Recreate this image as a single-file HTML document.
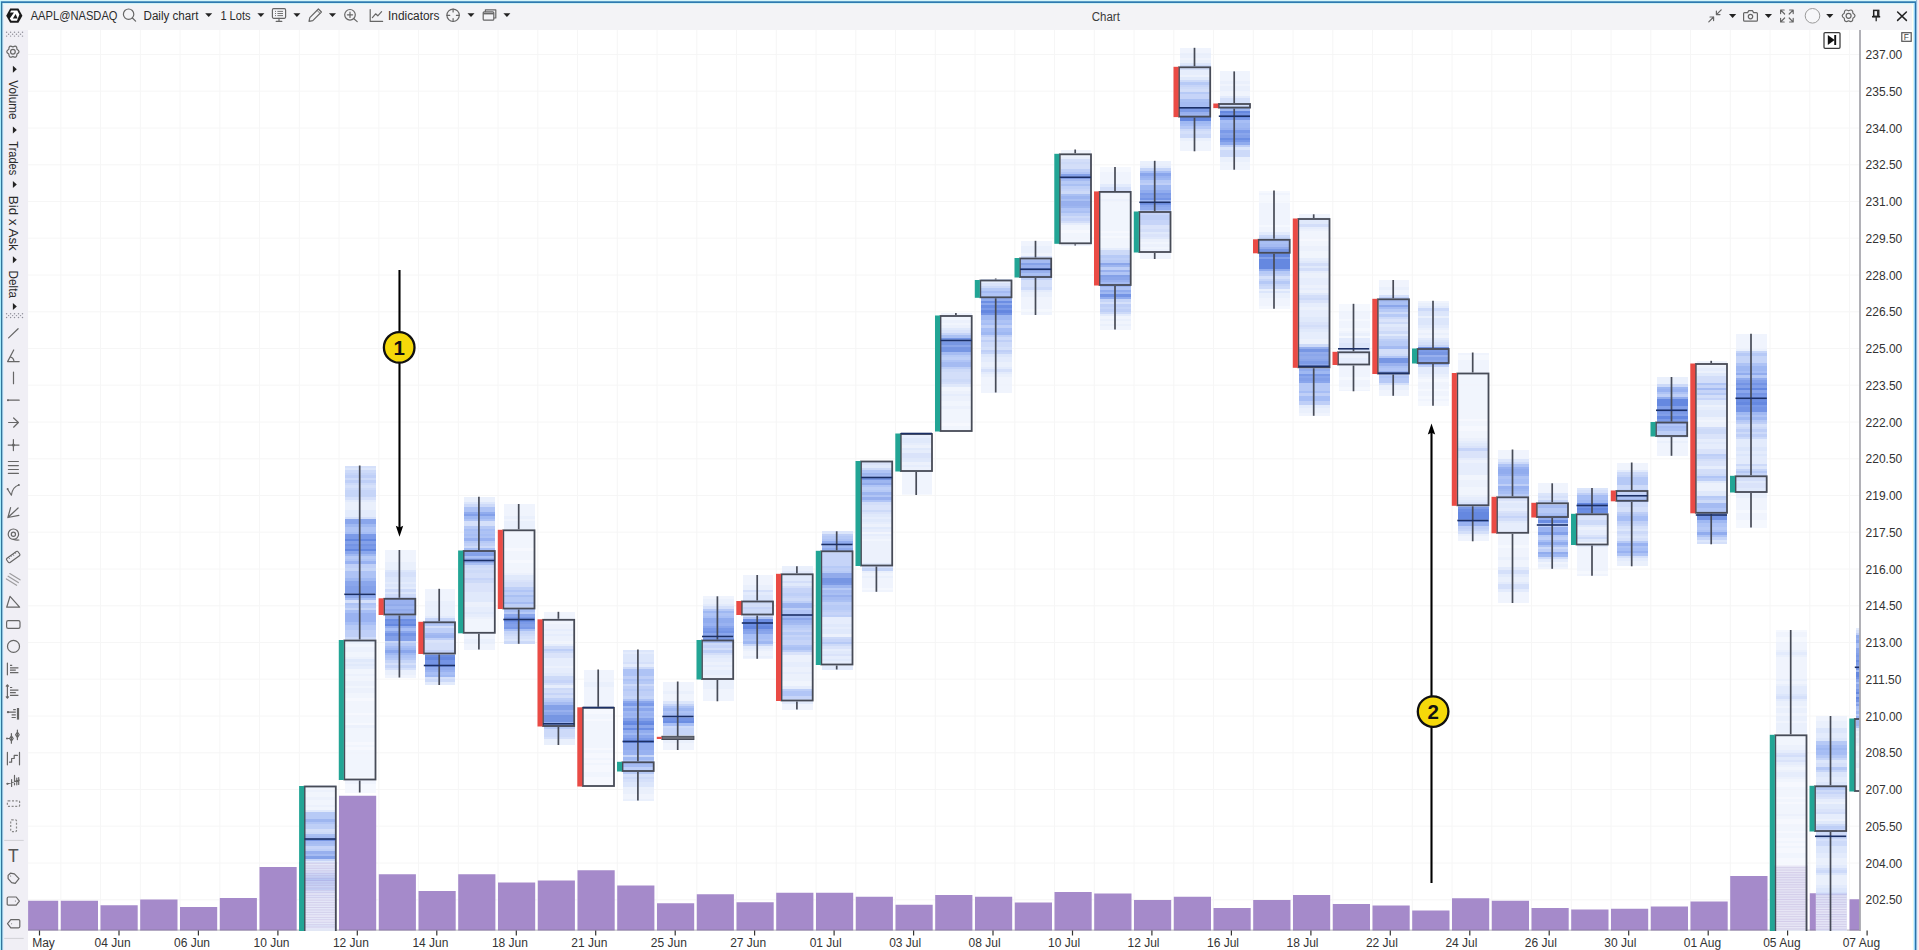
<!DOCTYPE html>
<html lang="en"><head><meta charset="utf-8"><title>Chart</title>
<style>
html,body{margin:0;padding:0;background:#fff;overflow:hidden}
body{width:1919px;height:950px;position:relative;font-family:"Liberation Sans",Arial,sans-serif}
svg{position:absolute;left:0;top:0;display:block}
svg text{font-family:"Liberation Sans",Arial,sans-serif}
</style></head><body>
<svg width="1919" height="950" viewBox="0 0 1919 950">
<g id="bg"><rect x="0" y="0" width="1919" height="950" fill="#fff"/><rect x="0" y="0" width="1919" height="1.3" fill="#d9f7fb"/><rect x="0" y="0" width="1" height="950" fill="#a6ebfb"/><rect x="1916" y="0" width="3" height="950" fill="#fdf6f4"/><rect x="2" y="3" width="1912.5" height="27" fill="#f3f3f6"/><rect x="2" y="30" width="26.1" height="921" fill="#f0eff5"/></g>
<g id="chart">
<path d="M28.1 54.5H1860M28.1 91.2H1860M28.1 128.0H1860M28.1 164.8H1860M28.1 201.5H1860M28.1 238.2H1860M28.1 275.0H1860M28.1 311.8H1860M28.1 348.5H1860M28.1 385.2H1860M28.1 422.0H1860M28.1 458.8H1860M28.1 495.5H1860M28.1 532.2H1860M28.1 569.0H1860M28.1 605.8H1860M28.1 642.5H1860M28.1 679.2H1860M28.1 716.0H1860M28.1 752.8H1860M28.1 789.5H1860M28.1 826.2H1860M28.1 863.0H1860M28.1 899.8H1860M60.9 30V930.5M100.6 30V930.5M140.4 30V930.5M180.1 30V930.5M219.9 30V930.5M259.6 30V930.5M299.4 30V930.5M339.1 30V930.5M378.9 30V930.5M418.6 30V930.5M458.4 30V930.5M498.1 30V930.5M537.8 30V930.5M577.6 30V930.5M617.3 30V930.5M657.1 30V930.5M696.8 30V930.5M736.6 30V930.5M776.3 30V930.5M816.1 30V930.5M855.8 30V930.5M895.6 30V930.5M935.3 30V930.5M975.1 30V930.5M1014.8 30V930.5M1054.6 30V930.5M1094.3 30V930.5M1134.1 30V930.5M1173.8 30V930.5M1213.6 30V930.5M1253.3 30V930.5M1293.1 30V930.5M1332.8 30V930.5M1372.6 30V930.5M1412.3 30V930.5M1452.1 30V930.5M1491.8 30V930.5M1531.6 30V930.5M1571.3 30V930.5M1611.1 30V930.5M1650.8 30V930.5M1690.6 30V930.5M1730.3 30V930.5M1770.1 30V930.5M1809.8 30V930.5M1849.6 30V930.5" stroke="#f6f6f6" stroke-width="1" fill="none"/>
<path d="M28.1 900.8H58.2V930.5H28.1zM60.8 900.8H98.0V930.5H60.8zM100.5 905.3H137.7V930.5H100.5zM140.2 899.5H177.5V930.5H140.2zM180.0 907.0H217.2V930.5H180.0zM219.8 898.0H256.9V930.5H219.8zM259.5 867.0H296.7V930.5H259.5zM299.2 862.0H336.4V930.5H299.2zM339.0 795.8H376.2V930.5H339.0zM378.8 874.3H415.9V930.5H378.8zM418.5 891.0H455.7V930.5H418.5zM458.2 874.3H495.4V930.5H458.2zM498.0 882.5H535.2V930.5H498.0zM537.8 880.5H574.9V930.5H537.8zM577.5 870.3H614.7V930.5H577.5zM617.2 885.5H654.4V930.5H617.2zM657.0 903.3H694.2V930.5H657.0zM696.8 894.3H733.9V930.5H696.8zM736.5 902.3H773.7V930.5H736.5zM776.2 892.8H813.4V930.5H776.2zM816.0 892.8H853.2V930.5H816.0zM855.8 896.8H892.9V930.5H855.8zM895.5 904.8H932.7V930.5H895.5zM935.2 895.0H972.4V930.5H935.2zM975.0 896.8H1012.2V930.5H975.0zM1014.8 902.5H1052.0V930.5H1014.8zM1054.5 892.0H1091.7V930.5H1054.5zM1094.2 893.5H1131.5V930.5H1094.2zM1134.0 900.0H1171.2V930.5H1134.0zM1173.8 896.8H1211.0V930.5H1173.8zM1213.5 908.0H1250.7V930.5H1213.5zM1253.2 900.0H1290.5V930.5H1253.2zM1293.0 895.0H1330.2V930.5H1293.0zM1332.8 904.0H1370.0V930.5H1332.8zM1372.5 905.5H1409.7V930.5H1372.5zM1412.2 910.5H1449.5V930.5H1412.2zM1452.0 898.3H1489.2V930.5H1452.0zM1491.8 900.8H1529.0V930.5H1491.8zM1531.5 908.0H1568.7V930.5H1531.5zM1571.2 909.5H1608.5V930.5H1571.2zM1611.0 908.8H1648.2V930.5H1611.0zM1650.8 906.5H1688.0V930.5H1650.8zM1690.5 901.5H1727.7V930.5H1690.5zM1730.2 876.0H1767.5V930.5H1730.2zM1770.0 865.5H1807.2V930.5H1770.0zM1809.8 893.3H1847.0V930.5H1809.8zM1849.5 899.3H1860.0V930.5H1849.5z" fill="#a58aca"/>
<path d="M28.1 930.1H1860" stroke="#6f6f78" stroke-width="1.1" opacity=".4"/>
<rect x="304.1" y="862" width="32.4" height="68.5" fill="#fff" opacity=".45"/>
<rect x="1815.5" y="893.3" width="31.2" height="37.2" fill="#fff" opacity=".35"/>
<g opacity=".82" shape-rendering="crispEdges"><path d="M305.2 785.00H336.1V787.45H305.2zM305.2 787.45H336.1V789.90H305.2zM305.2 792.35H336.1V794.80H305.2zM305.2 794.80H336.1V797.25H305.2zM305.2 799.70H336.1V802.15H305.2zM305.2 802.15H336.1V804.60H305.2zM305.2 807.05H336.1V809.50H305.2zM305.2 914.85H336.1V917.30H305.2zM305.2 919.75H336.1V922.20H305.2zM305.2 932.00H336.1V934.45H305.2zM305.2 934.45H336.1V936.90H305.2zM305.2 936.90H336.1V939.35H305.2zM305.2 939.35H336.1V940.00H305.2z" fill="rgb(237,242,253)"/><path d="M305.2 789.90H336.1V792.35H305.2zM305.2 797.25H336.1V799.70H305.2zM305.2 804.60H336.1V807.05H305.2zM305.2 863.40H336.1V865.85H305.2zM305.2 892.80H336.1V895.25H305.2zM305.2 897.70H336.1V900.15H305.2zM305.2 900.15H336.1V902.60H305.2zM305.2 902.60H336.1V905.05H305.2zM305.2 905.05H336.1V907.50H305.2zM305.2 907.50H336.1V909.95H305.2zM305.2 909.95H336.1V912.40H305.2zM305.2 912.40H336.1V914.85H305.2zM305.2 917.30H336.1V919.75H305.2zM305.2 922.20H336.1V924.65H305.2zM305.2 927.10H336.1V929.55H305.2zM305.2 929.55H336.1V932.00H305.2z" fill="rgb(230,237,252)"/><path d="M305.2 865.85H336.1V868.30H305.2zM305.2 868.30H336.1V870.75H305.2zM305.2 895.25H336.1V897.70H305.2zM305.2 924.65H336.1V927.10H305.2z" fill="rgb(222,231,252)"/><path d="M305.2 809.50H336.1V811.95H305.2zM305.2 860.95H336.1V863.40H305.2zM305.2 870.75H336.1V873.20H305.2zM305.2 890.35H336.1V892.80H305.2z" fill="rgb(213,225,251)"/><path d="M305.2 829.10H336.1V831.55H305.2zM305.2 873.20H336.1V875.65H305.2zM305.2 885.45H336.1V887.90H305.2z" fill="rgb(195,211,248)"/><path d="M305.2 831.55H336.1V834.00H305.2zM305.2 875.65H336.1V878.10H305.2zM305.2 880.55H336.1V883.00H305.2zM305.2 883.00H336.1V885.45H305.2zM305.2 887.90H336.1V890.35H305.2z" fill="rgb(186,205,247)"/><path d="M305.2 846.25H336.1V848.70H305.2zM305.2 858.50H336.1V860.95H305.2z" fill="rgb(177,197,246)"/><path d="M305.2 824.20H336.1V826.65H305.2zM305.2 826.65H336.1V829.10H305.2zM305.2 848.70H336.1V851.15H305.2zM305.2 878.10H336.1V880.55H305.2z" fill="rgb(167,190,245)"/><path d="M305.2 811.95H336.1V814.40H305.2zM305.2 814.40H336.1V816.85H305.2zM305.2 816.85H336.1V819.30H305.2z" fill="rgb(157,183,244)"/><path d="M305.2 821.75H336.1V824.20H305.2z" fill="rgb(148,176,243)"/><path d="M305.2 834.00H336.1V836.45H305.2zM305.2 843.80H336.1V846.25H305.2z" fill="rgb(139,169,240)"/><path d="M305.2 836.45H336.1V838.90H305.2zM305.2 841.35H336.1V843.80H305.2zM305.2 853.60H336.1V856.05H305.2z" fill="rgb(131,162,238)"/><path d="M305.2 819.30H336.1V821.75H305.2z" fill="rgb(122,154,235)"/><path d="M305.2 851.15H336.1V853.60H305.2z" fill="rgb(113,147,232)"/><path d="M305.2 856.05H336.1V858.50H305.2z" fill="rgb(86,125,224)"/><path d="M305.2 838.90H336.1V841.35H305.2z" fill="rgb(68,110,218)"/></g>
<path d="M305.2 863.40H336.1M305.2 865.85H336.1M305.2 868.30H336.1M305.2 870.75H336.1M305.2 873.20H336.1M305.2 875.65H336.1M305.2 878.10H336.1M305.2 880.55H336.1M305.2 883.00H336.1M305.2 885.45H336.1M305.2 887.90H336.1M305.2 890.35H336.1M305.2 892.80H336.1M305.2 895.25H336.1M305.2 897.70H336.1M305.2 900.15H336.1M305.2 902.60H336.1M305.2 905.05H336.1M305.2 907.50H336.1M305.2 909.95H336.1M305.2 912.40H336.1M305.2 914.85H336.1M305.2 917.30H336.1M305.2 919.75H336.1M305.2 922.20H336.1M305.2 924.65H336.1M305.2 927.10H336.1" stroke="#9a7fc4" stroke-width=".9" opacity=".28"/>
<g opacity=".82" shape-rendering="crispEdges"><path d="M345.0 698.25H375.8V700.70H345.0zM345.0 712.95H375.8V715.40H345.0zM345.0 722.75H375.8V725.20H345.0zM345.0 742.35H375.8V744.80H345.0zM345.0 747.25H375.8V749.70H345.0zM345.0 776.65H375.8V779.10H345.0zM345.0 784.00H375.8V786.45H345.0zM345.0 786.45H375.8V788.90H345.0zM345.0 788.90H375.8V791.35H345.0zM345.0 791.35H375.8V792.50H345.0z" fill="rgb(243,247,254)"/><path d="M345.0 644.35H375.8V646.80H345.0zM345.0 651.70H375.8V654.15H345.0zM345.0 654.15H375.8V656.60H345.0zM345.0 668.85H375.8V671.30H345.0zM345.0 671.30H375.8V673.75H345.0zM345.0 676.20H375.8V678.65H345.0zM345.0 678.65H375.8V681.10H345.0zM345.0 686.00H375.8V688.45H345.0zM345.0 693.35H375.8V695.80H345.0zM345.0 695.80H375.8V698.25H345.0zM345.0 700.70H375.8V703.15H345.0zM345.0 703.15H375.8V705.60H345.0zM345.0 705.60H375.8V708.05H345.0zM345.0 708.05H375.8V710.50H345.0zM345.0 710.50H375.8V712.95H345.0zM345.0 715.40H375.8V717.85H345.0zM345.0 717.85H375.8V720.30H345.0zM345.0 720.30H375.8V722.75H345.0zM345.0 727.65H375.8V730.10H345.0zM345.0 730.10H375.8V732.55H345.0zM345.0 732.55H375.8V735.00H345.0zM345.0 735.00H375.8V737.45H345.0zM345.0 737.45H375.8V739.90H345.0zM345.0 739.90H375.8V742.35H345.0zM345.0 744.80H375.8V747.25H345.0zM345.0 749.70H375.8V752.15H345.0zM345.0 752.15H375.8V754.60H345.0zM345.0 754.60H375.8V757.05H345.0zM345.0 757.05H375.8V759.50H345.0zM345.0 759.50H375.8V761.95H345.0zM345.0 761.95H375.8V764.40H345.0zM345.0 764.40H375.8V766.85H345.0zM345.0 766.85H375.8V769.30H345.0zM345.0 769.30H375.8V771.75H345.0zM345.0 771.75H375.8V774.20H345.0zM345.0 774.20H375.8V776.65H345.0zM345.0 779.10H375.8V781.55H345.0zM345.0 781.55H375.8V784.00H345.0z" fill="rgb(237,242,253)"/><path d="M345.0 502.25H375.8V504.70H345.0zM345.0 504.70H375.8V507.15H345.0zM345.0 507.15H375.8V509.60H345.0zM345.0 641.90H375.8V644.35H345.0zM345.0 646.80H375.8V649.25H345.0zM345.0 649.25H375.8V651.70H345.0zM345.0 656.60H375.8V659.05H345.0zM345.0 673.75H375.8V676.20H345.0zM345.0 681.10H375.8V683.55H345.0zM345.0 683.55H375.8V686.00H345.0zM345.0 688.45H375.8V690.90H345.0zM345.0 690.90H375.8V693.35H345.0zM345.0 725.20H375.8V727.65H345.0z" fill="rgb(230,237,252)"/><path d="M345.0 499.80H375.8V502.25H345.0zM345.0 509.60H375.8V512.05H345.0zM345.0 512.05H375.8V514.50H345.0zM345.0 514.50H375.8V516.95H345.0zM345.0 661.50H375.8V663.95H345.0zM345.0 666.40H375.8V668.85H345.0z" fill="rgb(222,231,252)"/><path d="M345.0 467.95H375.8V470.40H345.0zM345.0 639.45H375.8V641.90H345.0zM345.0 659.05H375.8V661.50H345.0zM345.0 663.95H375.8V666.40H345.0z" fill="rgb(213,225,251)"/><path d="M345.0 465.50H375.8V467.95H345.0zM345.0 485.10H375.8V487.55H345.0zM345.0 497.35H375.8V499.80H345.0zM345.0 516.95H375.8V519.40H345.0zM345.0 600.25H375.8V602.70H345.0z" fill="rgb(204,218,250)"/><path d="M345.0 470.40H375.8V472.85H345.0zM345.0 477.75H375.8V480.20H345.0zM345.0 482.65H375.8V485.10H345.0zM345.0 487.55H375.8V490.00H345.0zM345.0 637.00H375.8V639.45H345.0z" fill="rgb(195,211,248)"/><path d="M345.0 472.85H375.8V475.30H345.0zM345.0 490.00H375.8V492.45H345.0zM345.0 492.45H375.8V494.90H345.0zM345.0 494.90H375.8V497.35H345.0zM345.0 568.40H375.8V570.85H345.0zM345.0 607.60H375.8V610.05H345.0z" fill="rgb(186,205,247)"/><path d="M345.0 475.30H375.8V477.75H345.0zM345.0 480.20H375.8V482.65H345.0zM345.0 563.50H375.8V565.95H345.0zM345.0 565.95H375.8V568.40H345.0zM345.0 629.65H375.8V632.10H345.0zM345.0 632.10H375.8V634.55H345.0zM345.0 634.55H375.8V637.00H345.0z" fill="rgb(177,197,246)"/><path d="M345.0 556.15H375.8V558.60H345.0zM345.0 605.15H375.8V607.60H345.0zM345.0 624.75H375.8V627.20H345.0zM345.0 627.20H375.8V629.65H345.0z" fill="rgb(167,190,245)"/><path d="M345.0 526.75H375.8V529.20H345.0zM345.0 529.20H375.8V531.65H345.0zM345.0 558.60H375.8V561.05H345.0zM345.0 570.85H375.8V573.30H345.0zM345.0 573.30H375.8V575.75H345.0zM345.0 575.75H375.8V578.20H345.0zM345.0 602.70H375.8V605.15H345.0z" fill="rgb(157,183,244)"/><path d="M345.0 531.65H375.8V534.10H345.0zM345.0 592.90H375.8V595.35H345.0zM345.0 597.80H375.8V600.25H345.0zM345.0 610.05H375.8V612.50H345.0zM345.0 622.30H375.8V624.75H345.0z" fill="rgb(148,176,243)"/><path d="M345.0 524.30H375.8V526.75H345.0zM345.0 553.70H375.8V556.15H345.0zM345.0 578.20H375.8V580.65H345.0z" fill="rgb(139,169,240)"/><path d="M345.0 561.05H375.8V563.50H345.0zM345.0 612.50H375.8V614.95H345.0zM345.0 614.95H375.8V617.40H345.0zM345.0 617.40H375.8V619.85H345.0zM345.0 619.85H375.8V622.30H345.0z" fill="rgb(131,162,238)"/><path d="M345.0 595.35H375.8V597.80H345.0z" fill="rgb(122,154,235)"/><path d="M345.0 519.40H375.8V521.85H345.0zM345.0 521.85H375.8V524.30H345.0zM345.0 551.25H375.8V553.70H345.0zM345.0 580.65H375.8V583.10H345.0zM345.0 583.10H375.8V585.55H345.0z" fill="rgb(113,147,232)"/><path d="M345.0 541.45H375.8V543.90H345.0zM345.0 585.55H375.8V588.00H345.0zM345.0 588.00H375.8V590.45H345.0zM345.0 590.45H375.8V592.90H345.0z" fill="rgb(104,140,229)"/><path d="M345.0 534.10H375.8V536.55H345.0zM345.0 536.55H375.8V539.00H345.0zM345.0 546.35H375.8V548.80H345.0z" fill="rgb(95,133,227)"/><path d="M345.0 543.90H375.8V546.35H345.0z" fill="rgb(86,125,224)"/><path d="M345.0 539.00H375.8V541.45H345.0zM345.0 548.80H375.8V551.25H345.0z" fill="rgb(68,110,218)"/></g>
<g opacity=".82" shape-rendering="crispEdges"><path d="M384.8 550.00H415.6V552.45H384.8zM384.8 552.45H415.6V554.90H384.8zM384.8 554.90H415.6V557.35H384.8zM384.8 557.35H415.6V559.80H384.8zM384.8 559.80H415.6V562.25H384.8zM384.8 674.95H415.6V677.40H384.8zM384.8 677.40H415.6V677.50H384.8z" fill="rgb(237,242,253)"/><path d="M384.8 562.25H415.6V564.70H384.8zM384.8 564.70H415.6V567.15H384.8zM384.8 567.15H415.6V569.60H384.8zM384.8 670.05H415.6V672.50H384.8zM384.8 672.50H415.6V674.95H384.8z" fill="rgb(230,237,252)"/><path d="M384.8 581.85H415.6V584.30H384.8zM384.8 586.75H415.6V589.20H384.8z" fill="rgb(222,231,252)"/><path d="M384.8 569.60H415.6V572.05H384.8zM384.8 576.95H415.6V579.40H384.8zM384.8 579.40H415.6V581.85H384.8zM384.8 584.30H415.6V586.75H384.8zM384.8 591.65H415.6V594.10H384.8z" fill="rgb(213,225,251)"/><path d="M384.8 572.05H415.6V574.50H384.8zM384.8 574.50H415.6V576.95H384.8zM384.8 662.70H415.6V665.15H384.8zM384.8 667.60H415.6V670.05H384.8z" fill="rgb(204,218,250)"/><path d="M384.8 589.20H415.6V591.65H384.8zM384.8 594.10H415.6V596.55H384.8z" fill="rgb(195,211,248)"/><path d="M384.8 640.65H415.6V643.10H384.8zM384.8 660.25H415.6V662.70H384.8zM384.8 665.15H415.6V667.60H384.8z" fill="rgb(186,205,247)"/><path d="M384.8 596.55H415.6V599.00H384.8z" fill="rgb(177,197,246)"/><path d="M384.8 643.10H415.6V645.55H384.8zM384.8 657.80H415.6V660.25H384.8z" fill="rgb(167,190,245)"/><path d="M384.8 655.35H415.6V657.80H384.8z" fill="rgb(157,183,244)"/><path d="M384.8 613.70H415.6V616.15H384.8zM384.8 628.40H415.6V630.85H384.8zM384.8 645.55H415.6V648.00H384.8z" fill="rgb(148,176,243)"/><path d="M384.8 648.00H415.6V650.45H384.8zM384.8 652.90H415.6V655.35H384.8z" fill="rgb(139,169,240)"/><path d="M384.8 606.35H415.6V608.80H384.8zM384.8 616.15H415.6V618.60H384.8zM384.8 625.95H415.6V628.40H384.8z" fill="rgb(122,154,235)"/><path d="M384.8 599.00H415.6V601.45H384.8zM384.8 601.45H415.6V603.90H384.8zM384.8 611.25H415.6V613.70H384.8zM384.8 630.85H415.6V633.30H384.8zM384.8 650.45H415.6V652.90H384.8z" fill="rgb(113,147,232)"/><path d="M384.8 603.90H415.6V606.35H384.8zM384.8 608.80H415.6V611.25H384.8zM384.8 635.75H415.6V638.20H384.8zM384.8 638.20H415.6V640.65H384.8z" fill="rgb(104,140,229)"/><path d="M384.8 621.05H415.6V623.50H384.8zM384.8 633.30H415.6V635.75H384.8z" fill="rgb(86,125,224)"/><path d="M384.8 618.60H415.6V621.05H384.8z" fill="rgb(77,118,221)"/><path d="M384.8 623.50H415.6V625.95H384.8z" fill="rgb(68,110,218)"/></g>
<g opacity=".82" shape-rendering="crispEdges"><path d="M424.5 588.80H455.3V591.25H424.5zM424.5 591.25H455.3V593.70H424.5zM424.5 593.70H455.3V596.15H424.5zM424.5 596.15H455.3V598.60H424.5zM424.5 598.60H455.3V601.05H424.5z" fill="rgb(237,242,253)"/><path d="M424.5 601.05H455.3V603.50H424.5zM424.5 603.50H455.3V605.95H424.5zM424.5 605.95H455.3V608.40H424.5zM424.5 608.40H455.3V610.85H424.5zM424.5 610.85H455.3V613.30H424.5zM424.5 613.30H455.3V615.75H424.5z" fill="rgb(230,237,252)"/><path d="M424.5 615.75H455.3V618.20H424.5zM424.5 681.90H455.3V684.35H424.5zM424.5 684.35H455.3V685.00H424.5z" fill="rgb(222,231,252)"/><path d="M424.5 640.25H455.3V642.70H424.5zM424.5 677.00H455.3V679.45H424.5z" fill="rgb(204,218,250)"/><path d="M424.5 625.55H455.3V628.00H424.5zM424.5 642.70H455.3V645.15H424.5zM424.5 645.15H455.3V647.60H424.5zM424.5 647.60H455.3V650.05H424.5zM424.5 679.45H455.3V681.90H424.5z" fill="rgb(195,211,248)"/><path d="M424.5 618.20H455.3V620.65H424.5z" fill="rgb(186,205,247)"/><path d="M424.5 620.65H455.3V623.10H424.5zM424.5 650.05H455.3V652.50H424.5z" fill="rgb(177,197,246)"/><path d="M424.5 628.00H455.3V630.45H424.5zM424.5 630.45H455.3V632.90H424.5zM424.5 637.80H455.3V640.25H424.5zM424.5 652.50H455.3V654.95H424.5z" fill="rgb(167,190,245)"/><path d="M424.5 623.10H455.3V625.55H424.5zM424.5 672.10H455.3V674.55H424.5z" fill="rgb(148,176,243)"/><path d="M424.5 674.55H455.3V677.00H424.5z" fill="rgb(139,169,240)"/><path d="M424.5 632.90H455.3V635.35H424.5zM424.5 669.65H455.3V672.10H424.5z" fill="rgb(131,162,238)"/><path d="M424.5 635.35H455.3V637.80H424.5zM424.5 667.20H455.3V669.65H424.5z" fill="rgb(122,154,235)"/><path d="M424.5 664.75H455.3V667.20H424.5z" fill="rgb(95,133,227)"/><path d="M424.5 659.85H455.3V662.30H424.5zM424.5 662.30H455.3V664.75H424.5z" fill="rgb(86,125,224)"/><path d="M424.5 654.95H455.3V657.40H424.5z" fill="rgb(77,118,221)"/><path d="M424.5 657.40H455.3V659.85H424.5z" fill="rgb(68,110,218)"/></g>
<g opacity=".82" shape-rendering="crispEdges"><path d="M464.2 619.30H495.1V621.75H464.2zM464.2 621.75H495.1V624.20H464.2zM464.2 624.20H495.1V626.65H464.2zM464.2 626.65H495.1V629.10H464.2zM464.2 629.10H495.1V631.55H464.2zM464.2 631.55H495.1V634.00H464.2zM464.2 634.00H495.1V636.45H464.2zM464.2 636.45H495.1V638.90H464.2zM464.2 643.80H495.1V646.25H464.2zM464.2 646.25H495.1V648.70H464.2zM464.2 648.70H495.1V649.50H464.2z" fill="rgb(237,242,253)"/><path d="M464.2 496.80H495.1V499.25H464.2zM464.2 499.25H495.1V501.70H464.2zM464.2 602.15H495.1V604.60H464.2zM464.2 604.60H495.1V607.05H464.2zM464.2 616.85H495.1V619.30H464.2zM464.2 638.90H495.1V641.35H464.2zM464.2 641.35H495.1V643.80H464.2z" fill="rgb(230,237,252)"/><path d="M464.2 607.05H495.1V609.50H464.2zM464.2 609.50H495.1V611.95H464.2zM464.2 614.40H495.1V616.85H464.2z" fill="rgb(222,231,252)"/><path d="M464.2 501.70H495.1V504.15H464.2zM464.2 592.35H495.1V594.80H464.2zM464.2 594.80H495.1V597.25H464.2zM464.2 597.25H495.1V599.70H464.2zM464.2 599.70H495.1V602.15H464.2zM464.2 611.95H495.1V614.40H464.2z" fill="rgb(213,225,251)"/><path d="M464.2 521.30H495.1V523.75H464.2zM464.2 523.75H495.1V526.20H464.2zM464.2 582.55H495.1V585.00H464.2zM464.2 585.00H495.1V587.45H464.2zM464.2 587.45H495.1V589.90H464.2zM464.2 589.90H495.1V592.35H464.2z" fill="rgb(204,218,250)"/><path d="M464.2 504.15H495.1V506.60H464.2zM464.2 545.80H495.1V548.25H464.2zM464.2 567.85H495.1V570.30H464.2zM464.2 572.75H495.1V575.20H464.2zM464.2 575.20H495.1V577.65H464.2z" fill="rgb(195,211,248)"/><path d="M464.2 565.40H495.1V567.85H464.2zM464.2 570.30H495.1V572.75H464.2zM464.2 580.10H495.1V582.55H464.2z" fill="rgb(186,205,247)"/><path d="M464.2 543.35H495.1V545.80H464.2zM464.2 577.65H495.1V580.10H464.2z" fill="rgb(177,197,246)"/><path d="M464.2 526.20H495.1V528.65H464.2zM464.2 540.90H495.1V543.35H464.2z" fill="rgb(167,190,245)"/><path d="M464.2 506.60H495.1V509.05H464.2zM464.2 509.05H495.1V511.50H464.2zM464.2 518.85H495.1V521.30H464.2zM464.2 531.10H495.1V533.55H464.2zM464.2 536.00H495.1V538.45H464.2z" fill="rgb(157,183,244)"/><path d="M464.2 528.65H495.1V531.10H464.2zM464.2 533.55H495.1V536.00H464.2zM464.2 548.25H495.1V550.70H464.2z" fill="rgb(148,176,243)"/><path d="M464.2 516.40H495.1V518.85H464.2zM464.2 555.60H495.1V558.05H464.2zM464.2 562.95H495.1V565.40H464.2z" fill="rgb(139,169,240)"/><path d="M464.2 538.45H495.1V540.90H464.2z" fill="rgb(131,162,238)"/><path d="M464.2 511.50H495.1V513.95H464.2z" fill="rgb(122,154,235)"/><path d="M464.2 558.05H495.1V560.50H464.2z" fill="rgb(113,147,232)"/><path d="M464.2 513.95H495.1V516.40H464.2zM464.2 560.50H495.1V562.95H464.2z" fill="rgb(104,140,229)"/><path d="M464.2 550.70H495.1V553.15H464.2z" fill="rgb(95,133,227)"/><path d="M464.2 553.15H495.1V555.60H464.2z" fill="rgb(86,125,224)"/></g>
<g opacity=".82" shape-rendering="crispEdges"><path d="M504.0 548.10H534.8V550.55H504.0zM504.0 560.35H534.8V562.80H504.0z" fill="rgb(243,247,254)"/><path d="M504.0 504.00H534.8V506.45H504.0zM504.0 506.45H534.8V508.90H504.0zM504.0 508.90H534.8V511.35H504.0zM504.0 511.35H534.8V513.80H504.0zM504.0 513.80H534.8V516.25H504.0zM504.0 518.70H534.8V521.15H504.0zM504.0 528.50H534.8V530.95H504.0zM504.0 530.95H534.8V533.40H504.0zM504.0 533.40H534.8V535.85H504.0zM504.0 535.85H534.8V538.30H504.0zM504.0 538.30H534.8V540.75H504.0zM504.0 540.75H534.8V543.20H504.0zM504.0 543.20H534.8V545.65H504.0zM504.0 545.65H534.8V548.10H504.0zM504.0 550.55H534.8V553.00H504.0zM504.0 553.00H534.8V555.45H504.0zM504.0 555.45H534.8V557.90H504.0zM504.0 557.90H534.8V560.35H504.0zM504.0 562.80H534.8V565.25H504.0zM504.0 565.25H534.8V567.70H504.0zM504.0 567.70H534.8V570.15H504.0zM504.0 570.15H534.8V572.60H504.0z" fill="rgb(237,242,253)"/><path d="M504.0 516.25H534.8V518.70H504.0zM504.0 521.15H534.8V523.60H504.0zM504.0 523.60H534.8V526.05H504.0zM504.0 526.05H534.8V528.50H504.0zM504.0 572.60H534.8V575.05H504.0z" fill="rgb(230,237,252)"/><path d="M504.0 575.05H534.8V577.50H504.0zM504.0 577.50H534.8V579.95H504.0zM504.0 638.75H534.8V641.20H504.0z" fill="rgb(213,225,251)"/><path d="M504.0 579.95H534.8V582.40H504.0zM504.0 606.90H534.8V609.35H504.0zM504.0 636.30H534.8V638.75H504.0zM504.0 643.65H534.8V643.80H504.0z" fill="rgb(204,218,250)"/><path d="M504.0 582.40H534.8V584.85H504.0zM504.0 584.85H534.8V587.30H504.0zM504.0 633.85H534.8V636.30H504.0zM504.0 641.20H534.8V643.65H504.0z" fill="rgb(195,211,248)"/><path d="M504.0 631.40H534.8V633.85H504.0z" fill="rgb(186,205,247)"/><path d="M504.0 587.30H534.8V589.75H504.0zM504.0 592.20H534.8V594.65H504.0zM504.0 604.45H534.8V606.90H504.0zM504.0 611.80H534.8V614.25H504.0z" fill="rgb(167,190,245)"/><path d="M504.0 597.10H534.8V599.55H504.0zM504.0 599.55H534.8V602.00H504.0z" fill="rgb(157,183,244)"/><path d="M504.0 589.75H534.8V592.20H504.0zM504.0 609.35H534.8V611.80H504.0zM504.0 628.95H534.8V631.40H504.0z" fill="rgb(148,176,243)"/><path d="M504.0 594.65H534.8V597.10H504.0z" fill="rgb(139,169,240)"/><path d="M504.0 602.00H534.8V604.45H504.0z" fill="rgb(131,162,238)"/><path d="M504.0 614.25H534.8V616.70H504.0z" fill="rgb(113,147,232)"/><path d="M504.0 624.05H534.8V626.50H504.0z" fill="rgb(104,140,229)"/><path d="M504.0 616.70H534.8V619.15H504.0zM504.0 621.60H534.8V624.05H504.0zM504.0 626.50H534.8V628.95H504.0z" fill="rgb(95,133,227)"/><path d="M504.0 619.15H534.8V621.60H504.0z" fill="rgb(77,118,221)"/></g>
<g opacity=".82" shape-rendering="crispEdges"><path d="M543.8 611.80H574.5V614.25H543.8zM543.8 614.25H574.5V616.70H543.8zM543.8 616.70H574.5V619.15H543.8zM543.8 621.60H574.5V624.05H543.8zM543.8 641.20H574.5V643.65H543.8z" fill="rgb(237,242,253)"/><path d="M543.8 619.15H574.5V621.60H543.8zM543.8 624.05H574.5V626.50H543.8zM543.8 626.50H574.5V628.95H543.8zM543.8 631.40H574.5V633.85H543.8zM543.8 636.30H574.5V638.75H543.8zM543.8 638.75H574.5V641.20H543.8zM543.8 665.70H574.5V668.15H543.8zM543.8 739.20H574.5V741.65H543.8zM543.8 741.65H574.5V744.10H543.8zM543.8 744.10H574.5V745.00H543.8z" fill="rgb(230,237,252)"/><path d="M543.8 628.95H574.5V631.40H543.8zM543.8 633.85H574.5V636.30H543.8zM543.8 643.65H574.5V646.10H543.8zM543.8 658.35H574.5V660.80H543.8zM543.8 660.80H574.5V663.25H543.8zM543.8 663.25H574.5V665.70H543.8zM543.8 668.15H574.5V670.60H543.8zM543.8 670.60H574.5V673.05H543.8zM543.8 685.30H574.5V687.75H543.8z" fill="rgb(222,231,252)"/><path d="M543.8 673.05H574.5V675.50H543.8z" fill="rgb(213,225,251)"/><path d="M543.8 653.45H574.5V655.90H543.8zM543.8 655.90H574.5V658.35H543.8zM543.8 736.75H574.5V739.20H543.8z" fill="rgb(204,218,250)"/><path d="M543.8 646.10H574.5V648.55H543.8zM543.8 682.85H574.5V685.30H543.8zM543.8 690.20H574.5V692.65H543.8zM543.8 695.10H574.5V697.55H543.8zM543.8 729.40H574.5V731.85H543.8zM543.8 731.85H574.5V734.30H543.8zM543.8 734.30H574.5V736.75H543.8z" fill="rgb(195,211,248)"/><path d="M543.8 651.00H574.5V653.45H543.8zM543.8 675.50H574.5V677.95H543.8zM543.8 677.95H574.5V680.40H543.8zM543.8 687.75H574.5V690.20H543.8z" fill="rgb(186,205,247)"/><path d="M543.8 680.40H574.5V682.85H543.8zM543.8 692.65H574.5V695.10H543.8z" fill="rgb(177,197,246)"/><path d="M543.8 648.55H574.5V651.00H543.8zM543.8 697.55H574.5V700.00H543.8zM543.8 726.95H574.5V729.40H543.8z" fill="rgb(167,190,245)"/><path d="M543.8 700.00H574.5V702.45H543.8z" fill="rgb(157,183,244)"/><path d="M543.8 724.50H574.5V726.95H543.8z" fill="rgb(139,169,240)"/><path d="M543.8 702.45H574.5V704.90H543.8z" fill="rgb(131,162,238)"/><path d="M543.8 709.80H574.5V712.25H543.8zM543.8 722.05H574.5V724.50H543.8z" fill="rgb(113,147,232)"/><path d="M543.8 712.25H574.5V714.70H543.8z" fill="rgb(95,133,227)"/><path d="M543.8 704.90H574.5V707.35H543.8zM543.8 707.35H574.5V709.80H543.8z" fill="rgb(86,125,224)"/><path d="M543.8 714.70H574.5V717.15H543.8zM543.8 717.15H574.5V719.60H543.8zM543.8 719.60H574.5V722.05H543.8z" fill="rgb(68,110,218)"/></g>
<g opacity=".82" shape-rendering="crispEdges"><path d="M583.5 706.25H614.3V708.70H583.5zM583.5 708.70H614.3V711.15H583.5zM583.5 711.15H614.3V713.60H583.5zM583.5 718.50H614.3V720.95H583.5zM583.5 747.90H614.3V750.35H583.5zM583.5 752.80H614.3V755.25H583.5zM583.5 755.25H614.3V757.70H583.5zM583.5 760.15H614.3V762.60H583.5zM583.5 765.05H614.3V767.50H583.5zM583.5 767.50H614.3V769.95H583.5zM583.5 769.95H614.3V772.40H583.5zM583.5 777.30H614.3V779.75H583.5zM583.5 779.75H614.3V782.20H583.5zM583.5 782.20H614.3V784.65H583.5zM583.5 784.65H614.3V787.00H583.5z" fill="rgb(243,247,254)"/><path d="M583.5 669.50H614.3V671.95H583.5zM583.5 671.95H614.3V674.40H583.5zM583.5 674.40H614.3V676.85H583.5zM583.5 676.85H614.3V679.30H583.5zM583.5 679.30H614.3V681.75H583.5zM583.5 686.65H614.3V689.10H583.5zM583.5 689.10H614.3V691.55H583.5zM583.5 691.55H614.3V694.00H583.5zM583.5 694.00H614.3V696.45H583.5zM583.5 696.45H614.3V698.90H583.5zM583.5 698.90H614.3V701.35H583.5zM583.5 701.35H614.3V703.80H583.5zM583.5 703.80H614.3V706.25H583.5zM583.5 713.60H614.3V716.05H583.5zM583.5 716.05H614.3V718.50H583.5zM583.5 720.95H614.3V723.40H583.5zM583.5 723.40H614.3V725.85H583.5zM583.5 725.85H614.3V728.30H583.5zM583.5 728.30H614.3V730.75H583.5zM583.5 730.75H614.3V733.20H583.5zM583.5 733.20H614.3V735.65H583.5zM583.5 735.65H614.3V738.10H583.5zM583.5 738.10H614.3V740.55H583.5zM583.5 740.55H614.3V743.00H583.5zM583.5 743.00H614.3V745.45H583.5zM583.5 745.45H614.3V747.90H583.5zM583.5 750.35H614.3V752.80H583.5zM583.5 757.70H614.3V760.15H583.5zM583.5 762.60H614.3V765.05H583.5zM583.5 772.40H614.3V774.85H583.5zM583.5 774.85H614.3V777.30H583.5z" fill="rgb(237,242,253)"/><path d="M583.5 681.75H614.3V684.20H583.5zM583.5 684.20H614.3V686.65H583.5z" fill="rgb(230,237,252)"/></g>
<g opacity=".82" shape-rendering="crispEdges"><path d="M623.2 794.05H654.0V796.50H623.2zM623.2 796.50H654.0V798.95H623.2z" fill="rgb(237,242,253)"/><path d="M623.2 786.70H654.0V789.15H623.2zM623.2 789.15H654.0V791.60H623.2zM623.2 791.60H654.0V794.05H623.2zM623.2 798.95H654.0V800.50H623.2z" fill="rgb(230,237,252)"/><path d="M623.2 651.95H654.0V654.40H623.2zM623.2 664.20H654.0V666.65H623.2z" fill="rgb(222,231,252)"/><path d="M623.2 649.50H654.0V651.95H623.2zM623.2 654.40H654.0V656.85H623.2zM623.2 656.85H654.0V659.30H623.2zM623.2 659.30H654.0V661.75H623.2zM623.2 781.80H654.0V784.25H623.2zM623.2 784.25H654.0V786.70H623.2z" fill="rgb(213,225,251)"/><path d="M623.2 661.75H654.0V664.20H623.2zM623.2 774.45H654.0V776.90H623.2zM623.2 779.35H654.0V781.80H623.2z" fill="rgb(204,218,250)"/><path d="M623.2 666.65H654.0V669.10H623.2zM623.2 683.80H654.0V686.25H623.2zM623.2 776.90H654.0V779.35H623.2z" fill="rgb(195,211,248)"/><path d="M623.2 696.05H654.0V698.50H623.2zM623.2 754.85H654.0V757.30H623.2z" fill="rgb(186,205,247)"/><path d="M623.2 676.45H654.0V678.90H623.2zM623.2 686.25H654.0V688.70H623.2zM623.2 691.15H654.0V693.60H623.2zM623.2 693.60H654.0V696.05H623.2z" fill="rgb(177,197,246)"/><path d="M623.2 681.35H654.0V683.80H623.2zM623.2 688.70H654.0V691.15H623.2zM623.2 767.10H654.0V769.55H623.2zM623.2 772.00H654.0V774.45H623.2z" fill="rgb(167,190,245)"/><path d="M623.2 669.10H654.0V671.55H623.2zM623.2 671.55H654.0V674.00H623.2zM623.2 674.00H654.0V676.45H623.2zM623.2 678.90H654.0V681.35H623.2zM623.2 698.50H654.0V700.95H623.2zM623.2 759.75H654.0V762.20H623.2z" fill="rgb(157,183,244)"/><path d="M623.2 769.55H654.0V772.00H623.2z" fill="rgb(148,176,243)"/><path d="M623.2 705.85H654.0V708.30H623.2zM623.2 710.75H654.0V713.20H623.2zM623.2 715.65H654.0V718.10H623.2zM623.2 732.80H654.0V735.25H623.2zM623.2 757.30H654.0V759.75H623.2z" fill="rgb(139,169,240)"/><path d="M623.2 713.20H654.0V715.65H623.2zM623.2 749.95H654.0V752.40H623.2zM623.2 752.40H654.0V754.85H623.2zM623.2 762.20H654.0V764.65H623.2zM623.2 764.65H654.0V767.10H623.2z" fill="rgb(131,162,238)"/><path d="M623.2 730.35H654.0V732.80H623.2zM623.2 742.60H654.0V745.05H623.2zM623.2 745.05H654.0V747.50H623.2zM623.2 747.50H654.0V749.95H623.2z" fill="rgb(122,154,235)"/><path d="M623.2 700.95H654.0V703.40H623.2zM623.2 708.30H654.0V710.75H623.2zM623.2 725.45H654.0V727.90H623.2zM623.2 735.25H654.0V737.70H623.2z" fill="rgb(113,147,232)"/><path d="M623.2 718.10H654.0V720.55H623.2z" fill="rgb(104,140,229)"/><path d="M623.2 703.40H654.0V705.85H623.2zM623.2 737.70H654.0V740.15H623.2z" fill="rgb(95,133,227)"/><path d="M623.2 720.55H654.0V723.00H623.2zM623.2 727.90H654.0V730.35H623.2zM623.2 740.15H654.0V742.60H623.2z" fill="rgb(77,118,221)"/><path d="M623.2 723.00H654.0V725.45H623.2z" fill="rgb(68,110,218)"/></g>
<g opacity=".82" shape-rendering="crispEdges"><path d="M663.0 681.50H693.8V683.95H663.0zM663.0 683.95H693.8V686.40H663.0zM663.0 686.40H693.8V688.85H663.0zM663.0 688.85H693.8V691.30H663.0zM663.0 693.75H693.8V696.20H663.0zM663.0 696.20H693.8V698.65H663.0zM663.0 698.65H693.8V701.10H663.0zM663.0 742.75H693.8V745.20H663.0zM663.0 745.20H693.8V747.65H663.0zM663.0 747.65H693.8V750.00H663.0z" fill="rgb(237,242,253)"/><path d="M663.0 691.30H693.8V693.75H663.0zM663.0 737.85H693.8V740.30H663.0zM663.0 740.30H693.8V742.75H663.0z" fill="rgb(230,237,252)"/><path d="M663.0 735.40H693.8V737.85H663.0z" fill="rgb(222,231,252)"/><path d="M663.0 701.10H693.8V703.55H663.0z" fill="rgb(213,225,251)"/><path d="M663.0 725.60H693.8V728.05H663.0z" fill="rgb(195,211,248)"/><path d="M663.0 703.55H693.8V706.00H663.0zM663.0 728.05H693.8V730.50H663.0zM663.0 730.50H693.8V732.95H663.0zM663.0 732.95H693.8V735.40H663.0z" fill="rgb(186,205,247)"/><path d="M663.0 706.00H693.8V708.45H663.0zM663.0 710.90H693.8V713.35H663.0z" fill="rgb(157,183,244)"/><path d="M663.0 713.35H693.8V715.80H663.0zM663.0 723.15H693.8V725.60H663.0z" fill="rgb(148,176,243)"/><path d="M663.0 708.45H693.8V710.90H663.0zM663.0 715.80H693.8V718.25H663.0z" fill="rgb(139,169,240)"/><path d="M663.0 718.25H693.8V720.70H663.0z" fill="rgb(86,125,224)"/><path d="M663.0 720.70H693.8V723.15H663.0z" fill="rgb(77,118,221)"/></g>
<g opacity=".82" shape-rendering="crispEdges"><path d="M702.8 596.30H733.5V598.75H702.8zM702.8 689.40H733.5V691.85H702.8zM702.8 691.85H733.5V694.30H702.8zM702.8 694.30H733.5V696.75H702.8zM702.8 696.75H733.5V699.20H702.8zM702.8 699.20H733.5V701.30H702.8z" fill="rgb(237,242,253)"/><path d="M702.8 598.75H733.5V601.20H702.8zM702.8 601.20H733.5V603.65H702.8zM702.8 662.45H733.5V664.90H702.8zM702.8 667.35H733.5V669.80H702.8zM702.8 674.70H733.5V677.15H702.8zM702.8 677.15H733.5V679.60H702.8zM702.8 679.60H733.5V682.05H702.8zM702.8 682.05H733.5V684.50H702.8zM702.8 684.50H733.5V686.95H702.8zM702.8 686.95H733.5V689.40H702.8z" fill="rgb(230,237,252)"/><path d="M702.8 603.65H733.5V606.10H702.8zM702.8 657.55H733.5V660.00H702.8zM702.8 660.00H733.5V662.45H702.8zM702.8 664.90H733.5V667.35H702.8zM702.8 669.80H733.5V672.25H702.8zM702.8 672.25H733.5V674.70H702.8z" fill="rgb(222,231,252)"/><path d="M702.8 655.10H733.5V657.55H702.8z" fill="rgb(213,225,251)"/><path d="M702.8 606.10H733.5V608.55H702.8z" fill="rgb(204,218,250)"/><path d="M702.8 647.75H733.5V650.20H702.8zM702.8 652.65H733.5V655.10H702.8z" fill="rgb(195,211,248)"/><path d="M702.8 642.85H733.5V645.30H702.8z" fill="rgb(186,205,247)"/><path d="M702.8 645.30H733.5V647.75H702.8z" fill="rgb(177,197,246)"/><path d="M702.8 608.55H733.5V611.00H702.8zM702.8 650.20H733.5V652.65H702.8z" fill="rgb(167,190,245)"/><path d="M702.8 613.45H733.5V615.90H702.8z" fill="rgb(157,183,244)"/><path d="M702.8 615.90H733.5V618.35H702.8z" fill="rgb(148,176,243)"/><path d="M702.8 611.00H733.5V613.45H702.8zM702.8 640.40H733.5V642.85H702.8z" fill="rgb(139,169,240)"/><path d="M702.8 623.25H733.5V625.70H702.8zM702.8 635.50H733.5V637.95H702.8z" fill="rgb(131,162,238)"/><path d="M702.8 618.35H733.5V620.80H702.8zM702.8 620.80H733.5V623.25H702.8z" fill="rgb(122,154,235)"/><path d="M702.8 625.70H733.5V628.15H702.8zM702.8 633.05H733.5V635.50H702.8z" fill="rgb(113,147,232)"/><path d="M702.8 628.15H733.5V630.60H702.8zM702.8 637.95H733.5V640.40H702.8z" fill="rgb(95,133,227)"/><path d="M702.8 630.60H733.5V633.05H702.8z" fill="rgb(86,125,224)"/></g>
<g opacity=".82" shape-rendering="crispEdges"><path d="M742.5 575.00H773.3V577.45H742.5zM742.5 577.45H773.3V579.90H742.5zM742.5 579.90H773.3V582.35H742.5zM742.5 582.35H773.3V584.80H742.5zM742.5 650.95H773.3V653.40H742.5zM742.5 653.40H773.3V655.85H742.5zM742.5 658.30H773.3V658.80H742.5z" fill="rgb(237,242,253)"/><path d="M742.5 584.80H773.3V587.25H742.5zM742.5 587.25H773.3V589.70H742.5zM742.5 648.50H773.3V650.95H742.5zM742.5 655.85H773.3V658.30H742.5z" fill="rgb(230,237,252)"/><path d="M742.5 592.15H773.3V594.60H742.5zM742.5 646.05H773.3V648.50H742.5z" fill="rgb(222,231,252)"/><path d="M742.5 594.60H773.3V597.05H742.5zM742.5 597.05H773.3V599.50H742.5z" fill="rgb(213,225,251)"/><path d="M742.5 589.70H773.3V592.15H742.5z" fill="rgb(204,218,250)"/><path d="M742.5 599.50H773.3V601.95H742.5zM742.5 604.40H773.3V606.85H742.5zM742.5 614.20H773.3V616.65H742.5z" fill="rgb(195,211,248)"/><path d="M742.5 601.95H773.3V604.40H742.5zM742.5 609.30H773.3V611.75H742.5zM742.5 611.75H773.3V614.20H742.5zM742.5 643.60H773.3V646.05H742.5z" fill="rgb(186,205,247)"/><path d="M742.5 606.85H773.3V609.30H742.5z" fill="rgb(177,197,246)"/><path d="M742.5 616.65H773.3V619.10H742.5zM742.5 638.70H773.3V641.15H742.5z" fill="rgb(157,183,244)"/><path d="M742.5 633.80H773.3V636.25H742.5zM742.5 636.25H773.3V638.70H742.5z" fill="rgb(148,176,243)"/><path d="M742.5 641.15H773.3V643.60H742.5z" fill="rgb(139,169,240)"/><path d="M742.5 631.35H773.3V633.80H742.5z" fill="rgb(113,147,232)"/><path d="M742.5 628.90H773.3V631.35H742.5z" fill="rgb(104,140,229)"/><path d="M742.5 619.10H773.3V621.55H742.5zM742.5 624.00H773.3V626.45H742.5z" fill="rgb(77,118,221)"/><path d="M742.5 621.55H773.3V624.00H742.5zM742.5 626.45H773.3V628.90H742.5z" fill="rgb(68,110,218)"/></g>
<g opacity=".82" shape-rendering="crispEdges"><path d="M782.2 681.45H813.0V683.90H782.2zM782.2 683.90H813.0V686.35H782.2zM782.2 703.50H813.0V705.95H782.2zM782.2 705.95H813.0V708.40H782.2zM782.2 708.40H813.0V709.50H782.2z" fill="rgb(237,242,253)"/><path d="M782.2 566.30H813.0V568.75H782.2zM782.2 568.75H813.0V571.20H782.2zM782.2 654.50H813.0V656.95H782.2zM782.2 656.95H813.0V659.40H782.2zM782.2 659.40H813.0V661.85H782.2zM782.2 666.75H813.0V669.20H782.2zM782.2 669.20H813.0V671.65H782.2zM782.2 674.10H813.0V676.55H782.2zM782.2 676.55H813.0V679.00H782.2zM782.2 679.00H813.0V681.45H782.2z" fill="rgb(230,237,252)"/><path d="M782.2 571.20H813.0V573.65H782.2zM782.2 661.85H813.0V664.30H782.2zM782.2 664.30H813.0V666.75H782.2zM782.2 671.65H813.0V674.10H782.2zM782.2 686.35H813.0V688.80H782.2zM782.2 701.05H813.0V703.50H782.2z" fill="rgb(222,231,252)"/><path d="M782.2 573.65H813.0V576.10H782.2zM782.2 576.10H813.0V578.55H782.2zM782.2 578.55H813.0V581.00H782.2zM782.2 583.45H813.0V585.90H782.2z" fill="rgb(213,225,251)"/><path d="M782.2 652.05H813.0V654.50H782.2z" fill="rgb(204,218,250)"/><path d="M782.2 581.00H813.0V583.45H782.2zM782.2 585.90H813.0V588.35H782.2zM782.2 698.60H813.0V701.05H782.2z" fill="rgb(195,211,248)"/><path d="M782.2 598.15H813.0V600.60H782.2z" fill="rgb(186,205,247)"/><path d="M782.2 588.35H813.0V590.80H782.2zM782.2 590.80H813.0V593.25H782.2zM782.2 595.70H813.0V598.15H782.2zM782.2 630.00H813.0V632.45H782.2zM782.2 634.90H813.0V637.35H782.2zM782.2 639.80H813.0V642.25H782.2zM782.2 642.25H813.0V644.70H782.2zM782.2 696.15H813.0V698.60H782.2z" fill="rgb(177,197,246)"/><path d="M782.2 593.25H813.0V595.70H782.2zM782.2 600.60H813.0V603.05H782.2zM782.2 607.95H813.0V610.40H782.2zM782.2 627.55H813.0V630.00H782.2zM782.2 637.35H813.0V639.80H782.2zM782.2 649.60H813.0V652.05H782.2zM782.2 688.80H813.0V691.25H782.2z" fill="rgb(167,190,245)"/><path d="M782.2 625.10H813.0V627.55H782.2zM782.2 632.45H813.0V634.90H782.2z" fill="rgb(157,183,244)"/><path d="M782.2 610.40H813.0V612.85H782.2zM782.2 612.85H813.0V615.30H782.2zM782.2 644.70H813.0V647.15H782.2zM782.2 691.25H813.0V693.70H782.2zM782.2 693.70H813.0V696.15H782.2z" fill="rgb(148,176,243)"/><path d="M782.2 647.15H813.0V649.60H782.2z" fill="rgb(139,169,240)"/><path d="M782.2 622.65H813.0V625.10H782.2z" fill="rgb(131,162,238)"/><path d="M782.2 603.05H813.0V605.50H782.2zM782.2 605.50H813.0V607.95H782.2zM782.2 615.30H813.0V617.75H782.2zM782.2 620.20H813.0V622.65H782.2z" fill="rgb(122,154,235)"/><path d="M782.2 617.75H813.0V620.20H782.2z" fill="rgb(95,133,227)"/></g>
<g opacity=".82" shape-rendering="crispEdges"><path d="M822.0 634.20H852.8V636.65H822.0zM822.0 663.60H852.8V666.05H822.0z" fill="rgb(230,237,252)"/><path d="M822.0 617.05H852.8V619.50H822.0zM822.0 619.50H852.8V621.95H822.0zM822.0 621.95H852.8V624.40H822.0zM822.0 626.85H852.8V629.30H822.0zM822.0 648.90H852.8V651.35H822.0zM822.0 656.25H852.8V658.70H822.0zM822.0 661.15H852.8V663.60H822.0zM822.0 666.05H852.8V668.50H822.0zM822.0 668.50H852.8V669.50H822.0z" fill="rgb(222,231,252)"/><path d="M822.0 531.30H852.8V533.75H822.0zM822.0 624.40H852.8V626.85H822.0zM822.0 629.30H852.8V631.75H822.0zM822.0 631.75H852.8V634.20H822.0zM822.0 651.35H852.8V653.80H822.0zM822.0 658.70H852.8V661.15H822.0z" fill="rgb(213,225,251)"/><path d="M822.0 646.45H852.8V648.90H822.0zM822.0 653.80H852.8V656.25H822.0z" fill="rgb(204,218,250)"/><path d="M822.0 550.90H852.8V553.35H822.0zM822.0 636.65H852.8V639.10H822.0zM822.0 644.00H852.8V646.45H822.0z" fill="rgb(186,205,247)"/><path d="M822.0 533.75H852.8V536.20H822.0zM822.0 553.35H852.8V555.80H822.0zM822.0 555.80H852.8V558.25H822.0zM822.0 558.25H852.8V560.70H822.0zM822.0 560.70H852.8V563.15H822.0zM822.0 563.15H852.8V565.60H822.0zM822.0 612.15H852.8V614.60H822.0zM822.0 639.10H852.8V641.55H822.0z" fill="rgb(177,197,246)"/><path d="M822.0 536.20H852.8V538.65H822.0zM822.0 568.05H852.8V570.50H822.0zM822.0 602.35H852.8V604.80H822.0zM822.0 609.70H852.8V612.15H822.0zM822.0 614.60H852.8V617.05H822.0z" fill="rgb(167,190,245)"/><path d="M822.0 538.65H852.8V541.10H822.0zM822.0 543.55H852.8V546.00H822.0zM822.0 565.60H852.8V568.05H822.0zM822.0 570.50H852.8V572.95H822.0zM822.0 587.65H852.8V590.10H822.0zM822.0 604.80H852.8V607.25H822.0zM822.0 607.25H852.8V609.70H822.0zM822.0 641.55H852.8V644.00H822.0z" fill="rgb(157,183,244)"/><path d="M822.0 546.00H852.8V548.45H822.0zM822.0 592.55H852.8V595.00H822.0zM822.0 599.90H852.8V602.35H822.0z" fill="rgb(139,169,240)"/><path d="M822.0 590.10H852.8V592.55H822.0zM822.0 597.45H852.8V599.90H822.0z" fill="rgb(131,162,238)"/><path d="M822.0 541.10H852.8V543.55H822.0zM822.0 548.45H852.8V550.90H822.0zM822.0 585.20H852.8V587.65H822.0z" fill="rgb(122,154,235)"/><path d="M822.0 595.00H852.8V597.45H822.0z" fill="rgb(113,147,232)"/><path d="M822.0 572.95H852.8V575.40H822.0zM822.0 575.40H852.8V577.85H822.0z" fill="rgb(104,140,229)"/><path d="M822.0 582.75H852.8V585.20H822.0z" fill="rgb(77,118,221)"/><path d="M822.0 577.85H852.8V580.30H822.0zM822.0 580.30H852.8V582.75H822.0z" fill="rgb(68,110,218)"/></g>
<g opacity=".82" shape-rendering="crispEdges"><path d="M861.8 587.90H892.5V590.35H861.8z" fill="rgb(243,247,254)"/><path d="M861.8 531.55H892.5V534.00H861.8zM861.8 538.90H892.5V541.35H861.8zM861.8 573.20H892.5V575.65H861.8zM861.8 578.10H892.5V580.55H861.8zM861.8 580.55H892.5V583.00H861.8zM861.8 583.00H892.5V585.45H861.8zM861.8 585.45H892.5V587.90H861.8zM861.8 590.35H892.5V591.80H861.8z" fill="rgb(237,242,253)"/><path d="M861.8 524.20H892.5V526.65H861.8zM861.8 536.45H892.5V538.90H861.8zM861.8 541.35H892.5V543.80H861.8zM861.8 543.80H892.5V546.25H861.8zM861.8 546.25H892.5V548.70H861.8zM861.8 548.70H892.5V551.15H861.8zM861.8 551.15H892.5V553.60H861.8zM861.8 553.60H892.5V556.05H861.8zM861.8 556.05H892.5V558.50H861.8zM861.8 558.50H892.5V560.95H861.8zM861.8 560.95H892.5V563.40H861.8zM861.8 570.75H892.5V573.20H861.8zM861.8 575.65H892.5V578.10H861.8z" fill="rgb(230,237,252)"/><path d="M861.8 516.85H892.5V519.30H861.8zM861.8 521.75H892.5V524.20H861.8zM861.8 529.10H892.5V531.55H861.8zM861.8 534.00H892.5V536.45H861.8z" fill="rgb(222,231,252)"/><path d="M861.8 465.40H892.5V467.85H861.8zM861.8 514.40H892.5V516.85H861.8zM861.8 519.30H892.5V521.75H861.8zM861.8 526.65H892.5V529.10H861.8zM861.8 563.40H892.5V565.85H861.8z" fill="rgb(213,225,251)"/><path d="M861.8 460.50H892.5V462.95H861.8zM861.8 462.95H892.5V465.40H861.8zM861.8 504.60H892.5V507.05H861.8zM861.8 507.05H892.5V509.50H861.8zM861.8 511.95H892.5V514.40H861.8zM861.8 565.85H892.5V568.30H861.8z" fill="rgb(204,218,250)"/><path d="M861.8 502.15H892.5V504.60H861.8z" fill="rgb(195,211,248)"/><path d="M861.8 467.85H892.5V470.30H861.8zM861.8 509.50H892.5V511.95H861.8zM861.8 568.30H892.5V570.75H861.8z" fill="rgb(186,205,247)"/><path d="M861.8 487.45H892.5V489.90H861.8z" fill="rgb(167,190,245)"/><path d="M861.8 489.90H892.5V492.35H861.8z" fill="rgb(157,183,244)"/><path d="M861.8 470.30H892.5V472.75H861.8zM861.8 485.00H892.5V487.45H861.8zM861.8 494.80H892.5V497.25H861.8zM861.8 499.70H892.5V502.15H861.8z" fill="rgb(148,176,243)"/><path d="M861.8 475.20H892.5V477.65H861.8z" fill="rgb(131,162,238)"/><path d="M861.8 472.75H892.5V475.20H861.8zM861.8 480.10H892.5V482.55H861.8zM861.8 492.35H892.5V494.80H861.8z" fill="rgb(122,154,235)"/><path d="M861.8 497.25H892.5V499.70H861.8z" fill="rgb(113,147,232)"/><path d="M861.8 482.55H892.5V485.00H861.8z" fill="rgb(104,140,229)"/><path d="M861.8 477.65H892.5V480.10H861.8z" fill="rgb(68,110,218)"/></g>
<g opacity=".82" shape-rendering="crispEdges"><path d="M901.5 494.25H932.3V495.00H901.5z" fill="rgb(243,247,254)"/><path d="M901.5 472.20H932.3V474.65H901.5zM901.5 474.65H932.3V477.10H901.5zM901.5 477.10H932.3V479.55H901.5zM901.5 479.55H932.3V482.00H901.5zM901.5 482.00H932.3V484.45H901.5zM901.5 484.45H932.3V486.90H901.5zM901.5 486.90H932.3V489.35H901.5zM901.5 489.35H932.3V491.80H901.5zM901.5 491.80H932.3V494.25H901.5z" fill="rgb(237,242,253)"/><path d="M901.5 433.00H932.3V435.45H901.5zM901.5 445.25H932.3V447.70H901.5zM901.5 462.40H932.3V464.85H901.5zM901.5 467.30H932.3V469.75H901.5zM901.5 469.75H932.3V472.20H901.5z" fill="rgb(230,237,252)"/><path d="M901.5 435.45H932.3V437.90H901.5zM901.5 442.80H932.3V445.25H901.5zM901.5 450.15H932.3V452.60H901.5zM901.5 464.85H932.3V467.30H901.5z" fill="rgb(222,231,252)"/><path d="M901.5 437.90H932.3V440.35H901.5zM901.5 440.35H932.3V442.80H901.5zM901.5 447.70H932.3V450.15H901.5zM901.5 457.50H932.3V459.95H901.5zM901.5 459.95H932.3V462.40H901.5z" fill="rgb(213,225,251)"/><path d="M901.5 452.60H932.3V455.05H901.5zM901.5 455.05H932.3V457.50H901.5z" fill="rgb(204,218,250)"/></g>
<g opacity=".82" shape-rendering="crispEdges"><path d="M941.2 423.25H972.0V425.70H941.2zM941.2 430.60H972.0V432.00H941.2z" fill="rgb(243,247,254)"/><path d="M941.2 313.00H972.0V315.45H941.2zM941.2 315.45H972.0V317.90H941.2zM941.2 317.90H972.0V320.35H941.2zM941.2 322.80H972.0V325.25H941.2zM941.2 386.50H972.0V388.95H941.2zM941.2 388.95H972.0V391.40H941.2zM941.2 401.20H972.0V403.65H941.2zM941.2 403.65H972.0V406.10H941.2zM941.2 408.55H972.0V411.00H941.2zM941.2 411.00H972.0V413.45H941.2zM941.2 413.45H972.0V415.90H941.2zM941.2 415.90H972.0V418.35H941.2zM941.2 418.35H972.0V420.80H941.2zM941.2 420.80H972.0V423.25H941.2zM941.2 425.70H972.0V428.15H941.2zM941.2 428.15H972.0V430.60H941.2z" fill="rgb(237,242,253)"/><path d="M941.2 320.35H972.0V322.80H941.2zM941.2 325.25H972.0V327.70H941.2zM941.2 391.40H972.0V393.85H941.2zM941.2 396.30H972.0V398.75H941.2zM941.2 398.75H972.0V401.20H941.2zM941.2 406.10H972.0V408.55H941.2z" fill="rgb(230,237,252)"/><path d="M941.2 393.85H972.0V396.30H941.2z" fill="rgb(222,231,252)"/><path d="M941.2 327.70H972.0V330.15H941.2zM941.2 384.05H972.0V386.50H941.2z" fill="rgb(213,225,251)"/><path d="M941.2 330.15H972.0V332.60H941.2z" fill="rgb(204,218,250)"/><path d="M941.2 371.80H972.0V374.25H941.2zM941.2 374.25H972.0V376.70H941.2zM941.2 376.70H972.0V379.15H941.2zM941.2 381.60H972.0V384.05H941.2z" fill="rgb(195,211,248)"/><path d="M941.2 369.35H972.0V371.80H941.2zM941.2 379.15H972.0V381.60H941.2z" fill="rgb(186,205,247)"/><path d="M941.2 332.60H972.0V335.05H941.2z" fill="rgb(177,197,246)"/><path d="M941.2 357.10H972.0V359.55H941.2zM941.2 366.90H972.0V369.35H941.2z" fill="rgb(167,190,245)"/><path d="M941.2 354.65H972.0V357.10H941.2z" fill="rgb(157,183,244)"/><path d="M941.2 359.55H972.0V362.00H941.2z" fill="rgb(148,176,243)"/><path d="M941.2 335.05H972.0V337.50H941.2z" fill="rgb(139,169,240)"/><path d="M941.2 352.20H972.0V354.65H941.2zM941.2 362.00H972.0V364.45H941.2zM941.2 364.45H972.0V366.90H941.2z" fill="rgb(131,162,238)"/><path d="M941.2 339.95H972.0V342.40H941.2zM941.2 344.85H972.0V347.30H941.2z" fill="rgb(95,133,227)"/><path d="M941.2 337.50H972.0V339.95H941.2zM941.2 342.40H972.0V344.85H941.2zM941.2 347.30H972.0V349.75H941.2zM941.2 349.75H972.0V352.20H941.2z" fill="rgb(68,110,218)"/></g>
<g opacity=".82" shape-rendering="crispEdges"><path d="M981.0 376.50H1011.8V378.95H981.0zM981.0 378.95H1011.8V381.40H981.0zM981.0 381.40H1011.8V383.85H981.0zM981.0 383.85H1011.8V386.30H981.0zM981.0 386.30H1011.8V388.75H981.0zM981.0 388.75H1011.8V391.20H981.0zM981.0 391.20H1011.8V392.50H981.0z" fill="rgb(237,242,253)"/><path d="M981.0 361.80H1011.8V364.25H981.0zM981.0 364.25H1011.8V366.70H981.0zM981.0 374.05H1011.8V376.50H981.0z" fill="rgb(230,237,252)"/><path d="M981.0 280.95H1011.8V283.40H981.0zM981.0 356.90H1011.8V359.35H981.0zM981.0 359.35H1011.8V361.80H981.0zM981.0 366.70H1011.8V369.15H981.0zM981.0 371.60H1011.8V374.05H981.0z" fill="rgb(222,231,252)"/><path d="M981.0 278.50H1011.8V280.95H981.0zM981.0 354.45H1011.8V356.90H981.0z" fill="rgb(213,225,251)"/><path d="M981.0 283.40H1011.8V285.85H981.0zM981.0 347.10H1011.8V349.55H981.0zM981.0 369.15H1011.8V371.60H981.0z" fill="rgb(204,218,250)"/><path d="M981.0 337.30H1011.8V339.75H981.0zM981.0 342.20H1011.8V344.65H981.0zM981.0 344.65H1011.8V347.10H981.0z" fill="rgb(195,211,248)"/><path d="M981.0 285.85H1011.8V288.30H981.0zM981.0 352.00H1011.8V354.45H981.0z" fill="rgb(186,205,247)"/><path d="M981.0 325.05H1011.8V327.50H981.0zM981.0 334.85H1011.8V337.30H981.0zM981.0 339.75H1011.8V342.20H981.0zM981.0 349.55H1011.8V352.00H981.0z" fill="rgb(177,197,246)"/><path d="M981.0 288.30H1011.8V290.75H981.0zM981.0 295.65H1011.8V298.10H981.0zM981.0 320.15H1011.8V322.60H981.0z" fill="rgb(157,183,244)"/><path d="M981.0 293.20H1011.8V295.65H981.0zM981.0 322.60H1011.8V325.05H981.0zM981.0 327.50H1011.8V329.95H981.0zM981.0 329.95H1011.8V332.40H981.0z" fill="rgb(148,176,243)"/><path d="M981.0 315.25H1011.8V317.70H981.0zM981.0 317.70H1011.8V320.15H981.0zM981.0 332.40H1011.8V334.85H981.0z" fill="rgb(139,169,240)"/><path d="M981.0 290.75H1011.8V293.20H981.0z" fill="rgb(131,162,238)"/><path d="M981.0 298.10H1011.8V300.55H981.0z" fill="rgb(122,154,235)"/><path d="M981.0 303.00H1011.8V305.45H981.0z" fill="rgb(113,147,232)"/><path d="M981.0 307.90H1011.8V310.35H981.0z" fill="rgb(95,133,227)"/><path d="M981.0 312.80H1011.8V315.25H981.0z" fill="rgb(86,125,224)"/><path d="M981.0 300.55H1011.8V303.00H981.0zM981.0 305.45H1011.8V307.90H981.0z" fill="rgb(77,118,221)"/><path d="M981.0 310.35H1011.8V312.80H981.0z" fill="rgb(68,110,218)"/></g>
<g opacity=".82" shape-rendering="crispEdges"><path d="M1020.8 309.40H1051.5V311.85H1020.8z" fill="rgb(243,247,254)"/><path d="M1020.8 240.80H1051.5V243.25H1020.8zM1020.8 243.25H1051.5V245.70H1020.8zM1020.8 253.05H1051.5V255.50H1020.8zM1020.8 297.15H1051.5V299.60H1020.8zM1020.8 299.60H1051.5V302.05H1020.8zM1020.8 302.05H1051.5V304.50H1020.8zM1020.8 304.50H1051.5V306.95H1020.8zM1020.8 306.95H1051.5V309.40H1020.8zM1020.8 311.85H1051.5V314.30H1020.8zM1020.8 314.30H1051.5V315.00H1020.8z" fill="rgb(237,242,253)"/><path d="M1020.8 245.70H1051.5V248.15H1020.8zM1020.8 248.15H1051.5V250.60H1020.8zM1020.8 250.60H1051.5V253.05H1020.8zM1020.8 292.25H1051.5V294.70H1020.8zM1020.8 294.70H1051.5V297.15H1020.8z" fill="rgb(230,237,252)"/><path d="M1020.8 289.80H1051.5V292.25H1020.8z" fill="rgb(222,231,252)"/><path d="M1020.8 255.50H1051.5V257.95H1020.8zM1020.8 280.00H1051.5V282.45H1020.8zM1020.8 282.45H1051.5V284.90H1020.8zM1020.8 284.90H1051.5V287.35H1020.8z" fill="rgb(204,218,250)"/><path d="M1020.8 287.35H1051.5V289.80H1020.8z" fill="rgb(195,211,248)"/><path d="M1020.8 277.55H1051.5V280.00H1020.8z" fill="rgb(177,197,246)"/><path d="M1020.8 257.95H1051.5V260.40H1020.8z" fill="rgb(157,183,244)"/><path d="M1020.8 272.65H1051.5V275.10H1020.8z" fill="rgb(139,169,240)"/><path d="M1020.8 260.40H1051.5V262.85H1020.8zM1020.8 275.10H1051.5V277.55H1020.8z" fill="rgb(131,162,238)"/><path d="M1020.8 265.30H1051.5V267.75H1020.8zM1020.8 270.20H1051.5V272.65H1020.8z" fill="rgb(113,147,232)"/><path d="M1020.8 262.85H1051.5V265.30H1020.8z" fill="rgb(86,125,224)"/><path d="M1020.8 267.75H1051.5V270.20H1020.8z" fill="rgb(68,110,218)"/></g>
<g opacity=".82" shape-rendering="crispEdges"><path d="M1060.5 230.35H1091.3V232.80H1060.5z" fill="rgb(243,247,254)"/><path d="M1060.5 149.50H1091.3V151.95H1060.5zM1060.5 151.95H1091.3V154.40H1060.5zM1060.5 225.45H1091.3V227.90H1060.5zM1060.5 227.90H1091.3V230.35H1060.5zM1060.5 232.80H1091.3V235.25H1060.5zM1060.5 235.25H1091.3V237.70H1060.5zM1060.5 237.70H1091.3V240.15H1060.5zM1060.5 240.15H1091.3V242.60H1060.5zM1060.5 242.60H1091.3V245.05H1060.5zM1060.5 245.05H1091.3V245.50H1060.5z" fill="rgb(237,242,253)"/><path d="M1060.5 154.40H1091.3V156.85H1060.5z" fill="rgb(230,237,252)"/><path d="M1060.5 156.85H1091.3V159.30H1060.5zM1060.5 223.00H1091.3V225.45H1060.5z" fill="rgb(222,231,252)"/><path d="M1060.5 159.30H1091.3V161.75H1060.5zM1060.5 164.20H1091.3V166.65H1060.5zM1060.5 166.65H1091.3V169.10H1060.5zM1060.5 220.55H1091.3V223.00H1060.5z" fill="rgb(195,211,248)"/><path d="M1060.5 161.75H1091.3V164.20H1060.5zM1060.5 191.15H1091.3V193.60H1060.5zM1060.5 215.65H1091.3V218.10H1060.5z" fill="rgb(186,205,247)"/><path d="M1060.5 188.70H1091.3V191.15H1060.5zM1060.5 218.10H1091.3V220.55H1060.5z" fill="rgb(177,197,246)"/><path d="M1060.5 169.10H1091.3V171.55H1060.5zM1060.5 186.25H1091.3V188.70H1060.5zM1060.5 213.20H1091.3V215.65H1060.5z" fill="rgb(167,190,245)"/><path d="M1060.5 181.35H1091.3V183.80H1060.5z" fill="rgb(157,183,244)"/><path d="M1060.5 171.55H1091.3V174.00H1060.5zM1060.5 208.30H1091.3V210.75H1060.5z" fill="rgb(148,176,243)"/><path d="M1060.5 183.80H1091.3V186.25H1060.5zM1060.5 193.60H1091.3V196.05H1060.5zM1060.5 198.50H1091.3V200.95H1060.5zM1060.5 210.75H1091.3V213.20H1060.5z" fill="rgb(139,169,240)"/><path d="M1060.5 178.90H1091.3V181.35H1060.5z" fill="rgb(131,162,238)"/><path d="M1060.5 196.05H1091.3V198.50H1060.5zM1060.5 205.85H1091.3V208.30H1060.5z" fill="rgb(122,154,235)"/><path d="M1060.5 200.95H1091.3V203.40H1060.5zM1060.5 203.40H1091.3V205.85H1060.5z" fill="rgb(113,147,232)"/><path d="M1060.5 176.45H1091.3V178.90H1060.5z" fill="rgb(95,133,227)"/><path d="M1060.5 174.00H1091.3V176.45H1060.5z" fill="rgb(86,125,224)"/></g>
<g opacity=".82" shape-rendering="crispEdges"><path d="M1100.2 167.00H1131.0V169.45H1100.2zM1100.2 169.45H1131.0V171.90H1100.2zM1100.2 230.70H1131.0V233.15H1100.2zM1100.2 235.60H1131.0V238.05H1100.2z" fill="rgb(243,247,254)"/><path d="M1100.2 171.90H1131.0V174.35H1100.2zM1100.2 174.35H1131.0V176.80H1100.2zM1100.2 176.80H1131.0V179.25H1100.2zM1100.2 179.25H1131.0V181.70H1100.2zM1100.2 181.70H1131.0V184.15H1100.2zM1100.2 193.95H1131.0V196.40H1100.2zM1100.2 196.40H1131.0V198.85H1100.2zM1100.2 201.30H1131.0V203.75H1100.2zM1100.2 203.75H1131.0V206.20H1100.2zM1100.2 206.20H1131.0V208.65H1100.2zM1100.2 208.65H1131.0V211.10H1100.2zM1100.2 211.10H1131.0V213.55H1100.2zM1100.2 213.55H1131.0V216.00H1100.2zM1100.2 216.00H1131.0V218.45H1100.2zM1100.2 218.45H1131.0V220.90H1100.2zM1100.2 220.90H1131.0V223.35H1100.2zM1100.2 223.35H1131.0V225.80H1100.2zM1100.2 225.80H1131.0V228.25H1100.2zM1100.2 228.25H1131.0V230.70H1100.2zM1100.2 233.15H1131.0V235.60H1100.2zM1100.2 238.05H1131.0V240.50H1100.2zM1100.2 240.50H1131.0V242.95H1100.2zM1100.2 242.95H1131.0V245.40H1100.2zM1100.2 245.40H1131.0V247.85H1100.2zM1100.2 316.45H1131.0V318.90H1100.2zM1100.2 321.35H1131.0V323.80H1100.2zM1100.2 326.25H1131.0V328.70H1100.2zM1100.2 328.70H1131.0V329.50H1100.2z" fill="rgb(237,242,253)"/><path d="M1100.2 191.50H1131.0V193.95H1100.2zM1100.2 198.85H1131.0V201.30H1100.2zM1100.2 318.90H1131.0V321.35H1100.2zM1100.2 323.80H1131.0V326.25H1100.2z" fill="rgb(230,237,252)"/><path d="M1100.2 184.15H1131.0V186.60H1100.2zM1100.2 247.85H1131.0V250.30H1100.2zM1100.2 314.00H1131.0V316.45H1100.2z" fill="rgb(222,231,252)"/><path d="M1100.2 186.60H1131.0V189.05H1100.2zM1100.2 189.05H1131.0V191.50H1100.2zM1100.2 301.75H1131.0V304.20H1100.2z" fill="rgb(204,218,250)"/><path d="M1100.2 311.55H1131.0V314.00H1100.2z" fill="rgb(195,211,248)"/><path d="M1100.2 250.30H1131.0V252.75H1100.2zM1100.2 252.75H1131.0V255.20H1100.2zM1100.2 299.30H1131.0V301.75H1100.2zM1100.2 306.65H1131.0V309.10H1100.2z" fill="rgb(186,205,247)"/><path d="M1100.2 304.20H1131.0V306.65H1100.2zM1100.2 309.10H1131.0V311.55H1100.2z" fill="rgb(177,197,246)"/><path d="M1100.2 257.65H1131.0V260.10H1100.2zM1100.2 267.45H1131.0V269.90H1100.2z" fill="rgb(167,190,245)"/><path d="M1100.2 255.20H1131.0V257.65H1100.2zM1100.2 260.10H1131.0V262.55H1100.2zM1100.2 287.05H1131.0V289.50H1100.2z" fill="rgb(157,183,244)"/><path d="M1100.2 272.35H1131.0V274.80H1100.2z" fill="rgb(148,176,243)"/><path d="M1100.2 291.95H1131.0V294.40H1100.2z" fill="rgb(139,169,240)"/><path d="M1100.2 282.15H1131.0V284.60H1100.2zM1100.2 284.60H1131.0V287.05H1100.2z" fill="rgb(131,162,238)"/><path d="M1100.2 265.00H1131.0V267.45H1100.2zM1100.2 289.50H1131.0V291.95H1100.2zM1100.2 296.85H1131.0V299.30H1100.2z" fill="rgb(122,154,235)"/><path d="M1100.2 269.90H1131.0V272.35H1100.2zM1100.2 279.70H1131.0V282.15H1100.2z" fill="rgb(113,147,232)"/><path d="M1100.2 262.55H1131.0V265.00H1100.2zM1100.2 277.25H1131.0V279.70H1100.2z" fill="rgb(95,133,227)"/><path d="M1100.2 274.80H1131.0V277.25H1100.2zM1100.2 294.40H1131.0V296.85H1100.2z" fill="rgb(86,125,224)"/></g>
<g opacity=".82" shape-rendering="crispEdges"><path d="M1140.0 241.65H1170.8V244.10H1140.0zM1140.0 246.55H1170.8V249.00H1140.0zM1140.0 251.45H1170.8V253.90H1140.0zM1140.0 253.90H1170.8V256.35H1140.0zM1140.0 256.35H1170.8V258.80H1140.0zM1140.0 258.80H1170.8V259.00H1140.0z" fill="rgb(237,242,253)"/><path d="M1140.0 160.80H1170.8V163.25H1140.0zM1140.0 163.25H1170.8V165.70H1140.0zM1140.0 239.20H1170.8V241.65H1140.0zM1140.0 244.10H1170.8V246.55H1140.0zM1140.0 249.00H1170.8V251.45H1140.0z" fill="rgb(230,237,252)"/><path d="M1140.0 165.70H1170.8V168.15H1140.0z" fill="rgb(222,231,252)"/><path d="M1140.0 231.85H1170.8V234.30H1140.0zM1140.0 236.75H1170.8V239.20H1140.0z" fill="rgb(213,225,251)"/><path d="M1140.0 224.50H1170.8V226.95H1140.0zM1140.0 226.95H1170.8V229.40H1140.0zM1140.0 234.30H1170.8V236.75H1140.0z" fill="rgb(204,218,250)"/><path d="M1140.0 229.40H1170.8V231.85H1140.0z" fill="rgb(195,211,248)"/><path d="M1140.0 168.15H1170.8V170.60H1140.0z" fill="rgb(186,205,247)"/><path d="M1140.0 182.85H1170.8V185.30H1140.0zM1140.0 212.25H1170.8V214.70H1140.0zM1140.0 219.60H1170.8V222.05H1140.0zM1140.0 222.05H1170.8V224.50H1140.0z" fill="rgb(177,197,246)"/><path d="M1140.0 180.40H1170.8V182.85H1140.0zM1140.0 214.70H1170.8V217.15H1140.0zM1140.0 217.15H1170.8V219.60H1140.0z" fill="rgb(167,190,245)"/><path d="M1140.0 209.80H1170.8V212.25H1140.0z" fill="rgb(157,183,244)"/><path d="M1140.0 170.60H1170.8V173.05H1140.0z" fill="rgb(148,176,243)"/><path d="M1140.0 177.95H1170.8V180.40H1140.0zM1140.0 185.30H1170.8V187.75H1140.0zM1140.0 187.75H1170.8V190.20H1140.0zM1140.0 200.00H1170.8V202.45H1140.0z" fill="rgb(139,169,240)"/><path d="M1140.0 175.50H1170.8V177.95H1140.0z" fill="rgb(131,162,238)"/><path d="M1140.0 190.20H1170.8V192.65H1140.0zM1140.0 207.35H1170.8V209.80H1140.0z" fill="rgb(122,154,235)"/><path d="M1140.0 173.05H1170.8V175.50H1140.0zM1140.0 204.90H1170.8V207.35H1140.0z" fill="rgb(113,147,232)"/><path d="M1140.0 195.10H1170.8V197.55H1140.0z" fill="rgb(104,140,229)"/><path d="M1140.0 192.65H1170.8V195.10H1140.0z" fill="rgb(95,133,227)"/><path d="M1140.0 197.55H1170.8V200.00H1140.0zM1140.0 202.45H1170.8V204.90H1140.0z" fill="rgb(86,125,224)"/></g>
<g opacity=".82" shape-rendering="crispEdges"><path d="M1179.8 47.80H1210.5V50.25H1179.8zM1179.8 50.25H1210.5V52.70H1179.8zM1179.8 57.60H1210.5V60.05H1179.8zM1179.8 140.90H1210.5V143.35H1179.8zM1179.8 143.35H1210.5V145.80H1179.8zM1179.8 145.80H1210.5V148.25H1179.8zM1179.8 148.25H1210.5V150.70H1179.8zM1179.8 150.70H1210.5V151.30H1179.8z" fill="rgb(237,242,253)"/><path d="M1179.8 52.70H1210.5V55.15H1179.8zM1179.8 55.15H1210.5V57.60H1179.8zM1179.8 60.05H1210.5V62.50H1179.8zM1179.8 74.75H1210.5V77.20H1179.8zM1179.8 138.45H1210.5V140.90H1179.8z" fill="rgb(230,237,252)"/><path d="M1179.8 69.85H1210.5V72.30H1179.8zM1179.8 72.30H1210.5V74.75H1179.8z" fill="rgb(222,231,252)"/><path d="M1179.8 62.50H1210.5V64.95H1179.8zM1179.8 77.20H1210.5V79.65H1179.8z" fill="rgb(213,225,251)"/><path d="M1179.8 131.10H1210.5V133.55H1179.8z" fill="rgb(204,218,250)"/><path d="M1179.8 64.95H1210.5V67.40H1179.8zM1179.8 67.40H1210.5V69.85H1179.8zM1179.8 89.45H1210.5V91.90H1179.8zM1179.8 128.65H1210.5V131.10H1179.8zM1179.8 133.55H1210.5V136.00H1179.8zM1179.8 136.00H1210.5V138.45H1179.8z" fill="rgb(195,211,248)"/><path d="M1179.8 79.65H1210.5V82.10H1179.8zM1179.8 87.00H1210.5V89.45H1179.8z" fill="rgb(186,205,247)"/><path d="M1179.8 84.55H1210.5V87.00H1179.8zM1179.8 94.35H1210.5V96.80H1179.8zM1179.8 96.80H1210.5V99.25H1179.8z" fill="rgb(177,197,246)"/><path d="M1179.8 126.20H1210.5V128.65H1179.8z" fill="rgb(167,190,245)"/><path d="M1179.8 82.10H1210.5V84.55H1179.8zM1179.8 91.90H1210.5V94.35H1179.8z" fill="rgb(157,183,244)"/><path d="M1179.8 123.75H1210.5V126.20H1179.8z" fill="rgb(148,176,243)"/><path d="M1179.8 99.25H1210.5V101.70H1179.8zM1179.8 121.30H1210.5V123.75H1179.8z" fill="rgb(139,169,240)"/><path d="M1179.8 101.70H1210.5V104.15H1179.8zM1179.8 104.15H1210.5V106.60H1179.8z" fill="rgb(131,162,238)"/><path d="M1179.8 113.95H1210.5V116.40H1179.8z" fill="rgb(122,154,235)"/><path d="M1179.8 111.50H1210.5V113.95H1179.8z" fill="rgb(113,147,232)"/><path d="M1179.8 106.60H1210.5V109.05H1179.8zM1179.8 109.05H1210.5V111.50H1179.8z" fill="rgb(77,118,221)"/><path d="M1179.8 116.40H1210.5V118.85H1179.8zM1179.8 118.85H1210.5V121.30H1179.8z" fill="rgb(68,110,218)"/></g>
<g opacity=".82" shape-rendering="crispEdges"><path d="M1219.5 71.40H1250.3V73.85H1219.5zM1219.5 73.85H1250.3V76.30H1219.5zM1219.5 76.30H1250.3V78.75H1219.5zM1219.5 78.75H1250.3V81.20H1219.5zM1219.5 83.65H1250.3V86.10H1219.5zM1219.5 91.00H1250.3V93.45H1219.5zM1219.5 93.45H1250.3V95.90H1219.5zM1219.5 162.05H1250.3V164.50H1219.5zM1219.5 164.50H1250.3V166.95H1219.5zM1219.5 166.95H1250.3V169.40H1219.5zM1219.5 169.40H1250.3V169.70H1219.5z" fill="rgb(237,242,253)"/><path d="M1219.5 81.20H1250.3V83.65H1219.5zM1219.5 86.10H1250.3V88.55H1219.5zM1219.5 88.55H1250.3V91.00H1219.5zM1219.5 157.15H1250.3V159.60H1219.5zM1219.5 159.60H1250.3V162.05H1219.5z" fill="rgb(230,237,252)"/><path d="M1219.5 95.90H1250.3V98.35H1219.5z" fill="rgb(222,231,252)"/><path d="M1219.5 147.35H1250.3V149.80H1219.5z" fill="rgb(213,225,251)"/><path d="M1219.5 98.35H1250.3V100.80H1219.5zM1219.5 100.80H1250.3V103.25H1219.5z" fill="rgb(204,218,250)"/><path d="M1219.5 103.25H1250.3V105.70H1219.5zM1219.5 149.80H1250.3V152.25H1219.5zM1219.5 152.25H1250.3V154.70H1219.5zM1219.5 154.70H1250.3V157.15H1219.5z" fill="rgb(195,211,248)"/><path d="M1219.5 144.90H1250.3V147.35H1219.5z" fill="rgb(177,197,246)"/><path d="M1219.5 105.70H1250.3V108.15H1219.5z" fill="rgb(167,190,245)"/><path d="M1219.5 120.40H1250.3V122.85H1219.5z" fill="rgb(148,176,243)"/><path d="M1219.5 108.15H1250.3V110.60H1219.5zM1219.5 122.85H1250.3V125.30H1219.5zM1219.5 125.30H1250.3V127.75H1219.5z" fill="rgb(139,169,240)"/><path d="M1219.5 127.75H1250.3V130.20H1219.5z" fill="rgb(131,162,238)"/><path d="M1219.5 142.45H1250.3V144.90H1219.5z" fill="rgb(122,154,235)"/><path d="M1219.5 132.65H1250.3V135.10H1219.5z" fill="rgb(113,147,232)"/><path d="M1219.5 135.10H1250.3V137.55H1219.5z" fill="rgb(104,140,229)"/><path d="M1219.5 117.95H1250.3V120.40H1219.5zM1219.5 130.20H1250.3V132.65H1219.5zM1219.5 140.00H1250.3V142.45H1219.5z" fill="rgb(95,133,227)"/><path d="M1219.5 113.05H1250.3V115.50H1219.5z" fill="rgb(86,125,224)"/><path d="M1219.5 115.50H1250.3V117.95H1219.5zM1219.5 137.55H1250.3V140.00H1219.5z" fill="rgb(77,118,221)"/><path d="M1219.5 110.60H1250.3V113.05H1219.5z" fill="rgb(68,110,218)"/></g>
<g opacity=".82" shape-rendering="crispEdges"><path d="M1259.2 190.50H1290.0V192.95H1259.2zM1259.2 195.40H1290.0V197.85H1259.2zM1259.2 197.85H1290.0V200.30H1259.2zM1259.2 200.30H1290.0V202.75H1259.2zM1259.2 224.80H1290.0V227.25H1259.2zM1259.2 305.65H1290.0V308.10H1259.2zM1259.2 308.10H1290.0V308.80H1259.2z" fill="rgb(243,247,254)"/><path d="M1259.2 192.95H1290.0V195.40H1259.2zM1259.2 202.75H1290.0V205.20H1259.2zM1259.2 205.20H1290.0V207.65H1259.2zM1259.2 207.65H1290.0V210.10H1259.2zM1259.2 210.10H1290.0V212.55H1259.2zM1259.2 212.55H1290.0V215.00H1259.2zM1259.2 215.00H1290.0V217.45H1259.2zM1259.2 217.45H1290.0V219.90H1259.2zM1259.2 219.90H1290.0V222.35H1259.2zM1259.2 222.35H1290.0V224.80H1259.2zM1259.2 227.25H1290.0V229.70H1259.2zM1259.2 229.70H1290.0V232.15H1259.2zM1259.2 298.30H1290.0V300.75H1259.2zM1259.2 300.75H1290.0V303.20H1259.2zM1259.2 303.20H1290.0V305.65H1259.2z" fill="rgb(237,242,253)"/><path d="M1259.2 288.50H1290.0V290.95H1259.2zM1259.2 293.40H1290.0V295.85H1259.2zM1259.2 295.85H1290.0V298.30H1259.2z" fill="rgb(230,237,252)"/><path d="M1259.2 232.15H1290.0V234.60H1259.2z" fill="rgb(222,231,252)"/><path d="M1259.2 290.95H1290.0V293.40H1259.2z" fill="rgb(213,225,251)"/><path d="M1259.2 276.25H1290.0V278.70H1259.2z" fill="rgb(204,218,250)"/><path d="M1259.2 234.60H1290.0V237.05H1259.2zM1259.2 286.05H1290.0V288.50H1259.2z" fill="rgb(195,211,248)"/><path d="M1259.2 237.05H1290.0V239.50H1259.2zM1259.2 278.70H1290.0V281.15H1259.2zM1259.2 283.60H1290.0V286.05H1259.2z" fill="rgb(186,205,247)"/><path d="M1259.2 273.80H1290.0V276.25H1259.2z" fill="rgb(177,197,246)"/><path d="M1259.2 271.35H1290.0V273.80H1259.2zM1259.2 281.15H1290.0V283.60H1259.2z" fill="rgb(167,190,245)"/><path d="M1259.2 241.95H1290.0V244.40H1259.2z" fill="rgb(139,169,240)"/><path d="M1259.2 239.50H1290.0V241.95H1259.2zM1259.2 244.40H1290.0V246.85H1259.2z" fill="rgb(131,162,238)"/><path d="M1259.2 268.90H1290.0V271.35H1259.2z" fill="rgb(122,154,235)"/><path d="M1259.2 246.85H1290.0V249.30H1259.2zM1259.2 256.65H1290.0V259.10H1259.2z" fill="rgb(104,140,229)"/><path d="M1259.2 251.75H1290.0V254.20H1259.2z" fill="rgb(95,133,227)"/><path d="M1259.2 249.30H1290.0V251.75H1259.2zM1259.2 254.20H1290.0V256.65H1259.2zM1259.2 259.10H1290.0V261.55H1259.2zM1259.2 261.55H1290.0V264.00H1259.2zM1259.2 264.00H1290.0V266.45H1259.2zM1259.2 266.45H1290.0V268.90H1259.2z" fill="rgb(68,110,218)"/></g>
<g opacity=".82" shape-rendering="crispEdges"><path d="M1299.0 238.80H1329.8V241.25H1299.0z" fill="rgb(243,247,254)"/><path d="M1299.0 214.30H1329.8V216.75H1299.0zM1299.0 231.45H1329.8V233.90H1299.0zM1299.0 233.90H1329.8V236.35H1299.0zM1299.0 236.35H1329.8V238.80H1299.0zM1299.0 241.25H1329.8V243.70H1299.0zM1299.0 243.70H1329.8V246.15H1299.0zM1299.0 251.05H1329.8V253.50H1299.0zM1299.0 253.50H1329.8V255.95H1299.0zM1299.0 255.95H1329.8V258.40H1299.0zM1299.0 412.75H1329.8V415.20H1299.0zM1299.0 415.20H1329.8V415.80H1299.0z" fill="rgb(237,242,253)"/><path d="M1299.0 216.75H1329.8V219.20H1299.0zM1299.0 229.00H1329.8V231.45H1299.0zM1299.0 246.15H1329.8V248.60H1299.0zM1299.0 248.60H1329.8V251.05H1299.0zM1299.0 273.10H1329.8V275.55H1299.0zM1299.0 275.55H1329.8V278.00H1299.0zM1299.0 285.35H1329.8V287.80H1299.0zM1299.0 290.25H1329.8V292.70H1299.0zM1299.0 307.40H1329.8V309.85H1299.0zM1299.0 339.25H1329.8V341.70H1299.0zM1299.0 341.70H1329.8V344.15H1299.0zM1299.0 407.85H1329.8V410.30H1299.0zM1299.0 410.30H1329.8V412.75H1299.0z" fill="rgb(230,237,252)"/><path d="M1299.0 226.55H1329.8V229.00H1299.0zM1299.0 258.40H1329.8V260.85H1299.0zM1299.0 270.65H1329.8V273.10H1299.0zM1299.0 278.00H1329.8V280.45H1299.0zM1299.0 280.45H1329.8V282.90H1299.0zM1299.0 282.90H1329.8V285.35H1299.0zM1299.0 287.80H1329.8V290.25H1299.0zM1299.0 302.50H1329.8V304.95H1299.0zM1299.0 304.95H1329.8V307.40H1299.0zM1299.0 309.85H1329.8V312.30H1299.0zM1299.0 312.30H1329.8V314.75H1299.0zM1299.0 314.75H1329.8V317.20H1299.0zM1299.0 331.90H1329.8V334.35H1299.0zM1299.0 334.35H1329.8V336.80H1299.0zM1299.0 336.80H1329.8V339.25H1299.0zM1299.0 405.40H1329.8V407.85H1299.0z" fill="rgb(222,231,252)"/><path d="M1299.0 219.20H1329.8V221.65H1299.0zM1299.0 221.65H1329.8V224.10H1299.0zM1299.0 260.85H1329.8V263.30H1299.0zM1299.0 265.75H1329.8V268.20H1299.0zM1299.0 292.70H1329.8V295.15H1299.0zM1299.0 317.20H1329.8V319.65H1299.0zM1299.0 319.65H1329.8V322.10H1299.0zM1299.0 329.45H1329.8V331.90H1299.0z" fill="rgb(213,225,251)"/><path d="M1299.0 300.05H1329.8V302.50H1299.0zM1299.0 322.10H1329.8V324.55H1299.0zM1299.0 327.00H1329.8V329.45H1299.0z" fill="rgb(204,218,250)"/><path d="M1299.0 224.10H1329.8V226.55H1299.0zM1299.0 263.30H1329.8V265.75H1299.0zM1299.0 268.20H1329.8V270.65H1299.0zM1299.0 295.15H1329.8V297.60H1299.0zM1299.0 324.55H1329.8V327.00H1299.0z" fill="rgb(195,211,248)"/><path d="M1299.0 297.60H1329.8V300.05H1299.0zM1299.0 344.15H1329.8V346.60H1299.0z" fill="rgb(186,205,247)"/><path d="M1299.0 393.15H1329.8V395.60H1299.0zM1299.0 400.50H1329.8V402.95H1299.0zM1299.0 402.95H1329.8V405.40H1299.0z" fill="rgb(177,197,246)"/><path d="M1299.0 383.35H1329.8V385.80H1299.0zM1299.0 385.80H1329.8V388.25H1299.0zM1299.0 388.25H1329.8V390.70H1299.0z" fill="rgb(167,190,245)"/><path d="M1299.0 366.20H1329.8V368.65H1299.0z" fill="rgb(157,183,244)"/><path d="M1299.0 390.70H1329.8V393.15H1299.0zM1299.0 395.60H1329.8V398.05H1299.0zM1299.0 398.05H1329.8V400.50H1299.0z" fill="rgb(148,176,243)"/><path d="M1299.0 371.10H1329.8V373.55H1299.0z" fill="rgb(139,169,240)"/><path d="M1299.0 368.65H1329.8V371.10H1299.0z" fill="rgb(122,154,235)"/><path d="M1299.0 346.60H1329.8V349.05H1299.0zM1299.0 376.00H1329.8V378.45H1299.0zM1299.0 380.90H1329.8V383.35H1299.0z" fill="rgb(113,147,232)"/><path d="M1299.0 351.50H1329.8V353.95H1299.0zM1299.0 356.40H1329.8V358.85H1299.0zM1299.0 378.45H1329.8V380.90H1299.0z" fill="rgb(104,140,229)"/><path d="M1299.0 353.95H1329.8V356.40H1299.0zM1299.0 358.85H1329.8V361.30H1299.0zM1299.0 363.75H1329.8V366.20H1299.0zM1299.0 373.55H1329.8V376.00H1299.0z" fill="rgb(95,133,227)"/><path d="M1299.0 361.30H1329.8V363.75H1299.0z" fill="rgb(77,118,221)"/><path d="M1299.0 349.05H1329.8V351.50H1299.0z" fill="rgb(68,110,218)"/></g>
<g opacity=".82" shape-rendering="crispEdges"><path d="M1338.8 303.80H1369.5V306.25H1338.8zM1338.8 306.25H1369.5V308.70H1338.8zM1338.8 308.70H1369.5V311.15H1338.8zM1338.8 318.50H1369.5V320.95H1338.8zM1338.8 328.30H1369.5V330.75H1338.8zM1338.8 335.65H1369.5V338.10H1338.8zM1338.8 377.30H1369.5V379.75H1338.8zM1338.8 387.10H1369.5V389.55H1338.8z" fill="rgb(243,247,254)"/><path d="M1338.8 311.15H1369.5V313.60H1338.8zM1338.8 313.60H1369.5V316.05H1338.8zM1338.8 316.05H1369.5V318.50H1338.8zM1338.8 320.95H1369.5V323.40H1338.8zM1338.8 323.40H1369.5V325.85H1338.8zM1338.8 325.85H1369.5V328.30H1338.8zM1338.8 330.75H1369.5V333.20H1338.8zM1338.8 365.05H1369.5V367.50H1338.8zM1338.8 367.50H1369.5V369.95H1338.8zM1338.8 369.95H1369.5V372.40H1338.8zM1338.8 372.40H1369.5V374.85H1338.8zM1338.8 374.85H1369.5V377.30H1338.8zM1338.8 379.75H1369.5V382.20H1338.8zM1338.8 382.20H1369.5V384.65H1338.8zM1338.8 384.65H1369.5V387.10H1338.8zM1338.8 389.55H1369.5V391.30H1338.8z" fill="rgb(237,242,253)"/><path d="M1338.8 333.20H1369.5V335.65H1338.8zM1338.8 355.25H1369.5V357.70H1338.8z" fill="rgb(230,237,252)"/><path d="M1338.8 338.10H1369.5V340.55H1338.8zM1338.8 340.55H1369.5V343.00H1338.8zM1338.8 352.80H1369.5V355.25H1338.8zM1338.8 357.70H1369.5V360.15H1338.8zM1338.8 360.15H1369.5V362.60H1338.8zM1338.8 362.60H1369.5V365.05H1338.8z" fill="rgb(222,231,252)"/><path d="M1338.8 343.00H1369.5V345.45H1338.8zM1338.8 345.45H1369.5V347.90H1338.8zM1338.8 347.90H1369.5V350.35H1338.8zM1338.8 350.35H1369.5V352.80H1338.8z" fill="rgb(213,225,251)"/></g>
<g opacity=".82" shape-rendering="crispEdges"><path d="M1378.5 280.00H1409.3V282.45H1378.5zM1378.5 282.45H1409.3V284.90H1378.5zM1378.5 284.90H1409.3V287.35H1378.5zM1378.5 289.80H1409.3V292.25H1378.5zM1378.5 292.25H1409.3V294.70H1378.5zM1378.5 390.25H1409.3V392.70H1378.5zM1378.5 392.70H1409.3V395.15H1378.5zM1378.5 395.15H1409.3V395.80H1378.5z" fill="rgb(237,242,253)"/><path d="M1378.5 287.35H1409.3V289.80H1378.5zM1378.5 385.35H1409.3V387.80H1378.5zM1378.5 387.80H1409.3V390.25H1378.5z" fill="rgb(230,237,252)"/><path d="M1378.5 324.10H1409.3V326.55H1378.5zM1378.5 333.90H1409.3V336.35H1378.5z" fill="rgb(213,225,251)"/><path d="M1378.5 294.70H1409.3V297.15H1378.5zM1378.5 319.20H1409.3V321.65H1378.5zM1378.5 326.55H1409.3V329.00H1378.5zM1378.5 329.00H1409.3V331.45H1378.5zM1378.5 382.90H1409.3V385.35H1378.5z" fill="rgb(204,218,250)"/><path d="M1378.5 348.60H1409.3V351.05H1378.5zM1378.5 351.05H1409.3V353.50H1378.5z" fill="rgb(195,211,248)"/><path d="M1378.5 311.85H1409.3V314.30H1378.5zM1378.5 316.75H1409.3V319.20H1378.5zM1378.5 321.65H1409.3V324.10H1378.5zM1378.5 331.45H1409.3V333.90H1378.5zM1378.5 336.35H1409.3V338.80H1378.5zM1378.5 353.50H1409.3V355.95H1378.5z" fill="rgb(186,205,247)"/><path d="M1378.5 297.15H1409.3V299.60H1378.5z" fill="rgb(177,197,246)"/><path d="M1378.5 338.80H1409.3V341.25H1378.5zM1378.5 373.10H1409.3V375.55H1378.5zM1378.5 378.00H1409.3V380.45H1378.5zM1378.5 380.45H1409.3V382.90H1378.5z" fill="rgb(167,190,245)"/><path d="M1378.5 309.40H1409.3V311.85H1378.5zM1378.5 314.30H1409.3V316.75H1378.5zM1378.5 341.25H1409.3V343.70H1378.5zM1378.5 343.70H1409.3V346.15H1378.5zM1378.5 375.55H1409.3V378.00H1378.5z" fill="rgb(157,183,244)"/><path d="M1378.5 355.95H1409.3V358.40H1378.5zM1378.5 368.20H1409.3V370.65H1378.5z" fill="rgb(148,176,243)"/><path d="M1378.5 302.05H1409.3V304.50H1378.5zM1378.5 365.75H1409.3V368.20H1378.5z" fill="rgb(139,169,240)"/><path d="M1378.5 299.60H1409.3V302.05H1378.5zM1378.5 306.95H1409.3V309.40H1378.5zM1378.5 346.15H1409.3V348.60H1378.5z" fill="rgb(131,162,238)"/><path d="M1378.5 363.30H1409.3V365.75H1378.5zM1378.5 370.65H1409.3V373.10H1378.5z" fill="rgb(113,147,232)"/><path d="M1378.5 304.50H1409.3V306.95H1378.5z" fill="rgb(95,133,227)"/><path d="M1378.5 358.40H1409.3V360.85H1378.5zM1378.5 360.85H1409.3V363.30H1378.5z" fill="rgb(68,110,218)"/></g>
<g opacity=".82" shape-rendering="crispEdges"><path d="M1418.2 379.20H1449.0V381.65H1418.2zM1418.2 389.00H1449.0V391.45H1418.2zM1418.2 396.35H1449.0V398.80H1418.2zM1418.2 401.25H1449.0V403.70H1418.2zM1418.2 403.70H1449.0V405.80H1418.2z" fill="rgb(243,247,254)"/><path d="M1418.2 300.80H1449.0V303.25H1418.2zM1418.2 330.20H1449.0V332.65H1418.2zM1418.2 335.10H1449.0V337.55H1418.2zM1418.2 376.75H1449.0V379.20H1418.2zM1418.2 381.65H1449.0V384.10H1418.2zM1418.2 384.10H1449.0V386.55H1418.2zM1418.2 386.55H1449.0V389.00H1418.2zM1418.2 391.45H1449.0V393.90H1418.2zM1418.2 393.90H1449.0V396.35H1418.2zM1418.2 398.80H1449.0V401.25H1418.2z" fill="rgb(237,242,253)"/><path d="M1418.2 303.25H1449.0V305.70H1418.2zM1418.2 315.50H1449.0V317.95H1418.2zM1418.2 327.75H1449.0V330.20H1418.2zM1418.2 332.65H1449.0V335.10H1418.2zM1418.2 374.30H1449.0V376.75H1418.2z" fill="rgb(230,237,252)"/><path d="M1418.2 305.70H1449.0V308.15H1418.2zM1418.2 325.30H1449.0V327.75H1418.2zM1418.2 337.55H1449.0V340.00H1418.2zM1418.2 366.95H1449.0V369.40H1418.2zM1418.2 369.40H1449.0V371.85H1418.2zM1418.2 371.85H1449.0V374.30H1418.2z" fill="rgb(222,231,252)"/><path d="M1418.2 310.60H1449.0V313.05H1418.2zM1418.2 313.05H1449.0V315.50H1418.2zM1418.2 317.95H1449.0V320.40H1418.2zM1418.2 320.40H1449.0V322.85H1418.2zM1418.2 322.85H1449.0V325.30H1418.2zM1418.2 340.00H1449.0V342.45H1418.2z" fill="rgb(213,225,251)"/><path d="M1418.2 342.45H1449.0V344.90H1418.2z" fill="rgb(204,218,250)"/><path d="M1418.2 308.15H1449.0V310.60H1418.2z" fill="rgb(195,211,248)"/><path d="M1418.2 344.90H1449.0V347.35H1418.2z" fill="rgb(186,205,247)"/><path d="M1418.2 364.50H1449.0V366.95H1418.2z" fill="rgb(177,197,246)"/><path d="M1418.2 362.05H1449.0V364.50H1418.2z" fill="rgb(122,154,235)"/><path d="M1418.2 354.70H1449.0V357.15H1418.2z" fill="rgb(113,147,232)"/><path d="M1418.2 359.60H1449.0V362.05H1418.2z" fill="rgb(95,133,227)"/><path d="M1418.2 347.35H1449.0V349.80H1418.2zM1418.2 357.15H1449.0V359.60H1418.2z" fill="rgb(86,125,224)"/><path d="M1418.2 349.80H1449.0V352.25H1418.2z" fill="rgb(77,118,221)"/><path d="M1418.2 352.25H1449.0V354.70H1418.2z" fill="rgb(68,110,218)"/></g>
<g opacity=".82" shape-rendering="crispEdges"><path d="M1458.0 354.95H1488.8V357.40H1458.0zM1458.0 357.40H1488.8V359.85H1458.0zM1458.0 418.65H1488.8V421.10H1458.0zM1458.0 426.00H1488.8V428.45H1458.0zM1458.0 428.45H1488.8V430.90H1458.0z" fill="rgb(243,247,254)"/><path d="M1458.0 352.50H1488.8V354.95H1458.0zM1458.0 359.85H1488.8V362.30H1458.0zM1458.0 362.30H1488.8V364.75H1458.0zM1458.0 364.75H1488.8V367.20H1458.0zM1458.0 367.20H1488.8V369.65H1458.0zM1458.0 369.65H1488.8V372.10H1458.0zM1458.0 372.10H1488.8V374.55H1458.0zM1458.0 374.55H1488.8V377.00H1458.0zM1458.0 377.00H1488.8V379.45H1458.0zM1458.0 379.45H1488.8V381.90H1458.0zM1458.0 381.90H1488.8V384.35H1458.0zM1458.0 384.35H1488.8V386.80H1458.0zM1458.0 386.80H1488.8V389.25H1458.0zM1458.0 389.25H1488.8V391.70H1458.0zM1458.0 391.70H1488.8V394.15H1458.0zM1458.0 394.15H1488.8V396.60H1458.0zM1458.0 396.60H1488.8V399.05H1458.0zM1458.0 399.05H1488.8V401.50H1458.0zM1458.0 401.50H1488.8V403.95H1458.0zM1458.0 403.95H1488.8V406.40H1458.0zM1458.0 406.40H1488.8V408.85H1458.0zM1458.0 408.85H1488.8V411.30H1458.0zM1458.0 411.30H1488.8V413.75H1458.0zM1458.0 413.75H1488.8V416.20H1458.0zM1458.0 416.20H1488.8V418.65H1458.0zM1458.0 421.10H1488.8V423.55H1458.0zM1458.0 423.55H1488.8V426.00H1458.0zM1458.0 430.90H1488.8V433.35H1458.0zM1458.0 433.35H1488.8V435.80H1458.0zM1458.0 435.80H1488.8V438.25H1458.0zM1458.0 475.00H1488.8V477.45H1458.0zM1458.0 477.45H1488.8V479.90H1458.0zM1458.0 487.25H1488.8V489.70H1458.0zM1458.0 489.70H1488.8V492.15H1458.0zM1458.0 492.15H1488.8V494.60H1458.0zM1458.0 536.25H1488.8V538.70H1458.0zM1458.0 538.70H1488.8V541.15H1458.0zM1458.0 541.15H1488.8V541.30H1458.0z" fill="rgb(237,242,253)"/><path d="M1458.0 438.25H1488.8V440.70H1458.0zM1458.0 460.30H1488.8V462.75H1458.0zM1458.0 479.90H1488.8V482.35H1458.0zM1458.0 482.35H1488.8V484.80H1458.0zM1458.0 484.80H1488.8V487.25H1458.0zM1458.0 494.60H1488.8V497.05H1458.0zM1458.0 533.80H1488.8V536.25H1458.0z" fill="rgb(230,237,252)"/><path d="M1458.0 440.70H1488.8V443.15H1458.0zM1458.0 457.85H1488.8V460.30H1458.0zM1458.0 462.75H1488.8V465.20H1458.0zM1458.0 465.20H1488.8V467.65H1458.0zM1458.0 467.65H1488.8V470.10H1458.0zM1458.0 470.10H1488.8V472.55H1458.0zM1458.0 472.55H1488.8V475.00H1458.0zM1458.0 497.05H1488.8V499.50H1458.0z" fill="rgb(222,231,252)"/><path d="M1458.0 443.15H1488.8V445.60H1458.0zM1458.0 499.50H1488.8V501.95H1458.0z" fill="rgb(213,225,251)"/><path d="M1458.0 445.60H1488.8V448.05H1458.0zM1458.0 450.50H1488.8V452.95H1458.0zM1458.0 452.95H1488.8V455.40H1458.0zM1458.0 455.40H1488.8V457.85H1458.0zM1458.0 501.95H1488.8V504.40H1458.0zM1458.0 531.35H1488.8V533.80H1458.0z" fill="rgb(204,218,250)"/><path d="M1458.0 528.90H1488.8V531.35H1458.0z" fill="rgb(186,205,247)"/><path d="M1458.0 448.05H1488.8V450.50H1458.0zM1458.0 526.45H1488.8V528.90H1458.0z" fill="rgb(177,197,246)"/><path d="M1458.0 504.40H1488.8V506.85H1458.0z" fill="rgb(157,183,244)"/><path d="M1458.0 521.55H1488.8V524.00H1458.0zM1458.0 524.00H1488.8V526.45H1458.0z" fill="rgb(131,162,238)"/><path d="M1458.0 506.85H1488.8V509.30H1458.0zM1458.0 519.10H1488.8V521.55H1458.0z" fill="rgb(95,133,227)"/><path d="M1458.0 509.30H1488.8V511.75H1458.0z" fill="rgb(77,118,221)"/><path d="M1458.0 511.75H1488.8V514.20H1458.0zM1458.0 514.20H1488.8V516.65H1458.0zM1458.0 516.65H1488.8V519.10H1458.0z" fill="rgb(68,110,218)"/></g>
<g opacity=".82" shape-rendering="crispEdges"><path d="M1497.8 545.05H1528.5V547.50H1497.8z" fill="rgb(243,247,254)"/><path d="M1497.8 449.50H1528.5V451.95H1497.8zM1497.8 451.95H1528.5V454.40H1497.8zM1497.8 454.40H1528.5V456.85H1497.8zM1497.8 456.85H1528.5V459.30H1497.8zM1497.8 532.80H1528.5V535.25H1497.8zM1497.8 535.25H1528.5V537.70H1497.8zM1497.8 537.70H1528.5V540.15H1497.8zM1497.8 540.15H1528.5V542.60H1497.8zM1497.8 542.60H1528.5V545.05H1497.8zM1497.8 547.50H1528.5V549.95H1497.8zM1497.8 549.95H1528.5V552.40H1497.8zM1497.8 552.40H1528.5V554.85H1497.8zM1497.8 554.85H1528.5V557.30H1497.8zM1497.8 559.75H1528.5V562.20H1497.8zM1497.8 562.20H1528.5V564.65H1497.8zM1497.8 564.65H1528.5V567.10H1497.8zM1497.8 591.60H1528.5V594.05H1497.8zM1497.8 594.05H1528.5V596.50H1497.8zM1497.8 596.50H1528.5V598.95H1497.8zM1497.8 598.95H1528.5V601.40H1497.8zM1497.8 601.40H1528.5V603.00H1497.8z" fill="rgb(237,242,253)"/><path d="M1497.8 557.30H1528.5V559.75H1497.8zM1497.8 576.90H1528.5V579.35H1497.8zM1497.8 579.35H1528.5V581.80H1497.8z" fill="rgb(230,237,252)"/><path d="M1497.8 500.95H1528.5V503.40H1497.8zM1497.8 508.30H1528.5V510.75H1497.8zM1497.8 523.00H1528.5V525.45H1497.8zM1497.8 525.45H1528.5V527.90H1497.8zM1497.8 527.90H1528.5V530.35H1497.8zM1497.8 530.35H1528.5V532.80H1497.8zM1497.8 567.10H1528.5V569.55H1497.8zM1497.8 574.45H1528.5V576.90H1497.8zM1497.8 581.80H1528.5V584.25H1497.8zM1497.8 589.15H1528.5V591.60H1497.8z" fill="rgb(222,231,252)"/><path d="M1497.8 459.30H1528.5V461.75H1497.8zM1497.8 503.40H1528.5V505.85H1497.8zM1497.8 505.85H1528.5V508.30H1497.8zM1497.8 520.55H1528.5V523.00H1497.8z" fill="rgb(213,225,251)"/><path d="M1497.8 498.50H1528.5V500.95H1497.8zM1497.8 510.75H1528.5V513.20H1497.8zM1497.8 569.55H1528.5V572.00H1497.8zM1497.8 572.00H1528.5V574.45H1497.8zM1497.8 584.25H1528.5V586.70H1497.8zM1497.8 586.70H1528.5V589.15H1497.8z" fill="rgb(204,218,250)"/><path d="M1497.8 461.75H1528.5V464.20H1497.8zM1497.8 496.05H1528.5V498.50H1497.8zM1497.8 513.20H1528.5V515.65H1497.8zM1497.8 518.10H1528.5V520.55H1497.8z" fill="rgb(195,211,248)"/><path d="M1497.8 483.80H1528.5V486.25H1497.8zM1497.8 515.65H1528.5V518.10H1497.8z" fill="rgb(177,197,246)"/><path d="M1497.8 493.60H1528.5V496.05H1497.8z" fill="rgb(167,190,245)"/><path d="M1497.8 464.20H1528.5V466.65H1497.8zM1497.8 476.45H1528.5V478.90H1497.8z" fill="rgb(157,183,244)"/><path d="M1497.8 478.90H1528.5V481.35H1497.8zM1497.8 481.35H1528.5V483.80H1497.8zM1497.8 491.15H1528.5V493.60H1497.8z" fill="rgb(148,176,243)"/><path d="M1497.8 488.70H1528.5V491.15H1497.8z" fill="rgb(139,169,240)"/><path d="M1497.8 466.65H1528.5V469.10H1497.8zM1497.8 474.00H1528.5V476.45H1497.8zM1497.8 486.25H1528.5V488.70H1497.8z" fill="rgb(131,162,238)"/><path d="M1497.8 469.10H1528.5V471.55H1497.8zM1497.8 471.55H1528.5V474.00H1497.8z" fill="rgb(122,154,235)"/></g>
<g opacity=".82" shape-rendering="crispEdges"><path d="M1537.5 483.30H1568.3V485.75H1537.5zM1537.5 485.75H1568.3V488.20H1537.5zM1537.5 488.20H1568.3V490.65H1537.5zM1537.5 490.65H1568.3V493.10H1537.5zM1537.5 561.70H1568.3V564.15H1537.5zM1537.5 566.60H1568.3V568.80H1537.5z" fill="rgb(237,242,253)"/><path d="M1537.5 564.15H1568.3V566.60H1537.5z" fill="rgb(230,237,252)"/><path d="M1537.5 559.25H1568.3V561.70H1537.5z" fill="rgb(222,231,252)"/><path d="M1537.5 493.10H1568.3V495.55H1537.5zM1537.5 498.00H1568.3V500.45H1537.5z" fill="rgb(213,225,251)"/><path d="M1537.5 495.55H1568.3V498.00H1537.5z" fill="rgb(204,218,250)"/><path d="M1537.5 547.00H1568.3V549.45H1537.5zM1537.5 556.80H1568.3V559.25H1537.5z" fill="rgb(195,211,248)"/><path d="M1537.5 500.45H1568.3V502.90H1537.5z" fill="rgb(186,205,247)"/><path d="M1537.5 502.90H1568.3V505.35H1537.5zM1537.5 524.95H1568.3V527.40H1537.5zM1537.5 537.20H1568.3V539.65H1537.5zM1537.5 549.45H1568.3V551.90H1537.5z" fill="rgb(177,197,246)"/><path d="M1537.5 534.75H1568.3V537.20H1537.5z" fill="rgb(167,190,245)"/><path d="M1537.5 507.80H1568.3V510.25H1537.5zM1537.5 510.25H1568.3V512.70H1537.5zM1537.5 522.50H1568.3V524.95H1537.5zM1537.5 544.55H1568.3V547.00H1537.5z" fill="rgb(157,183,244)"/><path d="M1537.5 539.65H1568.3V542.10H1537.5z" fill="rgb(148,176,243)"/><path d="M1537.5 512.70H1568.3V515.15H1537.5zM1537.5 554.35H1568.3V556.80H1537.5z" fill="rgb(139,169,240)"/><path d="M1537.5 505.35H1568.3V507.80H1537.5zM1537.5 527.40H1568.3V529.85H1537.5zM1537.5 529.85H1568.3V532.30H1537.5z" fill="rgb(131,162,238)"/><path d="M1537.5 515.15H1568.3V517.60H1537.5zM1537.5 517.60H1568.3V520.05H1537.5zM1537.5 542.10H1568.3V544.55H1537.5zM1537.5 551.90H1568.3V554.35H1537.5z" fill="rgb(122,154,235)"/><path d="M1537.5 532.30H1568.3V534.75H1537.5z" fill="rgb(104,140,229)"/><path d="M1537.5 520.05H1568.3V522.50H1537.5z" fill="rgb(77,118,221)"/></g>
<g opacity=".82" shape-rendering="crispEdges"><path d="M1577.2 571.30H1608.0V573.75H1577.2z" fill="rgb(243,247,254)"/><path d="M1577.2 546.80H1608.0V549.25H1577.2zM1577.2 549.25H1608.0V551.70H1577.2zM1577.2 551.70H1608.0V554.15H1577.2zM1577.2 554.15H1608.0V556.60H1577.2zM1577.2 556.60H1608.0V559.05H1577.2zM1577.2 559.05H1608.0V561.50H1577.2zM1577.2 561.50H1608.0V563.95H1577.2zM1577.2 563.95H1608.0V566.40H1577.2zM1577.2 566.40H1608.0V568.85H1577.2zM1577.2 568.85H1608.0V571.30H1577.2zM1577.2 573.75H1608.0V575.80H1577.2z" fill="rgb(237,242,253)"/><path d="M1577.2 527.20H1608.0V529.65H1577.2zM1577.2 541.90H1608.0V544.35H1577.2z" fill="rgb(230,237,252)"/><path d="M1577.2 529.65H1608.0V532.10H1577.2zM1577.2 532.10H1608.0V534.55H1577.2zM1577.2 544.35H1608.0V546.80H1577.2z" fill="rgb(222,231,252)"/><path d="M1577.2 488.00H1608.0V490.45H1577.2zM1577.2 524.75H1608.0V527.20H1577.2zM1577.2 539.45H1608.0V541.90H1577.2z" fill="rgb(213,225,251)"/><path d="M1577.2 490.45H1608.0V492.90H1577.2zM1577.2 514.95H1608.0V517.40H1577.2zM1577.2 517.40H1608.0V519.85H1577.2zM1577.2 534.55H1608.0V537.00H1577.2z" fill="rgb(204,218,250)"/><path d="M1577.2 519.85H1608.0V522.30H1577.2zM1577.2 522.30H1608.0V524.75H1577.2zM1577.2 537.00H1608.0V539.45H1577.2z" fill="rgb(186,205,247)"/><path d="M1577.2 492.90H1608.0V495.35H1577.2z" fill="rgb(177,197,246)"/><path d="M1577.2 495.35H1608.0V497.80H1577.2zM1577.2 497.80H1608.0V500.25H1577.2zM1577.2 512.50H1608.0V514.95H1577.2z" fill="rgb(148,176,243)"/><path d="M1577.2 500.25H1608.0V502.70H1577.2z" fill="rgb(139,169,240)"/><path d="M1577.2 505.15H1608.0V507.60H1577.2z" fill="rgb(86,125,224)"/><path d="M1577.2 510.05H1608.0V512.50H1577.2z" fill="rgb(77,118,221)"/><path d="M1577.2 502.70H1608.0V505.15H1577.2zM1577.2 507.60H1608.0V510.05H1577.2z" fill="rgb(68,110,218)"/></g>
<g opacity=".82" shape-rendering="crispEdges"><path d="M1617.0 462.50H1647.8V464.95H1617.0zM1617.0 464.95H1647.8V467.40H1617.0zM1617.0 467.40H1647.8V469.85H1617.0z" fill="rgb(237,242,253)"/><path d="M1617.0 560.50H1647.8V562.95H1617.0zM1617.0 562.95H1647.8V565.40H1617.0zM1617.0 565.40H1647.8V566.30H1617.0z" fill="rgb(230,237,252)"/><path d="M1617.0 469.85H1647.8V472.30H1617.0zM1617.0 558.05H1647.8V560.50H1617.0z" fill="rgb(222,231,252)"/><path d="M1617.0 528.65H1647.8V531.10H1617.0zM1617.0 536.00H1647.8V538.45H1617.0z" fill="rgb(213,225,251)"/><path d="M1617.0 506.60H1647.8V509.05H1617.0zM1617.0 509.05H1647.8V511.50H1617.0zM1617.0 526.20H1647.8V528.65H1617.0zM1617.0 533.55H1647.8V536.00H1617.0zM1617.0 538.45H1647.8V540.90H1617.0zM1617.0 555.60H1647.8V558.05H1617.0z" fill="rgb(204,218,250)"/><path d="M1617.0 472.30H1647.8V474.75H1617.0zM1617.0 484.55H1647.8V487.00H1617.0zM1617.0 487.00H1647.8V489.45H1617.0zM1617.0 501.70H1647.8V504.15H1617.0zM1617.0 504.15H1647.8V506.60H1617.0zM1617.0 531.10H1647.8V533.55H1617.0z" fill="rgb(195,211,248)"/><path d="M1617.0 474.75H1647.8V477.20H1617.0zM1617.0 489.45H1647.8V491.90H1617.0zM1617.0 523.75H1647.8V526.20H1617.0z" fill="rgb(186,205,247)"/><path d="M1617.0 491.90H1647.8V494.35H1617.0zM1617.0 511.50H1647.8V513.95H1617.0zM1617.0 521.30H1647.8V523.75H1617.0z" fill="rgb(177,197,246)"/><path d="M1617.0 477.20H1647.8V479.65H1617.0zM1617.0 479.65H1647.8V482.10H1617.0zM1617.0 482.10H1647.8V484.55H1617.0zM1617.0 494.35H1647.8V496.80H1617.0zM1617.0 513.95H1647.8V516.40H1617.0zM1617.0 540.90H1647.8V543.35H1617.0z" fill="rgb(167,190,245)"/><path d="M1617.0 545.80H1647.8V548.25H1617.0zM1617.0 553.15H1647.8V555.60H1617.0z" fill="rgb(157,183,244)"/><path d="M1617.0 516.40H1647.8V518.85H1617.0zM1617.0 518.85H1647.8V521.30H1617.0zM1617.0 548.25H1647.8V550.70H1617.0z" fill="rgb(148,176,243)"/><path d="M1617.0 496.80H1647.8V499.25H1617.0z" fill="rgb(139,169,240)"/><path d="M1617.0 499.25H1647.8V501.70H1617.0zM1617.0 543.35H1647.8V545.80H1617.0zM1617.0 550.70H1647.8V553.15H1617.0z" fill="rgb(131,162,238)"/></g>
<g opacity=".82" shape-rendering="crispEdges"><path d="M1656.8 438.25H1687.5V440.70H1656.8zM1656.8 443.15H1687.5V445.60H1656.8zM1656.8 445.60H1687.5V448.05H1656.8zM1656.8 448.05H1687.5V450.50H1656.8zM1656.8 450.50H1687.5V452.95H1656.8zM1656.8 452.95H1687.5V455.40H1656.8zM1656.8 455.40H1687.5V455.80H1656.8z" fill="rgb(237,242,253)"/><path d="M1656.8 377.00H1687.5V379.45H1656.8zM1656.8 379.45H1687.5V381.90H1656.8zM1656.8 381.90H1687.5V384.35H1656.8zM1656.8 440.70H1687.5V443.15H1656.8z" fill="rgb(230,237,252)"/><path d="M1656.8 435.80H1687.5V438.25H1656.8z" fill="rgb(213,225,251)"/><path d="M1656.8 384.35H1687.5V386.80H1656.8z" fill="rgb(195,211,248)"/><path d="M1656.8 394.15H1687.5V396.60H1656.8z" fill="rgb(177,197,246)"/><path d="M1656.8 430.90H1687.5V433.35H1656.8zM1656.8 433.35H1687.5V435.80H1656.8z" fill="rgb(167,190,245)"/><path d="M1656.8 391.70H1687.5V394.15H1656.8z" fill="rgb(157,183,244)"/><path d="M1656.8 423.55H1687.5V426.00H1656.8z" fill="rgb(148,176,243)"/><path d="M1656.8 386.80H1687.5V389.25H1656.8zM1656.8 428.45H1687.5V430.90H1656.8z" fill="rgb(139,169,240)"/><path d="M1656.8 389.25H1687.5V391.70H1656.8zM1656.8 426.00H1687.5V428.45H1656.8z" fill="rgb(131,162,238)"/><path d="M1656.8 396.60H1687.5V399.05H1656.8z" fill="rgb(122,154,235)"/><path d="M1656.8 421.10H1687.5V423.55H1656.8z" fill="rgb(113,147,232)"/><path d="M1656.8 406.40H1687.5V408.85H1656.8zM1656.8 413.75H1687.5V416.20H1656.8z" fill="rgb(104,140,229)"/><path d="M1656.8 411.30H1687.5V413.75H1656.8zM1656.8 418.65H1687.5V421.10H1656.8z" fill="rgb(95,133,227)"/><path d="M1656.8 408.85H1687.5V411.30H1656.8z" fill="rgb(86,125,224)"/><path d="M1656.8 399.05H1687.5V401.50H1656.8zM1656.8 401.50H1687.5V403.95H1656.8zM1656.8 403.95H1687.5V406.40H1656.8zM1656.8 416.20H1687.5V418.65H1656.8z" fill="rgb(68,110,218)"/></g>
<g opacity=".82" shape-rendering="crispEdges"><path d="M1696.5 360.80H1727.3V363.25H1696.5zM1696.5 363.25H1727.3V365.70H1696.5zM1696.5 419.60H1727.3V422.05H1696.5z" fill="rgb(237,242,253)"/><path d="M1696.5 365.70H1727.3V368.15H1696.5zM1696.5 370.60H1727.3V373.05H1696.5zM1696.5 404.90H1727.3V407.35H1696.5zM1696.5 417.15H1727.3V419.60H1696.5zM1696.5 422.05H1727.3V424.50H1696.5zM1696.5 424.50H1727.3V426.95H1696.5zM1696.5 483.30H1727.3V485.75H1696.5zM1696.5 485.75H1727.3V488.20H1696.5zM1696.5 488.20H1727.3V490.65H1696.5z" fill="rgb(230,237,252)"/><path d="M1696.5 368.15H1727.3V370.60H1696.5zM1696.5 407.35H1727.3V409.80H1696.5zM1696.5 439.20H1727.3V441.65H1696.5zM1696.5 444.10H1727.3V446.55H1696.5zM1696.5 446.55H1727.3V449.00H1696.5zM1696.5 466.15H1727.3V468.60H1696.5z" fill="rgb(222,231,252)"/><path d="M1696.5 373.05H1727.3V375.50H1696.5zM1696.5 400.00H1727.3V402.45H1696.5zM1696.5 402.45H1727.3V404.90H1696.5zM1696.5 409.80H1727.3V412.25H1696.5zM1696.5 412.25H1727.3V414.70H1696.5zM1696.5 414.70H1727.3V417.15H1696.5zM1696.5 441.65H1727.3V444.10H1696.5zM1696.5 480.85H1727.3V483.30H1696.5zM1696.5 490.65H1727.3V493.10H1696.5zM1696.5 493.10H1727.3V495.55H1696.5zM1696.5 539.65H1727.3V542.10H1696.5z" fill="rgb(213,225,251)"/><path d="M1696.5 434.30H1727.3V436.75H1696.5zM1696.5 436.75H1727.3V439.20H1696.5zM1696.5 449.00H1727.3V451.45H1696.5zM1696.5 451.45H1727.3V453.90H1696.5zM1696.5 461.25H1727.3V463.70H1696.5zM1696.5 463.70H1727.3V466.15H1696.5zM1696.5 542.10H1727.3V544.30H1696.5z" fill="rgb(204,218,250)"/><path d="M1696.5 375.50H1727.3V377.95H1696.5zM1696.5 377.95H1727.3V380.40H1696.5zM1696.5 380.40H1727.3V382.85H1696.5zM1696.5 395.10H1727.3V397.55H1696.5zM1696.5 426.95H1727.3V429.40H1696.5zM1696.5 458.80H1727.3V461.25H1696.5zM1696.5 468.60H1727.3V471.05H1696.5zM1696.5 471.05H1727.3V473.50H1696.5z" fill="rgb(195,211,248)"/><path d="M1696.5 429.40H1727.3V431.85H1696.5zM1696.5 431.85H1727.3V434.30H1696.5zM1696.5 473.50H1727.3V475.95H1696.5zM1696.5 500.45H1727.3V502.90H1696.5zM1696.5 537.20H1727.3V539.65H1696.5z" fill="rgb(186,205,247)"/><path d="M1696.5 385.30H1727.3V387.75H1696.5zM1696.5 390.20H1727.3V392.65H1696.5zM1696.5 397.55H1727.3V400.00H1696.5zM1696.5 456.35H1727.3V458.80H1696.5z" fill="rgb(177,197,246)"/><path d="M1696.5 453.90H1727.3V456.35H1696.5zM1696.5 478.40H1727.3V480.85H1696.5zM1696.5 498.00H1727.3V500.45H1696.5zM1696.5 527.40H1727.3V529.85H1696.5z" fill="rgb(167,190,245)"/><path d="M1696.5 392.65H1727.3V395.10H1696.5zM1696.5 495.55H1727.3V498.00H1696.5zM1696.5 522.50H1727.3V524.95H1696.5zM1696.5 524.95H1727.3V527.40H1696.5zM1696.5 529.85H1727.3V532.30H1696.5zM1696.5 534.75H1727.3V537.20H1696.5z" fill="rgb(157,183,244)"/><path d="M1696.5 382.85H1727.3V385.30H1696.5zM1696.5 475.95H1727.3V478.40H1696.5zM1696.5 507.80H1727.3V510.25H1696.5zM1696.5 510.25H1727.3V512.70H1696.5z" fill="rgb(148,176,243)"/><path d="M1696.5 520.05H1727.3V522.50H1696.5z" fill="rgb(139,169,240)"/><path d="M1696.5 387.75H1727.3V390.20H1696.5zM1696.5 502.90H1727.3V505.35H1696.5zM1696.5 505.35H1727.3V507.80H1696.5z" fill="rgb(131,162,238)"/><path d="M1696.5 512.70H1727.3V515.15H1696.5zM1696.5 532.30H1727.3V534.75H1696.5z" fill="rgb(122,154,235)"/><path d="M1696.5 515.15H1727.3V517.60H1696.5zM1696.5 517.60H1727.3V520.05H1696.5z" fill="rgb(86,125,224)"/></g>
<g opacity=".82" shape-rendering="crispEdges"><path d="M1736.2 510.20H1767.0V512.65H1736.2zM1736.2 520.00H1767.0V522.45H1736.2zM1736.2 522.45H1767.0V524.90H1736.2zM1736.2 524.90H1767.0V527.35H1736.2zM1736.2 527.35H1767.0V527.50H1736.2z" fill="rgb(243,247,254)"/><path d="M1736.2 333.80H1767.0V336.25H1736.2zM1736.2 336.25H1767.0V338.70H1736.2zM1736.2 338.70H1767.0V341.15H1736.2zM1736.2 341.15H1767.0V343.60H1736.2zM1736.2 343.60H1767.0V346.05H1736.2zM1736.2 346.05H1767.0V348.50H1736.2zM1736.2 497.95H1767.0V500.40H1736.2zM1736.2 500.40H1767.0V502.85H1736.2zM1736.2 502.85H1767.0V505.30H1736.2zM1736.2 505.30H1767.0V507.75H1736.2zM1736.2 507.75H1767.0V510.20H1736.2zM1736.2 512.65H1767.0V515.10H1736.2zM1736.2 515.10H1767.0V517.55H1736.2zM1736.2 517.55H1767.0V520.00H1736.2z" fill="rgb(237,242,253)"/><path d="M1736.2 348.50H1767.0V350.95H1736.2zM1736.2 493.05H1767.0V495.50H1736.2zM1736.2 495.50H1767.0V497.95H1736.2z" fill="rgb(230,237,252)"/><path d="M1736.2 439.15H1767.0V441.60H1736.2zM1736.2 441.60H1767.0V444.05H1736.2zM1736.2 444.05H1767.0V446.50H1736.2zM1736.2 451.40H1767.0V453.85H1736.2zM1736.2 456.30H1767.0V458.75H1736.2zM1736.2 458.75H1767.0V461.20H1736.2zM1736.2 461.20H1767.0V463.65H1736.2z" fill="rgb(222,231,252)"/><path d="M1736.2 446.50H1767.0V448.95H1736.2zM1736.2 448.95H1767.0V451.40H1736.2zM1736.2 453.85H1767.0V456.30H1736.2zM1736.2 466.10H1767.0V468.55H1736.2zM1736.2 480.80H1767.0V483.25H1736.2zM1736.2 488.15H1767.0V490.60H1736.2z" fill="rgb(213,225,251)"/><path d="M1736.2 424.45H1767.0V426.90H1736.2zM1736.2 475.90H1767.0V478.35H1736.2zM1736.2 483.25H1767.0V485.70H1736.2zM1736.2 485.70H1767.0V488.15H1736.2zM1736.2 490.60H1767.0V493.05H1736.2z" fill="rgb(204,218,250)"/><path d="M1736.2 426.90H1767.0V429.35H1736.2zM1736.2 431.80H1767.0V434.25H1736.2zM1736.2 436.70H1767.0V439.15H1736.2zM1736.2 463.65H1767.0V466.10H1736.2zM1736.2 478.35H1767.0V480.80H1736.2z" fill="rgb(195,211,248)"/><path d="M1736.2 350.95H1767.0V353.40H1736.2zM1736.2 355.85H1767.0V358.30H1736.2zM1736.2 358.30H1767.0V360.75H1736.2zM1736.2 360.75H1767.0V363.20H1736.2zM1736.2 468.55H1767.0V471.00H1736.2zM1736.2 473.45H1767.0V475.90H1736.2z" fill="rgb(186,205,247)"/><path d="M1736.2 422.00H1767.0V424.45H1736.2zM1736.2 429.35H1767.0V431.80H1736.2zM1736.2 434.25H1767.0V436.70H1736.2z" fill="rgb(177,197,246)"/><path d="M1736.2 353.40H1767.0V355.85H1736.2zM1736.2 375.45H1767.0V377.90H1736.2zM1736.2 419.55H1767.0V422.00H1736.2zM1736.2 471.00H1767.0V473.45H1736.2z" fill="rgb(167,190,245)"/><path d="M1736.2 363.20H1767.0V365.65H1736.2zM1736.2 414.65H1767.0V417.10H1736.2z" fill="rgb(157,183,244)"/><path d="M1736.2 370.55H1767.0V373.00H1736.2z" fill="rgb(148,176,243)"/><path d="M1736.2 365.65H1767.0V368.10H1736.2zM1736.2 368.10H1767.0V370.55H1736.2zM1736.2 412.20H1767.0V414.65H1736.2zM1736.2 417.10H1767.0V419.55H1736.2z" fill="rgb(139,169,240)"/><path d="M1736.2 373.00H1767.0V375.45H1736.2zM1736.2 377.90H1767.0V380.35H1736.2z" fill="rgb(122,154,235)"/><path d="M1736.2 390.15H1767.0V392.60H1736.2z" fill="rgb(113,147,232)"/><path d="M1736.2 380.35H1767.0V382.80H1736.2zM1736.2 385.25H1767.0V387.70H1736.2z" fill="rgb(104,140,229)"/><path d="M1736.2 395.05H1767.0V397.50H1736.2zM1736.2 404.85H1767.0V407.30H1736.2z" fill="rgb(95,133,227)"/><path d="M1736.2 382.80H1767.0V385.25H1736.2zM1736.2 392.60H1767.0V395.05H1736.2zM1736.2 397.50H1767.0V399.95H1736.2zM1736.2 407.30H1767.0V409.75H1736.2zM1736.2 409.75H1767.0V412.20H1736.2z" fill="rgb(86,125,224)"/><path d="M1736.2 399.95H1767.0V402.40H1736.2z" fill="rgb(77,118,221)"/><path d="M1736.2 387.70H1767.0V390.15H1736.2zM1736.2 402.40H1767.0V404.85H1736.2z" fill="rgb(68,110,218)"/></g>
<g opacity=".82" shape-rendering="crispEdges"><path d="M1776.0 630.00H1806.8V632.45H1776.0zM1776.0 637.35H1806.8V639.80H1776.0zM1776.0 639.80H1806.8V642.25H1776.0zM1776.0 781.90H1806.8V784.35H1776.0zM1776.0 784.35H1806.8V786.80H1776.0zM1776.0 796.60H1806.8V799.05H1776.0zM1776.0 801.50H1806.8V803.95H1776.0zM1776.0 818.65H1806.8V821.10H1776.0zM1776.0 821.10H1806.8V823.55H1776.0zM1776.0 830.90H1806.8V833.35H1776.0zM1776.0 838.25H1806.8V840.70H1776.0zM1776.0 843.15H1806.8V845.60H1776.0zM1776.0 848.05H1806.8V850.50H1776.0zM1776.0 850.50H1806.8V852.95H1776.0zM1776.0 857.85H1806.8V860.30H1776.0zM1776.0 860.30H1806.8V862.75H1776.0zM1776.0 862.75H1806.8V865.20H1776.0zM1776.0 865.20H1806.8V867.65H1776.0zM1776.0 867.65H1806.8V870.10H1776.0zM1776.0 870.10H1806.8V872.55H1776.0zM1776.0 887.25H1806.8V889.70H1776.0zM1776.0 909.30H1806.8V911.75H1776.0zM1776.0 911.75H1806.8V914.20H1776.0zM1776.0 914.20H1806.8V916.65H1776.0zM1776.0 916.65H1806.8V919.10H1776.0zM1776.0 921.55H1806.8V924.00H1776.0zM1776.0 924.00H1806.8V926.45H1776.0zM1776.0 926.45H1806.8V928.90H1776.0zM1776.0 933.80H1806.8V936.25H1776.0zM1776.0 938.70H1806.8V940.00H1776.0z" fill="rgb(243,247,254)"/><path d="M1776.0 632.45H1806.8V634.90H1776.0zM1776.0 634.90H1806.8V637.35H1776.0zM1776.0 642.25H1806.8V644.70H1776.0zM1776.0 644.70H1806.8V647.15H1776.0zM1776.0 647.15H1806.8V649.60H1776.0zM1776.0 656.95H1806.8V659.40H1776.0zM1776.0 659.40H1806.8V661.85H1776.0zM1776.0 661.85H1806.8V664.30H1776.0zM1776.0 664.30H1806.8V666.75H1776.0zM1776.0 666.75H1806.8V669.20H1776.0zM1776.0 669.20H1806.8V671.65H1776.0zM1776.0 671.65H1806.8V674.10H1776.0zM1776.0 674.10H1806.8V676.55H1776.0zM1776.0 676.55H1806.8V679.00H1776.0zM1776.0 681.45H1806.8V683.90H1776.0zM1776.0 705.95H1806.8V708.40H1776.0zM1776.0 713.30H1806.8V715.75H1776.0zM1776.0 720.65H1806.8V723.10H1776.0zM1776.0 732.90H1806.8V735.35H1776.0zM1776.0 735.35H1806.8V737.80H1776.0zM1776.0 737.80H1806.8V740.25H1776.0zM1776.0 740.25H1806.8V742.70H1776.0zM1776.0 742.70H1806.8V745.15H1776.0zM1776.0 767.20H1806.8V769.65H1776.0zM1776.0 779.45H1806.8V781.90H1776.0zM1776.0 786.80H1806.8V789.25H1776.0zM1776.0 789.25H1806.8V791.70H1776.0zM1776.0 791.70H1806.8V794.15H1776.0zM1776.0 794.15H1806.8V796.60H1776.0zM1776.0 799.05H1806.8V801.50H1776.0zM1776.0 803.95H1806.8V806.40H1776.0zM1776.0 806.40H1806.8V808.85H1776.0zM1776.0 808.85H1806.8V811.30H1776.0zM1776.0 811.30H1806.8V813.75H1776.0zM1776.0 816.20H1806.8V818.65H1776.0zM1776.0 823.55H1806.8V826.00H1776.0zM1776.0 826.00H1806.8V828.45H1776.0zM1776.0 828.45H1806.8V830.90H1776.0zM1776.0 833.35H1806.8V835.80H1776.0zM1776.0 835.80H1806.8V838.25H1776.0zM1776.0 840.70H1806.8V843.15H1776.0zM1776.0 845.60H1806.8V848.05H1776.0zM1776.0 852.95H1806.8V855.40H1776.0zM1776.0 855.40H1806.8V857.85H1776.0zM1776.0 872.55H1806.8V875.00H1776.0zM1776.0 875.00H1806.8V877.45H1776.0zM1776.0 877.45H1806.8V879.90H1776.0zM1776.0 879.90H1806.8V882.35H1776.0zM1776.0 882.35H1806.8V884.80H1776.0zM1776.0 884.80H1806.8V887.25H1776.0zM1776.0 889.70H1806.8V892.15H1776.0zM1776.0 892.15H1806.8V894.60H1776.0zM1776.0 894.60H1806.8V897.05H1776.0zM1776.0 897.05H1806.8V899.50H1776.0zM1776.0 899.50H1806.8V901.95H1776.0zM1776.0 901.95H1806.8V904.40H1776.0zM1776.0 904.40H1806.8V906.85H1776.0zM1776.0 906.85H1806.8V909.30H1776.0zM1776.0 919.10H1806.8V921.55H1776.0zM1776.0 928.90H1806.8V931.35H1776.0zM1776.0 931.35H1806.8V933.80H1776.0zM1776.0 936.25H1806.8V938.70H1776.0z" fill="rgb(237,242,253)"/><path d="M1776.0 649.60H1806.8V652.05H1776.0zM1776.0 654.50H1806.8V656.95H1776.0zM1776.0 679.00H1806.8V681.45H1776.0zM1776.0 683.90H1806.8V686.35H1776.0zM1776.0 701.05H1806.8V703.50H1776.0zM1776.0 703.50H1806.8V705.95H1776.0zM1776.0 708.40H1806.8V710.85H1776.0zM1776.0 710.85H1806.8V713.30H1776.0zM1776.0 715.75H1806.8V718.20H1776.0zM1776.0 718.20H1806.8V720.65H1776.0zM1776.0 723.10H1806.8V725.55H1776.0zM1776.0 725.55H1806.8V728.00H1776.0zM1776.0 728.00H1806.8V730.45H1776.0zM1776.0 730.45H1806.8V732.90H1776.0zM1776.0 745.15H1806.8V747.60H1776.0zM1776.0 747.60H1806.8V750.05H1776.0zM1776.0 764.75H1806.8V767.20H1776.0zM1776.0 769.65H1806.8V772.10H1776.0zM1776.0 777.00H1806.8V779.45H1776.0zM1776.0 813.75H1806.8V816.20H1776.0z" fill="rgb(230,237,252)"/><path d="M1776.0 652.05H1806.8V654.50H1776.0zM1776.0 686.35H1806.8V688.80H1776.0zM1776.0 688.80H1806.8V691.25H1776.0zM1776.0 691.25H1806.8V693.70H1776.0zM1776.0 698.60H1806.8V701.05H1776.0zM1776.0 750.05H1806.8V752.50H1776.0zM1776.0 762.30H1806.8V764.75H1776.0zM1776.0 772.10H1806.8V774.55H1776.0zM1776.0 774.55H1806.8V777.00H1776.0z" fill="rgb(222,231,252)"/><path d="M1776.0 693.70H1806.8V696.15H1776.0zM1776.0 757.40H1806.8V759.85H1776.0z" fill="rgb(213,225,251)"/><path d="M1776.0 696.15H1806.8V698.60H1776.0zM1776.0 752.50H1806.8V754.95H1776.0zM1776.0 759.85H1806.8V762.30H1776.0z" fill="rgb(204,218,250)"/><path d="M1776.0 754.95H1806.8V757.40H1776.0z" fill="rgb(195,211,248)"/></g>
<path d="M1776.0 867.65H1806.8M1776.0 870.10H1806.8M1776.0 872.55H1806.8M1776.0 875.00H1806.8M1776.0 877.45H1806.8M1776.0 879.90H1806.8M1776.0 882.35H1806.8M1776.0 884.80H1806.8M1776.0 887.25H1806.8M1776.0 889.70H1806.8M1776.0 892.15H1806.8M1776.0 894.60H1806.8M1776.0 897.05H1806.8M1776.0 899.50H1806.8M1776.0 901.95H1806.8M1776.0 904.40H1806.8M1776.0 906.85H1806.8M1776.0 909.30H1806.8M1776.0 911.75H1806.8M1776.0 914.20H1806.8M1776.0 916.65H1806.8M1776.0 919.10H1806.8M1776.0 921.55H1806.8M1776.0 924.00H1806.8M1776.0 926.45H1806.8M1776.0 928.90H1806.8" stroke="#9a7fc4" stroke-width=".9" opacity=".28"/>
<g opacity=".82" shape-rendering="crispEdges"><path d="M1815.8 716.00H1846.5V718.45H1815.8zM1815.8 718.45H1846.5V720.90H1815.8zM1815.8 907.10H1846.5V909.55H1815.8zM1815.8 909.55H1846.5V912.00H1815.8zM1815.8 912.00H1846.5V914.45H1815.8zM1815.8 916.90H1846.5V919.35H1815.8zM1815.8 919.35H1846.5V921.80H1815.8zM1815.8 921.80H1846.5V924.25H1815.8zM1815.8 924.25H1846.5V926.70H1815.8zM1815.8 926.70H1846.5V929.15H1815.8zM1815.8 931.60H1846.5V934.05H1815.8zM1815.8 934.05H1846.5V936.50H1815.8zM1815.8 936.50H1846.5V938.95H1815.8zM1815.8 938.95H1846.5V940.00H1815.8z" fill="rgb(237,242,253)"/><path d="M1815.8 720.90H1846.5V723.35H1815.8zM1815.8 723.35H1846.5V725.80H1815.8zM1815.8 725.80H1846.5V728.25H1815.8zM1815.8 801.75H1846.5V804.20H1815.8zM1815.8 818.90H1846.5V821.35H1815.8zM1815.8 858.10H1846.5V860.55H1815.8zM1815.8 860.55H1846.5V863.00H1815.8zM1815.8 863.00H1846.5V865.45H1815.8zM1815.8 875.25H1846.5V877.70H1815.8zM1815.8 877.70H1846.5V880.15H1815.8zM1815.8 880.15H1846.5V882.60H1815.8zM1815.8 882.60H1846.5V885.05H1815.8zM1815.8 894.85H1846.5V897.30H1815.8zM1815.8 897.30H1846.5V899.75H1815.8zM1815.8 899.75H1846.5V902.20H1815.8zM1815.8 902.20H1846.5V904.65H1815.8zM1815.8 904.65H1846.5V907.10H1815.8zM1815.8 914.45H1846.5V916.90H1815.8zM1815.8 929.15H1846.5V931.60H1815.8z" fill="rgb(230,237,252)"/><path d="M1815.8 733.15H1846.5V735.60H1815.8zM1815.8 735.60H1846.5V738.05H1815.8zM1815.8 777.25H1846.5V779.70H1815.8zM1815.8 779.70H1846.5V782.15H1815.8zM1815.8 799.30H1846.5V801.75H1815.8zM1815.8 814.00H1846.5V816.45H1815.8zM1815.8 816.45H1846.5V818.90H1815.8zM1815.8 853.20H1846.5V855.65H1815.8zM1815.8 855.65H1846.5V858.10H1815.8zM1815.8 865.45H1846.5V867.90H1815.8zM1815.8 885.05H1846.5V887.50H1815.8z" fill="rgb(222,231,252)"/><path d="M1815.8 728.25H1846.5V730.70H1815.8zM1815.8 730.70H1846.5V733.15H1815.8zM1815.8 738.05H1846.5V740.50H1815.8zM1815.8 760.10H1846.5V762.55H1815.8zM1815.8 772.35H1846.5V774.80H1815.8zM1815.8 774.80H1846.5V777.25H1815.8zM1815.8 782.15H1846.5V784.60H1815.8zM1815.8 804.20H1846.5V806.65H1815.8zM1815.8 806.65H1846.5V809.10H1815.8zM1815.8 821.35H1846.5V823.80H1815.8zM1815.8 845.85H1846.5V848.30H1815.8zM1815.8 848.30H1846.5V850.75H1815.8zM1815.8 850.75H1846.5V853.20H1815.8zM1815.8 872.80H1846.5V875.25H1815.8zM1815.8 887.50H1846.5V889.95H1815.8zM1815.8 889.95H1846.5V892.40H1815.8z" fill="rgb(213,225,251)"/><path d="M1815.8 762.55H1846.5V765.00H1815.8zM1815.8 765.00H1846.5V767.45H1815.8zM1815.8 796.85H1846.5V799.30H1815.8zM1815.8 809.10H1846.5V811.55H1815.8zM1815.8 838.50H1846.5V840.95H1815.8zM1815.8 867.90H1846.5V870.35H1815.8zM1815.8 892.40H1846.5V894.85H1815.8z" fill="rgb(204,218,250)"/><path d="M1815.8 794.40H1846.5V796.85H1815.8zM1815.8 811.55H1846.5V814.00H1815.8zM1815.8 831.15H1846.5V833.60H1815.8zM1815.8 833.60H1846.5V836.05H1815.8zM1815.8 840.95H1846.5V843.40H1815.8zM1815.8 843.40H1846.5V845.85H1815.8zM1815.8 870.35H1846.5V872.80H1815.8z" fill="rgb(195,211,248)"/><path d="M1815.8 757.65H1846.5V760.10H1815.8zM1815.8 769.90H1846.5V772.35H1815.8zM1815.8 784.60H1846.5V787.05H1815.8zM1815.8 789.50H1846.5V791.95H1815.8zM1815.8 823.80H1846.5V826.25H1815.8zM1815.8 836.05H1846.5V838.50H1815.8z" fill="rgb(186,205,247)"/><path d="M1815.8 791.95H1846.5V794.40H1815.8zM1815.8 828.70H1846.5V831.15H1815.8z" fill="rgb(177,197,246)"/><path d="M1815.8 740.50H1846.5V742.95H1815.8zM1815.8 742.95H1846.5V745.40H1815.8zM1815.8 755.20H1846.5V757.65H1815.8zM1815.8 767.45H1846.5V769.90H1815.8zM1815.8 826.25H1846.5V828.70H1815.8z" fill="rgb(167,190,245)"/><path d="M1815.8 787.05H1846.5V789.50H1815.8z" fill="rgb(157,183,244)"/><path d="M1815.8 745.40H1846.5V747.85H1815.8zM1815.8 750.30H1846.5V752.75H1815.8zM1815.8 752.75H1846.5V755.20H1815.8z" fill="rgb(148,176,243)"/><path d="M1815.8 747.85H1846.5V750.30H1815.8z" fill="rgb(139,169,240)"/></g>
<path d="M1815.8 894.85H1846.5M1815.8 897.30H1846.5M1815.8 899.75H1846.5M1815.8 902.20H1846.5M1815.8 904.65H1846.5M1815.8 907.10H1846.5M1815.8 909.55H1846.5M1815.8 912.00H1846.5M1815.8 914.45H1846.5M1815.8 916.90H1846.5M1815.8 919.35H1846.5M1815.8 921.80H1846.5M1815.8 924.25H1846.5M1815.8 926.70H1846.5M1815.8 929.15H1846.5" stroke="#9a7fc4" stroke-width=".9" opacity=".28"/>
<g opacity=".82" shape-rendering="crispEdges"><path d="M1855.5 745.60H1860.0V748.05H1855.5zM1855.5 748.05H1860.0V750.50H1855.5zM1855.5 757.85H1860.0V760.30H1855.5zM1855.5 767.65H1860.0V770.10H1855.5zM1855.5 770.10H1860.0V772.55H1855.5zM1855.5 787.25H1860.0V789.70H1855.5zM1855.5 789.70H1860.0V792.00H1855.5z" fill="rgb(237,242,253)"/><path d="M1855.5 730.90H1860.0V733.35H1855.5zM1855.5 735.80H1860.0V738.25H1855.5zM1855.5 743.15H1860.0V745.60H1855.5zM1855.5 750.50H1860.0V752.95H1855.5zM1855.5 752.95H1860.0V755.40H1855.5zM1855.5 755.40H1860.0V757.85H1855.5zM1855.5 760.30H1860.0V762.75H1855.5zM1855.5 772.55H1860.0V775.00H1855.5zM1855.5 775.00H1860.0V777.45H1855.5zM1855.5 777.45H1860.0V779.90H1855.5zM1855.5 779.90H1860.0V782.35H1855.5zM1855.5 782.35H1860.0V784.80H1855.5zM1855.5 784.80H1860.0V787.25H1855.5z" fill="rgb(230,237,252)"/><path d="M1855.5 628.00H1860.0V630.45H1855.5zM1855.5 733.35H1860.0V735.80H1855.5zM1855.5 738.25H1860.0V740.70H1855.5zM1855.5 740.70H1860.0V743.15H1855.5zM1855.5 762.75H1860.0V765.20H1855.5zM1855.5 765.20H1860.0V767.65H1855.5z" fill="rgb(222,231,252)"/><path d="M1855.5 728.45H1860.0V730.90H1855.5z" fill="rgb(213,225,251)"/><path d="M1855.5 630.45H1860.0V632.90H1855.5z" fill="rgb(204,218,250)"/><path d="M1855.5 632.90H1860.0V635.35H1855.5z" fill="rgb(177,197,246)"/><path d="M1855.5 713.75H1860.0V716.20H1855.5z" fill="rgb(167,190,245)"/><path d="M1855.5 708.85H1860.0V711.30H1855.5z" fill="rgb(157,183,244)"/><path d="M1855.5 642.70H1860.0V645.15H1855.5zM1855.5 645.15H1860.0V647.60H1855.5zM1855.5 681.90H1860.0V684.35H1855.5zM1855.5 706.40H1860.0V708.85H1855.5zM1855.5 726.00H1860.0V728.45H1855.5z" fill="rgb(148,176,243)"/><path d="M1855.5 669.65H1860.0V672.10H1855.5z" fill="rgb(139,169,240)"/><path d="M1855.5 637.80H1860.0V640.25H1855.5zM1855.5 701.50H1860.0V703.95H1855.5zM1855.5 711.30H1860.0V713.75H1855.5zM1855.5 716.20H1860.0V718.65H1855.5zM1855.5 718.65H1860.0V721.10H1855.5z" fill="rgb(131,162,238)"/><path d="M1855.5 635.35H1860.0V637.80H1855.5zM1855.5 686.80H1860.0V689.25H1855.5zM1855.5 694.15H1860.0V696.60H1855.5zM1855.5 721.10H1860.0V723.55H1855.5zM1855.5 723.55H1860.0V726.00H1855.5z" fill="rgb(122,154,235)"/><path d="M1855.5 640.25H1860.0V642.70H1855.5zM1855.5 647.60H1860.0V650.05H1855.5zM1855.5 650.05H1860.0V652.50H1855.5zM1855.5 664.75H1860.0V667.20H1855.5zM1855.5 679.45H1860.0V681.90H1855.5zM1855.5 684.35H1860.0V686.80H1855.5z" fill="rgb(113,147,232)"/><path d="M1855.5 652.50H1860.0V654.95H1855.5zM1855.5 657.40H1860.0V659.85H1855.5zM1855.5 703.95H1860.0V706.40H1855.5z" fill="rgb(104,140,229)"/><path d="M1855.5 654.95H1860.0V657.40H1855.5zM1855.5 662.30H1860.0V664.75H1855.5zM1855.5 689.25H1860.0V691.70H1855.5z" fill="rgb(95,133,227)"/><path d="M1855.5 667.20H1860.0V669.65H1855.5zM1855.5 677.00H1860.0V679.45H1855.5zM1855.5 699.05H1860.0V701.50H1855.5z" fill="rgb(86,125,224)"/><path d="M1855.5 659.85H1860.0V662.30H1855.5z" fill="rgb(77,118,221)"/><path d="M1855.5 672.10H1860.0V674.55H1855.5zM1855.5 674.55H1860.0V677.00H1855.5zM1855.5 691.70H1860.0V694.15H1855.5zM1855.5 696.60H1860.0V699.05H1855.5z" fill="rgb(68,110,218)"/></g>
<rect x="304.6" y="786.5" width="31.2" height="152.5" fill="#fff" fill-opacity=".12" stroke="#474b57" stroke-width="1.8"/><rect x="299.1" y="786.0" width="5" height="153.5" fill="#22a595"/><path d="M304.6 839.0H335.8" stroke="#1b2f66" stroke-width="1.6"/>
<path d="M359.7 465.5V639.5" stroke="#474b57" stroke-width="1.7"/><path d="M359.7 780.5V792.5" stroke="#474b57" stroke-width="1.7"/><rect x="344.3" y="640.5" width="31.2" height="139.0" fill="#fff" fill-opacity=".12" stroke="#474b57" stroke-width="1.8"/><rect x="338.8" y="640.0" width="5" height="140.0" fill="#22a595"/><path d="M344.3 594.3H375.5" stroke="#1b2f66" stroke-width="1.6"/>
<path d="M399.4 550.0V597.8" stroke="#474b57" stroke-width="1.7"/><path d="M399.4 615.5V677.5" stroke="#474b57" stroke-width="1.7"/><rect x="384.1" y="598.8" width="31.2" height="15.7" fill="#fff" fill-opacity=".12" stroke="#474b57" stroke-width="1.8"/><rect x="378.6" y="598.3" width="5" height="16.7" fill="#ea4b45"/>
<path d="M439.2 588.8V621.3" stroke="#474b57" stroke-width="1.7"/><path d="M439.2 654.5V685.0" stroke="#474b57" stroke-width="1.7"/><rect x="423.8" y="622.3" width="31.2" height="31.2" fill="#fff" fill-opacity=".12" stroke="#474b57" stroke-width="1.8"/><rect x="418.3" y="621.8" width="5" height="32.2" fill="#ea4b45"/><path d="M423.8 665.5H455.0" stroke="#1b2f66" stroke-width="1.6"/>
<path d="M478.9 496.8V550.0" stroke="#474b57" stroke-width="1.7"/><path d="M478.9 633.8V649.5" stroke="#474b57" stroke-width="1.7"/><rect x="463.6" y="551.0" width="31.2" height="81.8" fill="#fff" fill-opacity=".12" stroke="#474b57" stroke-width="1.8"/><rect x="458.1" y="550.5" width="5" height="82.8" fill="#22a595"/><path d="M463.6 560.5H494.8" stroke="#1b2f66" stroke-width="1.6"/>
<path d="M518.7 504.0V529.3" stroke="#474b57" stroke-width="1.7"/><path d="M518.7 609.5V643.8" stroke="#474b57" stroke-width="1.7"/><rect x="503.3" y="530.3" width="31.2" height="78.2" fill="#fff" fill-opacity=".12" stroke="#474b57" stroke-width="1.8"/><rect x="497.8" y="529.8" width="5" height="79.2" fill="#ea4b45"/><path d="M503.3 619.5H534.5" stroke="#1b2f66" stroke-width="1.6"/>
<path d="M558.4 611.8V618.8" stroke="#474b57" stroke-width="1.7"/><path d="M558.4 727.0V745.0" stroke="#474b57" stroke-width="1.7"/><rect x="543.0" y="619.8" width="31.2" height="106.2" fill="#fff" fill-opacity=".12" stroke="#474b57" stroke-width="1.8"/><rect x="537.5" y="619.3" width="5" height="107.2" fill="#ea4b45"/><path d="M543.0 723.8H574.2" stroke="#1b2f66" stroke-width="1.6"/>
<path d="M598.2 669.5V706.8" stroke="#474b57" stroke-width="1.7"/><rect x="582.8" y="707.8" width="31.2" height="78.2" fill="#fff" fill-opacity=".12" stroke="#474b57" stroke-width="1.8"/><rect x="577.3" y="707.3" width="5" height="79.2" fill="#ea4b45"/><path d="M582.8 707.5H614.0" stroke="#1b2f66" stroke-width="1.6"/>
<path d="M637.9 649.5V761.3" stroke="#474b57" stroke-width="1.7"/><path d="M637.9 772.0V800.5" stroke="#474b57" stroke-width="1.7"/><rect x="622.5" y="762.3" width="31.2" height="8.7" fill="#fff" fill-opacity=".12" stroke="#474b57" stroke-width="1.8"/><rect x="617.0" y="761.8" width="5" height="9.7" fill="#22a595"/><path d="M622.5 741.5H653.8" stroke="#1b2f66" stroke-width="1.6"/>
<path d="M677.7 681.5V736.3" stroke="#474b57" stroke-width="1.7"/><path d="M677.7 739.5V750.0" stroke="#474b57" stroke-width="1.7"/><rect x="661.9" y="736.3" width="32.0" height="3.2" fill="#6d6f78" stroke="#474b57" stroke-width="1"/><rect x="656.8" y="736.8" width="5" height="2.2" fill="#ea4b45"/><path d="M662.3 716.5H693.5" stroke="#1b2f66" stroke-width="1.6"/>
<path d="M717.4 596.3V639.5" stroke="#474b57" stroke-width="1.7"/><path d="M717.4 680.0V701.3" stroke="#474b57" stroke-width="1.7"/><rect x="702.0" y="640.5" width="31.2" height="38.5" fill="#fff" fill-opacity=".12" stroke="#474b57" stroke-width="1.8"/><rect x="696.5" y="640.0" width="5" height="39.5" fill="#22a595"/><path d="M702.0 636.5H733.2" stroke="#1b2f66" stroke-width="1.6"/>
<path d="M757.2 575.0V600.5" stroke="#474b57" stroke-width="1.7"/><path d="M757.2 615.5V658.8" stroke="#474b57" stroke-width="1.7"/><rect x="741.8" y="601.5" width="31.2" height="13.0" fill="#fff" fill-opacity=".12" stroke="#474b57" stroke-width="1.8"/><rect x="736.3" y="601.0" width="5" height="14.0" fill="#ea4b45"/><path d="M741.8 623.0H773.0" stroke="#1b2f66" stroke-width="1.6"/>
<path d="M796.9 566.3V573.3" stroke="#474b57" stroke-width="1.7"/><path d="M796.9 701.5V709.5" stroke="#474b57" stroke-width="1.7"/><rect x="781.5" y="574.3" width="31.2" height="126.2" fill="#fff" fill-opacity=".12" stroke="#474b57" stroke-width="1.8"/><rect x="776.0" y="573.8" width="5" height="127.2" fill="#ea4b45"/><path d="M781.5 615.0H812.8" stroke="#1b2f66" stroke-width="1.6"/>
<path d="M836.7 531.3V550.3" stroke="#474b57" stroke-width="1.7"/><path d="M836.7 665.5V669.5" stroke="#474b57" stroke-width="1.7"/><rect x="821.3" y="551.3" width="31.2" height="113.2" fill="#fff" fill-opacity=".12" stroke="#474b57" stroke-width="1.8"/><rect x="815.8" y="550.8" width="5" height="114.2" fill="#22a595"/><path d="M821.3 544.5H852.5" stroke="#1b2f66" stroke-width="1.6"/>
<path d="M876.4 566.5V591.8" stroke="#474b57" stroke-width="1.7"/><rect x="861.0" y="461.5" width="31.2" height="104.0" fill="#fff" fill-opacity=".12" stroke="#474b57" stroke-width="1.8"/><rect x="855.5" y="461.0" width="5" height="105.0" fill="#22a595"/><path d="M861.0 477.5H892.2" stroke="#1b2f66" stroke-width="1.6"/>
<path d="M916.2 472.0V495.0" stroke="#474b57" stroke-width="1.7"/><rect x="900.8" y="434.0" width="31.2" height="37.0" fill="#fff" fill-opacity=".12" stroke="#474b57" stroke-width="1.8"/><rect x="895.3" y="433.5" width="5" height="38.0" fill="#22a595"/><path d="M900.8 433.5H932.0" stroke="#1b2f66" stroke-width="1.6"/>
<path d="M955.9 313.0V315.0" stroke="#474b57" stroke-width="1.7"/><rect x="940.5" y="316.0" width="31.2" height="115.0" fill="#fff" fill-opacity=".12" stroke="#474b57" stroke-width="1.8"/><rect x="935.0" y="315.5" width="5" height="116.0" fill="#22a595"/><path d="M940.5 340.5H971.8" stroke="#1b2f66" stroke-width="1.6"/>
<path d="M995.7 278.5V279.5" stroke="#474b57" stroke-width="1.7"/><path d="M995.7 298.3V392.5" stroke="#474b57" stroke-width="1.7"/><rect x="980.3" y="280.5" width="31.2" height="16.8" fill="#fff" fill-opacity=".12" stroke="#474b57" stroke-width="1.8"/><rect x="974.8" y="280.0" width="5" height="17.8" fill="#22a595"/>
<path d="M1035.5 240.8V257.5" stroke="#474b57" stroke-width="1.7"/><path d="M1035.5 278.0V315.0" stroke="#474b57" stroke-width="1.7"/><rect x="1020.0" y="258.5" width="31.2" height="18.5" fill="#fff" fill-opacity=".12" stroke="#474b57" stroke-width="1.8"/><rect x="1014.5" y="258.0" width="5" height="19.5" fill="#22a595"/><path d="M1020.0 269.3H1051.2" stroke="#1b2f66" stroke-width="1.6"/>
<path d="M1075.2 149.5V153.3" stroke="#474b57" stroke-width="1.7"/><path d="M1075.2 244.3V245.5" stroke="#474b57" stroke-width="1.7"/><rect x="1059.8" y="154.3" width="31.2" height="89.0" fill="#fff" fill-opacity=".12" stroke="#474b57" stroke-width="1.8"/><rect x="1054.3" y="153.8" width="5" height="90.0" fill="#22a595"/><path d="M1059.8 177.3H1091.0" stroke="#1b2f66" stroke-width="1.6"/>
<path d="M1115.0 167.0V190.9" stroke="#474b57" stroke-width="1.7"/><path d="M1115.0 286.0V329.5" stroke="#474b57" stroke-width="1.7"/><rect x="1099.5" y="191.9" width="31.2" height="93.1" fill="#fff" fill-opacity=".12" stroke="#474b57" stroke-width="1.8"/><rect x="1094.0" y="191.4" width="5" height="94.1" fill="#ea4b45"/>
<path d="M1154.7 160.8V211.0" stroke="#474b57" stroke-width="1.7"/><path d="M1154.7 253.0V259.0" stroke="#474b57" stroke-width="1.7"/><rect x="1139.3" y="212.0" width="31.2" height="40.0" fill="#fff" fill-opacity=".12" stroke="#474b57" stroke-width="1.8"/><rect x="1133.8" y="211.5" width="5" height="41.0" fill="#22a595"/><path d="M1139.3 202.3H1170.5" stroke="#1b2f66" stroke-width="1.6"/>
<path d="M1194.5 47.8V66.3" stroke="#474b57" stroke-width="1.7"/><path d="M1194.5 117.6V151.3" stroke="#474b57" stroke-width="1.7"/><rect x="1179.0" y="67.3" width="31.2" height="49.3" fill="#fff" fill-opacity=".12" stroke="#474b57" stroke-width="1.8"/><rect x="1173.5" y="66.8" width="5" height="50.3" fill="#ea4b45"/><path d="M1179.0 107.8H1210.2" stroke="#1b2f66" stroke-width="1.6"/>
<path d="M1234.2 71.4V103.0" stroke="#474b57" stroke-width="1.7"/><path d="M1234.2 108.6V169.7" stroke="#474b57" stroke-width="1.7"/><rect x="1218.8" y="104.0" width="31.2" height="3.6" fill="#fff" fill-opacity=".12" stroke="#474b57" stroke-width="1.8"/><rect x="1213.3" y="103.5" width="5" height="4.6" fill="#ea4b45"/><path d="M1218.8 116.2H1250.0" stroke="#1b2f66" stroke-width="1.6"/>
<path d="M1274.0 190.5V238.8" stroke="#474b57" stroke-width="1.7"/><path d="M1274.0 253.8V308.8" stroke="#474b57" stroke-width="1.7"/><rect x="1258.5" y="239.8" width="31.2" height="13.0" fill="#fff" fill-opacity=".12" stroke="#474b57" stroke-width="1.8"/><rect x="1253.0" y="239.3" width="5" height="14.0" fill="#ea4b45"/>
<path d="M1313.7 214.3V218.0" stroke="#474b57" stroke-width="1.7"/><path d="M1313.7 368.3V415.8" stroke="#474b57" stroke-width="1.7"/><rect x="1298.3" y="219.0" width="31.2" height="148.3" fill="#fff" fill-opacity=".12" stroke="#474b57" stroke-width="1.8"/><rect x="1292.8" y="218.5" width="5" height="149.3" fill="#ea4b45"/><path d="M1298.3 366.3H1329.5" stroke="#1b2f66" stroke-width="1.6"/>
<path d="M1353.5 303.8V351.3" stroke="#474b57" stroke-width="1.7"/><path d="M1353.5 365.5V391.3" stroke="#474b57" stroke-width="1.7"/><rect x="1338.0" y="352.3" width="31.2" height="12.2" fill="#fff" fill-opacity=".12" stroke="#474b57" stroke-width="1.8"/><rect x="1332.5" y="351.8" width="5" height="13.2" fill="#ea4b45"/><path d="M1338.0 348.8H1369.2" stroke="#1b2f66" stroke-width="1.6"/>
<path d="M1393.2 280.0V298.3" stroke="#474b57" stroke-width="1.7"/><path d="M1393.2 374.5V395.8" stroke="#474b57" stroke-width="1.7"/><rect x="1377.8" y="299.3" width="31.2" height="74.2" fill="#fff" fill-opacity=".12" stroke="#474b57" stroke-width="1.8"/><rect x="1372.3" y="298.8" width="5" height="75.2" fill="#ea4b45"/><path d="M1377.8 373.3H1409.0" stroke="#1b2f66" stroke-width="1.6"/>
<path d="M1433.0 300.8V348.0" stroke="#474b57" stroke-width="1.7"/><path d="M1433.0 364.0V405.8" stroke="#474b57" stroke-width="1.7"/><rect x="1417.5" y="349.0" width="31.2" height="14.0" fill="#fff" fill-opacity=".12" stroke="#474b57" stroke-width="1.8"/><rect x="1412.0" y="348.5" width="5" height="15.0" fill="#22a595"/>
<path d="M1472.7 352.5V372.5" stroke="#474b57" stroke-width="1.7"/><path d="M1472.7 506.3V541.3" stroke="#474b57" stroke-width="1.7"/><rect x="1457.3" y="373.5" width="31.2" height="131.8" fill="#fff" fill-opacity=".12" stroke="#474b57" stroke-width="1.8"/><rect x="1451.8" y="373.0" width="5" height="132.8" fill="#ea4b45"/><path d="M1457.3 520.5H1488.5" stroke="#1b2f66" stroke-width="1.6"/>
<path d="M1512.5 449.5V496.3" stroke="#474b57" stroke-width="1.7"/><path d="M1512.5 533.8V603.0" stroke="#474b57" stroke-width="1.7"/><rect x="1497.0" y="497.3" width="31.2" height="35.5" fill="#fff" fill-opacity=".12" stroke="#474b57" stroke-width="1.8"/><rect x="1491.5" y="496.8" width="5" height="36.5" fill="#ea4b45"/>
<path d="M1552.2 483.3V502.3" stroke="#474b57" stroke-width="1.7"/><path d="M1552.2 518.0V568.8" stroke="#474b57" stroke-width="1.7"/><rect x="1536.8" y="503.3" width="31.2" height="13.7" fill="#fff" fill-opacity=".12" stroke="#474b57" stroke-width="1.8"/><rect x="1531.3" y="502.8" width="5" height="14.7" fill="#ea4b45"/><path d="M1536.8 525.0H1568.0" stroke="#1b2f66" stroke-width="1.6"/>
<path d="M1592.0 488.0V513.3" stroke="#474b57" stroke-width="1.7"/><path d="M1592.0 545.5V575.8" stroke="#474b57" stroke-width="1.7"/><rect x="1576.5" y="514.3" width="31.2" height="30.2" fill="#fff" fill-opacity=".12" stroke="#474b57" stroke-width="1.8"/><rect x="1571.0" y="513.8" width="5" height="31.2" fill="#22a595"/><path d="M1576.5 505.5H1607.8" stroke="#1b2f66" stroke-width="1.6"/>
<path d="M1631.7 462.5V490.0" stroke="#474b57" stroke-width="1.7"/><path d="M1631.7 501.8V566.3" stroke="#474b57" stroke-width="1.7"/><rect x="1616.3" y="491.0" width="31.2" height="9.8" fill="#fff" fill-opacity=".12" stroke="#474b57" stroke-width="1.8"/><rect x="1610.8" y="490.5" width="5" height="10.8" fill="#ea4b45"/><path d="M1616.3 495.8H1647.5" stroke="#1b2f66" stroke-width="1.6"/>
<path d="M1671.5 377.0V421.5" stroke="#474b57" stroke-width="1.7"/><path d="M1671.5 437.0V455.8" stroke="#474b57" stroke-width="1.7"/><rect x="1656.0" y="422.5" width="31.2" height="13.5" fill="#fff" fill-opacity=".12" stroke="#474b57" stroke-width="1.8"/><rect x="1650.5" y="422.0" width="5" height="14.5" fill="#22a595"/><path d="M1656.0 410.3H1687.2" stroke="#1b2f66" stroke-width="1.6"/>
<path d="M1711.2 360.8V363.0" stroke="#474b57" stroke-width="1.7"/><path d="M1711.2 513.8V544.3" stroke="#474b57" stroke-width="1.7"/><rect x="1695.8" y="364.0" width="31.2" height="148.8" fill="#fff" fill-opacity=".12" stroke="#474b57" stroke-width="1.8"/><rect x="1690.3" y="363.5" width="5" height="149.8" fill="#ea4b45"/><path d="M1695.8 515.0H1727.0" stroke="#1b2f66" stroke-width="1.6"/>
<path d="M1751.0 333.8V475.3" stroke="#474b57" stroke-width="1.7"/><path d="M1751.0 493.0V527.5" stroke="#474b57" stroke-width="1.7"/><rect x="1735.5" y="476.3" width="31.2" height="15.7" fill="#fff" fill-opacity=".12" stroke="#474b57" stroke-width="1.8"/><rect x="1730.0" y="475.8" width="5" height="16.7" fill="#22a595"/><path d="M1735.5 398.3H1766.8" stroke="#1b2f66" stroke-width="1.6"/>
<path d="M1790.7 630.0V734.3" stroke="#474b57" stroke-width="1.7"/><rect x="1775.3" y="735.3" width="31.2" height="203.7" fill="#fff" fill-opacity=".12" stroke="#474b57" stroke-width="1.8"/><rect x="1769.8" y="734.8" width="5" height="204.7" fill="#22a595"/>
<path d="M1830.5 716.0V785.3" stroke="#474b57" stroke-width="1.7"/><path d="M1830.5 832.0V940.0" stroke="#474b57" stroke-width="1.7"/><rect x="1815.0" y="786.3" width="31.2" height="44.7" fill="#fff" fill-opacity=".12" stroke="#474b57" stroke-width="1.8"/><rect x="1809.5" y="785.8" width="5" height="45.7" fill="#22a595"/><path d="M1815.0 836.3H1846.2" stroke="#1b2f66" stroke-width="1.6"/>
<path d="M1870.2 628.0V718.0" stroke="#474b57" stroke-width="1.7"/><rect x="1854.8" y="719.0" width="31.2" height="72.0" fill="#fff" fill-opacity=".12" stroke="#474b57" stroke-width="1.8"/><rect x="1849.3" y="718.5" width="5" height="73.0" fill="#22a595"/><path d="M1854.8 667.3H1886.0" stroke="#1b2f66" stroke-width="1.6"/>
<rect x="1860" y="30" width="54" height="920" fill="#fff"/>
<rect x="28.1" y="931.0" width="1885.9" height="19.5" fill="#fff"/>
<path d="M1860 30V931.0" stroke="#a9a9af" stroke-width="1.8"/>
<path d="M39.5 930.5v5M119.0 930.5v5M198.4 930.5v5M277.9 930.5v5M357.3 930.5v5M436.8 930.5v5M516.3 930.5v5M595.7 930.5v5M675.2 930.5v5M754.6 930.5v5M834.1 930.5v5M913.6 930.5v5M993.0 930.5v5M1072.5 930.5v5M1151.9 930.5v5M1231.4 930.5v5M1310.9 930.5v5M1390.3 930.5v5M1469.8 930.5v5M1549.2 930.5v5M1628.7 930.5v5M1708.2 930.5v5M1787.6 930.5v5M1867.1 930.5v5" stroke="#333" stroke-width="1.2"/>
<g font-family="Liberation Sans,Arial,sans-serif" font-size="12" fill="#333"><text x="32.2" y="946.6">May</text><text x="94.6" y="946.6">04 Jun</text><text x="174.0" y="946.6">06 Jun</text><text x="253.5" y="946.6">10 Jun</text><text x="332.9" y="946.6">12 Jun</text><text x="412.4" y="946.6">14 Jun</text><text x="491.9" y="946.6">18 Jun</text><text x="571.3" y="946.6">21 Jun</text><text x="650.8" y="946.6">25 Jun</text><text x="730.2" y="946.6">27 Jun</text><text x="809.7" y="946.6">01 Jul</text><text x="889.2" y="946.6">03 Jul</text><text x="968.6" y="946.6">08 Jul</text><text x="1048.1" y="946.6">10 Jul</text><text x="1127.5" y="946.6">12 Jul</text><text x="1207.0" y="946.6">16 Jul</text><text x="1286.5" y="946.6">18 Jul</text><text x="1365.9" y="946.6">22 Jul</text><text x="1445.4" y="946.6">24 Jul</text><text x="1524.8" y="946.6">26 Jul</text><text x="1604.3" y="946.6">30 Jul</text><text x="1683.8" y="946.6">01 Aug</text><text x="1763.2" y="946.6">05 Aug</text><text x="1842.7" y="946.6">07 Aug</text><text x="1865.6" y="59.1">237.00</text><text x="1865.6" y="95.8">235.50</text><text x="1865.6" y="132.6">234.00</text><text x="1865.6" y="169.3">232.50</text><text x="1865.6" y="206.1">231.00</text><text x="1865.6" y="242.8">229.50</text><text x="1865.6" y="279.6">228.00</text><text x="1865.6" y="316.4">226.50</text><text x="1865.6" y="353.1">225.00</text><text x="1865.6" y="389.9">223.50</text><text x="1865.6" y="426.6">222.00</text><text x="1865.6" y="463.4">220.50</text><text x="1865.6" y="500.1">219.00</text><text x="1865.6" y="536.9">217.50</text><text x="1865.6" y="573.6">216.00</text><text x="1865.6" y="610.4">214.50</text><text x="1865.6" y="647.1">213.00</text><text x="1865.6" y="683.9">211.50</text><text x="1865.6" y="720.6">210.00</text><text x="1865.6" y="757.4">208.50</text><text x="1865.6" y="794.1">207.00</text><text x="1865.6" y="830.9">205.50</text><text x="1865.6" y="867.6">204.00</text><text x="1865.6" y="904.4">202.50</text></g>
<g stroke="#000" stroke-width="2.1" fill="#000"><path d="M399.5 270V528"/><path d="M399.5 536.8l-3.7-11.1 3.7 1.9 3.7-1.9z" stroke="none"/><path d="M1431.5 883V432"/><path d="M1431.5 423.5l-3.7 11.1 3.7-1.9 3.7 1.9z" stroke="none"/></g>
<circle cx="399.2" cy="347.4" r="15.3" fill="#f5d90a" stroke="#111" stroke-width="2.3"/><text x="399.2" y="354.7" text-anchor="middle" font-family="Liberation Sans,Arial,sans-serif" font-weight="bold" font-size="20.5" fill="#111">1</text>
<circle cx="1433.1" cy="711.6" r="15.3" fill="#f5d90a" stroke="#111" stroke-width="2.3"/><text x="1433.1" y="718.9" text-anchor="middle" font-family="Liberation Sans,Arial,sans-serif" font-weight="bold" font-size="20.5" fill="#111">2</text>
</g>
<g id="lefttools"><g fill="#8e8e99"><circle cx="6.6" cy="32.3" r=".72"/><circle cx="10.6" cy="32.3" r=".72"/><circle cx="14.5" cy="32.3" r=".72"/><circle cx="18.5" cy="32.3" r=".72"/><circle cx="22.5" cy="32.3" r=".72"/><circle cx="8.6" cy="34.2" r=".72"/><circle cx="12.6" cy="34.2" r=".72"/><circle cx="16.5" cy="34.2" r=".72"/><circle cx="20.5" cy="34.2" r=".72"/><circle cx="6.6" cy="36.1" r=".72"/><circle cx="10.6" cy="36.1" r=".72"/><circle cx="14.5" cy="36.1" r=".72"/><circle cx="18.5" cy="36.1" r=".72"/><circle cx="22.5" cy="36.1" r=".72"/></g><g fill="#8e8e99"><circle cx="6.6" cy="313.7" r=".72"/><circle cx="10.6" cy="313.7" r=".72"/><circle cx="14.5" cy="313.7" r=".72"/><circle cx="18.5" cy="313.7" r=".72"/><circle cx="22.5" cy="313.7" r=".72"/><circle cx="8.6" cy="315.6" r=".72"/><circle cx="12.6" cy="315.6" r=".72"/><circle cx="16.5" cy="315.6" r=".72"/><circle cx="20.5" cy="315.6" r=".72"/><circle cx="6.6" cy="317.5" r=".72"/><circle cx="10.6" cy="317.5" r=".72"/><circle cx="14.5" cy="317.5" r=".72"/><circle cx="18.5" cy="317.5" r=".72"/><circle cx="22.5" cy="317.5" r=".72"/></g><path d="M12.90 47.00Q17.00 44.60 16.97 49.35Q21.10 51.70 16.97 54.05Q17.00 58.80 12.90 56.40Q8.80 58.80 8.83 54.05Q4.70 51.70 8.83 49.35Q8.80 44.60 12.90 47.00z" stroke="#666" fill="none" stroke-width="1.2" stroke-linejoin="round"/><circle cx="12.9" cy="51.7" r="2.35" stroke="#666" fill="none" stroke-width="1.2"/><path d="M12.9 65.8v7l3.9-3.5z" fill="#222"/><text transform="translate(8.6 80.3) rotate(90)" textLength="39.3" lengthAdjust="spacingAndGlyphs" font-size="12" fill="#2b2b2b">Volume</text><path d="M12.9 126.5v7l3.9-3.5z" fill="#222"/><text transform="translate(8.6 141.3) rotate(90)" textLength="34.0" lengthAdjust="spacingAndGlyphs" font-size="12" fill="#2b2b2b">Trades</text><path d="M12.9 181.0v7l3.9-3.5z" fill="#222"/><text transform="translate(8.6 195.8) rotate(90)" textLength="55.0" lengthAdjust="spacingAndGlyphs" font-size="12" fill="#2b2b2b">Bid x Ask</text><path d="M12.9 256.3v7l3.9-3.5z" fill="#222"/><text transform="translate(8.6 270.6) rotate(90)" textLength="27.4" lengthAdjust="spacingAndGlyphs" font-size="12" fill="#2b2b2b">Delta</text><path d="M12.9 303.1v7l3.9-3.5z" fill="#222"/><path d="M8.6 337.9L18.1 328.7" stroke="#666" fill="none" stroke-width="1.2" stroke-linecap="round" stroke-linejoin="round"/><path d="M19.2 361.6H7.6L13.7 350M10.2 356.8Q13.6 357.6 14 361.4" stroke="#666" fill="none" stroke-width="1.2" stroke-linecap="round" stroke-linejoin="round"/><path d="M13.5 372.1V383.7" stroke="#666" fill="none" stroke-width="1.2" stroke-linecap="round" stroke-linejoin="round"/><path d="M7.6 400.2H19.2" stroke="#666" fill="none" stroke-width="1.2" stroke-linecap="round" stroke-linejoin="round"/><circle cx="8" cy="400.2" r="1" fill="#666"/><path d="M8.6 422.5H18.2M13.6 418L18.4 422.5L13.6 427.2" stroke="#666" fill="none" stroke-width="1.2" stroke-linecap="round" stroke-linejoin="round"/><path d="M8.2 445.1H19M13.4 439.6V450.6" stroke="#666" fill="none" stroke-width="1.2" stroke-linecap="round" stroke-linejoin="round"/><circle cx="13.4" cy="445.1" r="1.5" fill="#666"/><path d="M8.4 461.5H18.4M8.4 465.6H18.4M8.4 469.5H18.4M8.4 473.4H18.4" stroke="#666" fill="none" stroke-width="1.2" stroke-linecap="round" stroke-linejoin="round"/><path d="M7.6 489.2L11.4 495.2Q12.5 486.8 18.8 485" stroke="#666" fill="none" stroke-width="1.2" stroke-linecap="round" stroke-linejoin="round"/><circle cx="7.6" cy="489" r="1" fill="#666"/><circle cx="18.8" cy="485" r="1" fill="#666"/><path d="M7.9 517.5L10.6 507.6M7.9 517.5L18.1 508M7.9 517.5L18.9 515.4" stroke="#666" fill="none" stroke-width="1.2" stroke-linecap="round" stroke-linejoin="round"/><circle cx="13.4" cy="534.2" r="5.2" stroke="#666" fill="none" stroke-width="1.2" stroke-linecap="round" stroke-linejoin="round"/><circle cx="13.4" cy="534.2" r="2.1" stroke="#666" fill="none" stroke-width="1.2" stroke-linecap="round" stroke-linejoin="round"/><path d="M13.4 539.4Q16 540.3 18.9 540" stroke="#666" fill="none" stroke-width="1.2" stroke-linecap="round" stroke-linejoin="round"/><g transform="translate(13.2 557) rotate(-36)"><rect x="-7" y="-2.6" width="14" height="5.2" rx="1.2" stroke="#666" fill="none" stroke-width="1.2" stroke-linecap="round" stroke-linejoin="round"/><path d="M-4 -2.6v2M-1.3 -2.6v1.4M1.3 -2.6v2M4 -2.6v1.4" stroke="#666" stroke-width=".8"/></g><g transform="translate(13.2 579.4) rotate(32)" opacity=".6"><path d="M-6 -3.2H6M-6 0H6M-6 3.2H6" stroke="#666" fill="none" stroke-width="1.2" stroke-linecap="round" stroke-linejoin="round"/></g><path d="M10 596.4L19.6 607.2H6.7z" stroke="#666" fill="none" stroke-width="1.2" stroke-linecap="round" stroke-linejoin="round"/><rect x="6.6" y="620.6" width="13.4" height="7.8" rx="1.6" stroke="#666" fill="none" stroke-width="1.2" stroke-linecap="round" stroke-linejoin="round"/><circle cx="13.5" cy="646.4" r="6" stroke="#666" fill="none" stroke-width="1.2" stroke-linecap="round" stroke-linejoin="round"/><path d="M7.4 663V674.8" stroke="#666" fill="none" stroke-width="1.2" stroke-linecap="round" stroke-linejoin="round"/><path d="M10 665.4H12.2M10 667.8H18.4M10 670.2H15.8M10 672.7H18.4" stroke="#666" stroke-width="1.2"/><path d="M7.4 685V698M6.3 686.2L7.4 684.8L8.5 686.2M6.3 696.8L7.4 698.2L8.5 696.8" stroke="#666" fill="none" stroke-width="1.2" stroke-linecap="round" stroke-linejoin="round"/><path d="M10 687.5H12.2M10 690.1H18.4M10 692.7H15.8M10 695.4H18.4" stroke="#666" stroke-width="1.2"/><path d="M18 708V719.6" stroke="#666" stroke-width="2.2"/><path d="M13.2 709.6H15.8M7.4 712.2H15.8M11.6 714.8H15.8M11.6 717.5H15.8" stroke="#666" stroke-width="1.2"/><circle cx="8" cy="712.2" r="1.1" fill="#666"/><path d="M6.8 738.5H9.6M11.4 733.5V743.2M17.4 730V739.6M9.6 738.5L11.4 735.8L13.2 738.5L11.4 741.2zM15.6 734.8L17.4 732L19.2 734.8L17.4 737.6z" stroke="#666" fill="none" stroke-width="1.2" stroke-linecap="round" stroke-linejoin="round" stroke-width="1.1"/><circle cx="7" cy="738.5" r=".9" fill="#666"/><path d="M7.4 752.4V764.8M19.5 752.4V764.8M9.5 762.2H11.6V758.5H14.2V755.4H17.4" stroke="#666" fill="none" stroke-width="1.2" stroke-linecap="round" stroke-linejoin="round"/><path d="M7.2 783.8L19.4 780.2M11.6 779.6V786.4M14.5 775.4V784.8M16.8 778V784.8M18.7 777.5V784.4" stroke="#666" fill="none" stroke-width="1.2" stroke-linecap="round" stroke-linejoin="round" stroke-width="1.1"/><circle cx="7.4" cy="783.7" r="1" fill="#666"/><rect x="7.4" y="800.8" width="12.2" height="5.6" rx="1" stroke="#888" fill="none" stroke-width="1.2" stroke-dasharray="2 1.6"/><rect x="10.7" y="819.8" width="5.8" height="11.8" rx="1" stroke="#888" fill="none" stroke-width="1.2" stroke-dasharray="2 1.6"/><path d="M4.2 840.4H23.7M4.2 938.4H23.7" stroke="#d0d0d6" stroke-width="1"/><text x="13.3" y="862" text-anchor="middle" font-family="Liberation Serif,serif" font-size="17.5" fill="#555">T</text><path d="M8.1 875.4L10.4 873.2L14.4 873.8L19 878.6L15.2 883.4L11.6 882.6L8.1 878.6z" stroke="#666" fill="none" stroke-width="1.2" stroke-linecap="round" stroke-linejoin="round"/><circle cx="10.6" cy="876" r=".6" fill="#666"/><path d="M8.4 897H16.2L19.4 901.1L16.2 905.2H8.4Q7.2 905.2 7.2 904V898.2Q7.2 897 8.4 897z" stroke="#666" fill="none" stroke-width="1.2" stroke-linecap="round" stroke-linejoin="round"/><circle cx="15.4" cy="901.1" r=".5" fill="#666"/><path d="M18.6 919.6H10.8L7.5 923.7L10.8 927.8H18.6Q19.8 927.8 19.8 926.6V920.8Q19.8 919.6 18.6 919.6z" stroke="#666" fill="none" stroke-width="1.2" stroke-linecap="round" stroke-linejoin="round"/><circle cx="11.6" cy="923.7" r=".5" fill="#666"/></g>
<g id="toptools"><path d="M10.2 8.6H18.4L22.4 15.7L18.4 22.8H10.2L6.2 15.7z" fill="#1a1a1a"/><path d="M11.2 10.6H17.3L19.4 14.4L17 20.8H11.4L9.8 18.4L14 12.6H10z" fill="#fff"/><path d="M12.8 18.6L15.6 14L17.6 18.6z" fill="#1a1a1a"/><text x="30.7" y="19.7" textLength="86.8" lengthAdjust="spacingAndGlyphs" font-size="12" fill="#2b2b2b">AAPL@NASDAQ</text><circle cx="128.6" cy="14.2" r="5.2" stroke="#666" fill="none" stroke-width="1.2" stroke-linecap="round" stroke-linejoin="round"/><path d="M132.4 18L135.6 21.2" stroke="#666" fill="none" stroke-width="1.2" stroke-linecap="round" stroke-linejoin="round"/><text x="143.5" y="19.7" textLength="54.9" lengthAdjust="spacingAndGlyphs" font-size="12" fill="#2b2b2b">Daily chart</text><path d="M205.2 13.30h7l-3.5 3.6z" fill="#222"/><text x="220.4" y="19.7" textLength="30.1" lengthAdjust="spacingAndGlyphs" font-size="12" fill="#2b2b2b">1 Lots</text><path d="M257.4 13.30h7l-3.5 3.6z" fill="#222"/><rect x="272.4" y="8.7" width="13.2" height="9.6" rx="1.2" stroke="#666" fill="none" stroke-width="1.2" stroke-linecap="round" stroke-linejoin="round"/><path d="M279 18.3V21.2M276.2 21.4H281.8" stroke="#666" fill="none" stroke-width="1.2" stroke-linecap="round" stroke-linejoin="round"/><path d="M275 11.4h1M277.4 11.4H283M275 13.5h1M277.4 13.5H283M275 15.6h1M277.4 15.6H283" stroke="#666" stroke-width=".9"/><path d="M293.4 13.30h7l-3.5 3.6z" fill="#222"/><path d="M309 21.4L309.8 17.6L318.4 9L321.4 12L312.8 20.6z" stroke="#666" fill="none" stroke-width="1.2" stroke-linecap="round" stroke-linejoin="round"/><path d="M317 10.4L320 13.4" stroke="#666" stroke-width=".9"/><path d="M329 13.30h7l-3.5 3.6z" fill="#222"/><circle cx="350" cy="14.8" r="5.3" stroke="#666" fill="none" stroke-width="1.2" stroke-linecap="round" stroke-linejoin="round"/><path d="M353.9 18.7L357.2 21.6M347.4 14.8H352.6M350 12.2V17.4" stroke="#666" fill="none" stroke-width="1.2" stroke-linecap="round" stroke-linejoin="round"/><path d="M370.2 9.6V21.4H382.6M372.4 17.6L375.6 13.8L377.8 15.8L381.6 11.6" stroke="#666" fill="none" stroke-width="1.2" stroke-linecap="round" stroke-linejoin="round"/><text x="388" y="19.7" textLength="51.5" lengthAdjust="spacingAndGlyphs" font-size="12" fill="#2b2b2b">Indicators</text><circle cx="453.1" cy="15.3" r="6.2" stroke="#666" fill="none" stroke-width="1.2" stroke-linecap="round" stroke-linejoin="round"/><path d="M453.1 9.1V12M453.1 18.6V21.5M446.9 15.3H449.8M456.4 15.3H459.3" stroke="#666" fill="none" stroke-width="1.2" stroke-linecap="round" stroke-linejoin="round"/><path d="M467.5 13.30h7l-3.5 3.6z" fill="#222"/><rect x="483.2" y="11.8" width="10.6" height="8.4" rx="1" stroke="#666" fill="none" stroke-width="1.2" stroke-linecap="round" stroke-linejoin="round"/><path d="M485.4 11.6V9.8H495.8V18H494" stroke="#666" fill="none" stroke-width="1.2" stroke-linecap="round" stroke-linejoin="round"/><path d="M483.2 13.6H493.8" stroke="#666" stroke-width="1.6"/><path d="M503.4 13.30h7l-3.5 3.6z" fill="#222"/><text x="1091.8" y="20.7" textLength="28.1" lengthAdjust="spacingAndGlyphs" font-size="12.5" fill="#3a3a3a">Chart</text><path d="M1721.2 9.8L1716.4 14.6M1716.4 11V14.6H1720M1708.8 21.8L1713.6 17M1710 17H1713.6V20.6" stroke="#666" fill="none" stroke-width="1.2" stroke-linecap="round" stroke-linejoin="round"/><path d="M1729 13.90h7.2l-3.6 4z" fill="#222"/><path d="M1744.6 12.6H1747.6L1748.8 10.6H1752.4L1753.6 12.6H1756.4Q1757.4 12.6 1757.4 13.6V20.2Q1757.4 21.2 1756.4 21.2H1744.6Q1743.6 21.2 1743.6 20.2V13.6Q1743.6 12.6 1744.6 12.6z" stroke="#666" fill="none" stroke-width="1.2" stroke-linecap="round" stroke-linejoin="round"/><circle cx="1750.5" cy="16.6" r="2.2" stroke="#666" fill="none" stroke-width="1.2" stroke-linecap="round" stroke-linejoin="round"/><path d="M1764.8 13.90h7.2l-3.6 4z" fill="#222"/><path d="M1780.6 13.6V10H1784.2M1780.8 10.2L1784.6 14M1793.2 13.6V10H1789.6M1793 10.2L1789.2 14M1780.6 18.4V22H1784.2M1780.8 21.8L1784.6 18M1793.2 18.4V22H1789.6M1793 21.8L1789.2 18" stroke="#666" fill="none" stroke-width="1.2" stroke-linecap="round" stroke-linejoin="round" stroke-width="1.1"/><circle cx="1812.5" cy="15.8" r="7.3" fill="#f7f7f9" stroke="#9a9a9a" stroke-width="1"/><path d="M1826.2 13.90h7.2l-3.6 4z" fill="#222"/><path d="M1848.60 10.80Q1852.85 8.44 1852.93 13.30Q1857.10 15.80 1852.93 18.30Q1852.85 23.16 1848.60 20.80Q1844.35 23.16 1844.27 18.30Q1840.10 15.80 1844.27 13.30Q1844.35 8.44 1848.60 10.80z" stroke="#666" fill="none" stroke-width="1.2" stroke-linejoin="round"/><circle cx="1848.6" cy="15.8" r="2.48" stroke="#666" fill="none" stroke-width="1.2"/><rect x="1873.7" y="10.4" width="5" height="6" fill="none" stroke="#222" stroke-width="1.5"/><path d="M1877 10.4H1878.7V16.4H1877z" fill="#333"/><path d="M1872 16.7H1880.2" stroke="#222" stroke-width="1.6"/><path d="M1876.2 17V21.2" stroke="#333" stroke-width="1.4"/><path d="M1897.6 12L1906.4 20.4M1906.4 12L1897.6 20.4" stroke="#222" stroke-width="1.5" stroke-linecap="round"/></g>
<g id="overlay"><rect x="1824" y="32.5" width="16" height="15.8" rx="1.1" fill="#fff" stroke="#3a3a3a" stroke-width="1.25"/><path d="M1827.8 35V45L1834.6 40z" fill="#111"/><path d="M1835.2 35V45" stroke="#111" stroke-width="1.9"/><rect x="1901.8" y="32.7" width="9.4" height="8.6" fill="#fff" stroke="#555" stroke-width="1.2"/><text x="1906.4" y="39.8" text-anchor="middle" font-size="8.4" fill="#444">F</text><rect x="0" y="0" width="1" height="950" fill="#a6ebfb"/><rect x="1" y="1" width="1" height="949" fill="#32759b"/><rect x="2" y="2" width="1" height="948" fill="#96c3dc"/><rect x="3" y="3" width="1" height="947" fill="#deeefa"/><rect x="1912" y="3" width="1" height="947" fill="#fefff0"/><rect x="1913" y="3" width="1" height="947" fill="#d7f5fd"/><rect x="1914" y="2" width="1" height="948" fill="#96d2f8"/><rect x="1915" y="1" width="1" height="949" fill="#2a74a6"/><rect x="1916" y="0" width="1" height="950" fill="#8cb9dc"/><rect x="1917" y="0" width="1" height="950" fill="#e1e8f5"/><rect x="1918" y="0" width="1" height="950" fill="#fceeec"/><rect x="0" y="0" width="1916" height="1" fill="#d4f6fa"/><rect x="1" y="1" width="1915" height="1" fill="#5c9cc6"/><rect x="1" y="2" width="1915" height="1" fill="#2e7cb0"/><rect x="3" y="3" width="1910" height="1" fill="#d5eef6"/><rect x="3" y="4" width="1910" height="1" fill="#eaf9f6"/></g>
</svg>
</body></html>
